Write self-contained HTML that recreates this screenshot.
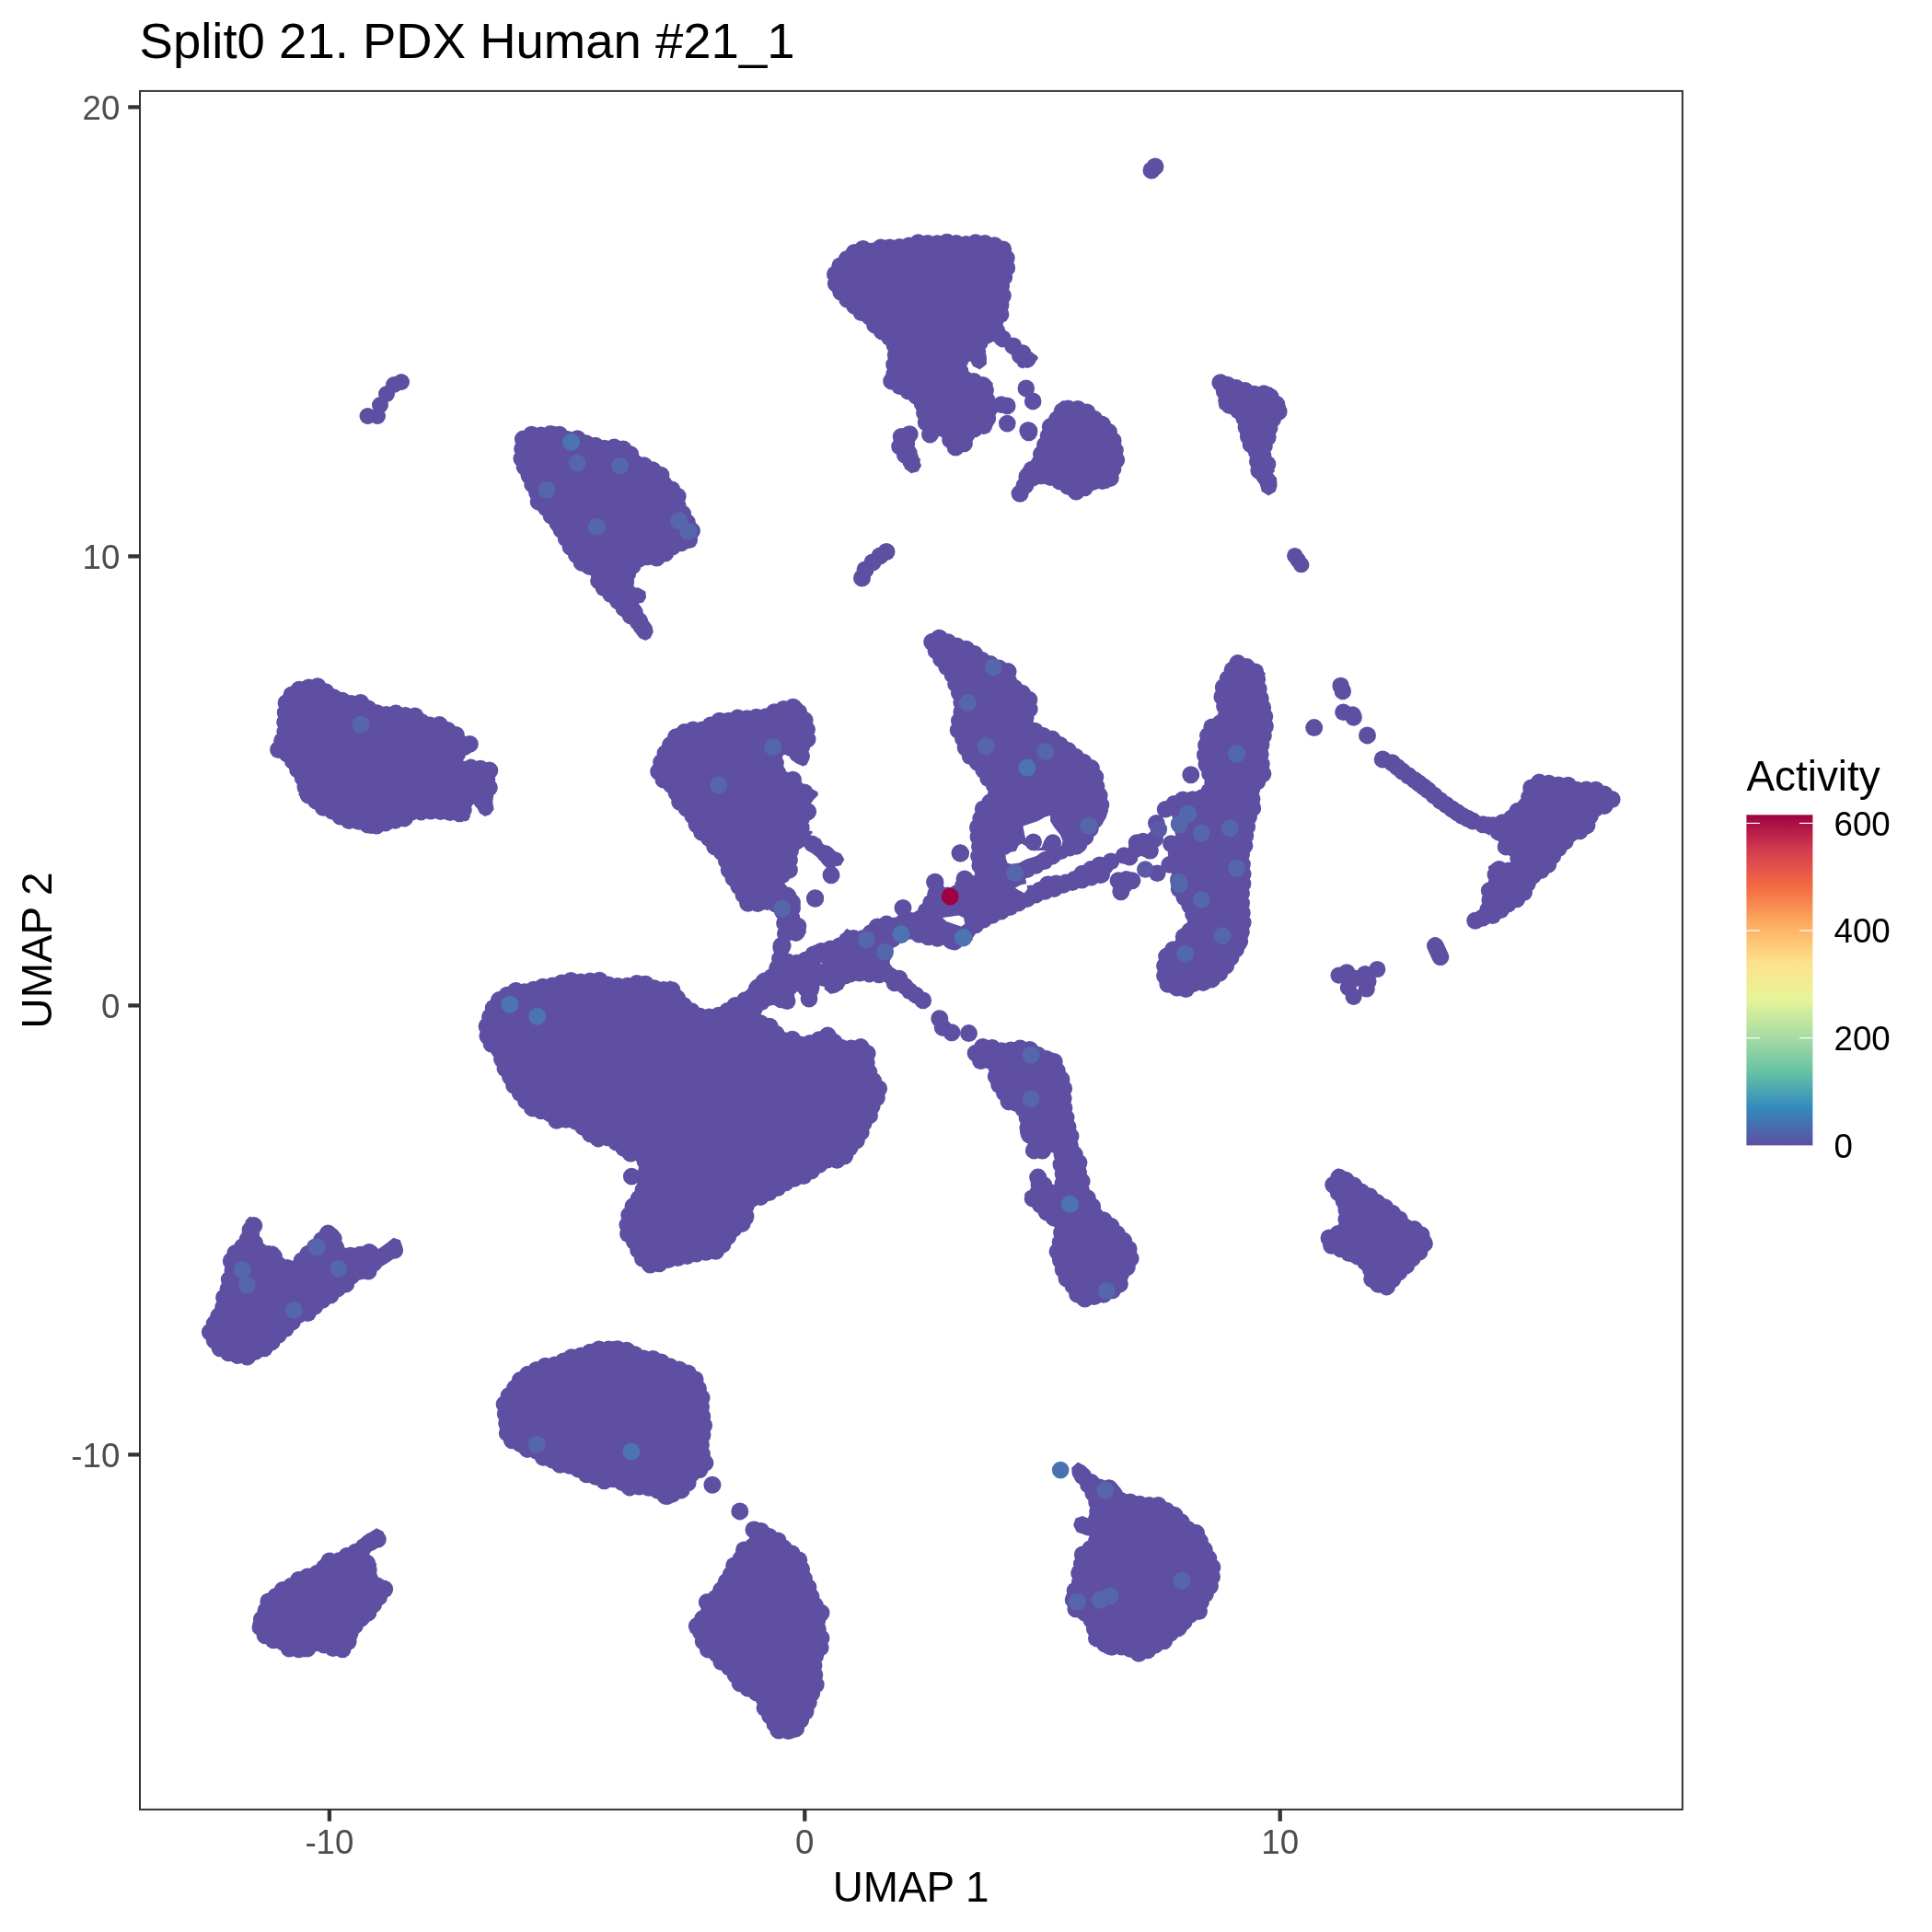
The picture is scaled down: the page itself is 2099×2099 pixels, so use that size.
<!DOCTYPE html><html><head><meta charset="utf-8"><style>html,body{margin:0;padding:0;background:#fff;}svg{display:block;will-change:transform}</style></head><body><svg width="2099" height="2099" viewBox="0 0 2099 2099"><defs><linearGradient id="sp" x1="0" y1="1" x2="0" y2="0"><stop offset="0.0000" stop-color="#5E4FA2"/><stop offset="0.1111" stop-color="#3288BD"/><stop offset="0.2222" stop-color="#66C2A5"/><stop offset="0.3333" stop-color="#ABDDA4"/><stop offset="0.4444" stop-color="#E6F598"/><stop offset="0.5556" stop-color="#FEE08B"/><stop offset="0.6667" stop-color="#FDAE61"/><stop offset="0.7778" stop-color="#F46D43"/><stop offset="0.8889" stop-color="#D53E4F"/><stop offset="1.0000" stop-color="#9E0142"/></linearGradient><clipPath id="pc"><rect x="152" y="99" width="1676" height="1867"/></clipPath></defs><rect width="2099" height="2099" fill="#fff"/><g clip-path="url(#pc)"><g fill="#5E4FA2"><path d="M910.4,323.0 L915.8,329.3 L923.1,335.7 L923.3,335.8 L927.0,339.5 L933.7,346.3 L938.3,347.0 L938.6,347.1 L938.9,347.2 L939.2,347.3 L939.5,347.5 L939.7,347.7 L940.0,347.9 L940.2,348.1 L940.4,348.3 L940.5,348.6 L944.2,354.9 L949.3,361.8 L956.2,366.1 L956.6,366.4 L962.2,371.0 L962.4,371.3 L962.7,371.6 L965.5,375.3 L965.6,375.5 L965.8,375.8 L965.9,376.0 L966.0,376.3 L966.1,376.6 L966.1,376.9 L967.0,386.2 L967.1,386.5 L967.0,386.8 L967.0,387.0 L967.0,387.3 L965.2,394.2 L966.1,403.0 L966.1,403.3 L966.1,403.6 L966.1,404.0 L966.0,404.3 L965.8,404.6 L965.7,404.9 L965.5,405.1 L965.3,405.4 L965.1,405.6 L964.8,405.9 L961.8,408.1 L959.9,412.5 L962.6,417.8 L971.1,422.9 L980.3,428.5 L990.5,434.0 L990.8,434.2 L991.1,434.4 L991.3,434.6 L991.6,434.9 L997.2,442.4 L997.3,442.6 L997.5,442.9 L997.6,443.1 L997.7,443.4 L997.7,443.7 L997.8,444.0 L998.7,453.1 L1000.5,462.1 L1001.6,465.3 L1002.0,465.3 L1002.4,465.3 L1002.7,465.4 L1003.0,465.4 L1003.3,465.5 L1003.5,465.7 L1003.8,465.8 L1004.0,466.0 L1004.3,466.2 L1004.5,466.4 L1004.7,466.7 L1004.8,466.9 L1005.0,467.2 L1005.1,467.5 L1005.2,467.8 L1005.2,468.1 L1006.0,474.0 L1011.3,476.9 L1017.1,473.3 L1019.8,471.4 L1020.1,471.3 L1020.4,471.1 L1020.7,471.0 L1021.0,471.0 L1021.3,470.9 L1021.6,470.9 L1021.9,470.9 L1022.2,471.0 L1022.5,471.0 L1022.8,471.1 L1023.1,471.3 L1023.4,471.4 L1023.7,471.6 L1023.9,471.8 L1024.1,472.1 L1024.3,472.3 L1024.4,472.6 L1024.6,472.9 L1024.7,473.2 L1027.4,482.2 L1031.4,490.2 L1038.4,493.0 L1047.1,489.9 L1053.3,485.3 L1055.8,475.2 L1055.9,474.9 L1056.0,474.6 L1056.1,474.3 L1056.3,474.1 L1056.5,473.9 L1056.7,473.6 L1056.9,473.4 L1057.2,473.3 L1057.4,473.1 L1057.7,473.0 L1067.0,469.3 L1067.3,469.2 L1067.6,469.1 L1075.5,467.5 L1079.0,462.0 L1079.0,453.6 L1079.0,453.3 L1079.0,453.0 L1079.1,452.6 L1079.2,452.3 L1081.6,446.8 L1079.1,435.9 L1076.4,428.6 L1076.3,428.3 L1076.2,428.0 L1076.2,427.7 L1076.2,427.3 L1076.2,427.0 L1076.3,426.7 L1076.4,426.4 L1076.5,426.1 L1078.1,422.9 L1078.8,416.6 L1074.3,412.1 L1068.2,412.1 L1067.9,412.1 L1067.6,412.0 L1067.3,412.0 L1067.0,411.9 L1066.8,411.7 L1057.9,407.3 L1051.9,406.5 L1051.6,406.4 L1051.3,406.3 L1051.0,406.2 L1050.8,406.1 L1050.5,405.9 L1050.3,405.7 L1050.1,405.5 L1049.9,405.3 L1049.7,405.0 L1049.5,404.8 L1049.4,404.5 L1049.3,404.2 L1049.2,403.9 L1049.2,403.6 L1048.2,394.3 L1048.2,394.0 L1048.2,393.7 L1048.3,393.4 L1048.4,393.0 L1048.5,392.8 L1048.6,392.5 L1048.8,392.2 L1049.0,391.9 L1049.2,391.7 L1049.4,391.5 L1049.7,391.3 L1052.4,389.4 L1052.7,389.3 L1053.0,389.2 L1053.3,389.0 L1053.6,389.0 L1053.9,388.9 L1054.3,388.9 L1054.6,388.9 L1054.9,389.0 L1055.2,389.1 L1055.5,389.2 L1055.8,389.3 L1056.0,389.4 L1055.7,389.4 L1055.2,389.4 L1054.8,389.4 L1054.3,389.4 L1053.9,389.5 L1053.5,389.6 L1053.1,389.8 L1052.7,390.0 L1052.3,390.3 L1052.0,390.6 L1051.7,390.9 L1051.4,391.3 L1051.2,391.6 L1051.0,392.0 L1050.8,392.4 L1050.7,392.9 L1050.6,393.3 L1050.6,393.7 L1050.6,394.2 L1050.7,394.6 L1050.8,395.0 L1050.9,395.5 L1051.1,395.9 L1051.8,397.2 L1051.4,394.0 L1054.2,392.1 L1057.0,397.7 L1064.5,401.4 L1071.9,395.8 L1071.9,388.4 L1071.5,384.6 L1071.2,384.6 L1070.7,384.7 L1070.3,384.8 L1069.9,385.0 L1069.5,385.2 L1069.2,385.5 L1068.9,385.8 L1068.6,386.1 L1068.5,386.2 L1067.8,379.4 L1067.8,379.1 L1067.8,378.8 L1067.9,378.4 L1067.9,378.1 L1068.0,377.8 L1068.2,377.6 L1068.3,377.3 L1072.1,371.7 L1072.2,371.4 L1072.5,371.2 L1072.7,371.0 L1073.0,370.8 L1073.2,370.6 L1073.5,370.5 L1078.2,368.6 L1078.5,368.5 L1078.8,368.5 L1079.1,368.4 L1079.4,368.4 L1079.7,368.4 L1080.0,368.5 L1080.3,368.6 L1080.6,368.7 L1080.9,368.8 L1081.2,369.0 L1081.4,369.1 L1081.6,369.4 L1086.7,374.4 L1091.6,376.0 L1091.8,376.1 L1092.1,376.3 L1092.4,376.4 L1092.6,376.6 L1092.8,376.8 L1098.4,382.4 L1098.6,382.6 L1098.8,382.9 L1102.5,388.5 L1102.7,388.8 L1102.9,389.2 L1106.2,398.2 L1110.9,400.6 L1116.8,396.9 L1117.1,396.7 L1117.4,396.6 L1124.1,394.1 L1127.9,389.5 L1127.0,386.8 L1118.7,381.8 L1118.4,381.6 L1110.0,375.1 L1102.5,369.2 L1098.9,369.2 L1098.6,369.2 L1098.3,369.2 L1098.0,369.1 L1097.7,369.0 L1097.4,368.8 L1097.1,368.7 L1096.9,368.5 L1096.6,368.2 L1096.4,368.0 L1096.2,367.7 L1096.1,367.5 L1093.5,362.2 L1087.2,355.1 L1087.0,354.8 L1086.8,354.6 L1086.7,354.3 L1086.6,354.0 L1086.5,353.7 L1086.4,353.4 L1086.4,353.0 L1086.4,352.7 L1086.5,352.4 L1086.6,352.1 L1086.7,351.8 L1086.8,351.5 L1087.0,351.2 L1087.1,351.0 L1087.4,350.7 L1090.8,347.2 L1094.6,341.3 L1093.0,335.1 L1093.0,334.8 L1093.0,334.5 L1093.0,334.3 L1093.0,334.0 L1093.0,333.7 L1095.7,321.2 L1093.9,310.7 L1093.9,310.3 L1093.9,310.0 L1093.9,309.7 L1094.0,309.4 L1094.0,309.1 L1094.1,308.9 L1099.5,296.3 L1100.4,286.0 L1098.6,273.7 L1096.3,268.3 L1089.1,261.9 L1075.1,259.2 L1075.0,259.2 L1062.7,256.6 L1052.2,259.2 L1051.9,259.3 L1051.5,259.3 L1051.2,259.3 L1040.0,258.3 L1039.7,258.3 L1029.2,256.6 L1022.4,258.3 L1022.0,258.3 L1021.6,258.4 L1010.4,258.4 L1010.2,258.3 L1009.9,258.3 L999.5,256.6 L985.3,261.0 L985.0,261.1 L984.7,261.1 L969.8,263.0 L969.5,263.0 L969.2,263.0 L969.0,263.0 L968.7,262.9 L961.6,261.2 L955.9,261.2 L951.2,265.8 L951.0,266.0 L950.7,266.2 L950.5,266.4 L950.2,266.5 L949.9,266.6 L949.6,266.7 L949.3,266.7 L949.0,266.7 L948.6,266.7 L948.3,266.7 L948.0,266.6 L939.3,264.0 L931.4,264.8 L923.9,269.8 L914.8,278.0 L906.8,286.0 L901.0,296.7 L901.8,302.2 L901.8,302.7 L901.8,309.4 L906.0,317.7ZM980.4,500.1 L985.3,506.7 L984.9,506.8 L984.5,506.9 L984.1,507.0 L983.7,507.2 L983.3,507.4 L983.0,507.7 L982.6,508.0 L982.4,508.2 L983.4,509.5 L989.9,514.2 L997.4,512.3 L1001.1,505.8 L999.3,502.0 L1000.2,498.3 L999.8,498.3 L999.3,498.3 L998.9,498.4 L998.5,498.5 L998.1,498.6 L997.7,498.8 L997.3,499.0 L996.9,499.2 L996.6,499.5 L997.7,495.0 L996.6,492.8 L991.4,487.5 L991.2,487.3 L991.0,487.0 L990.8,486.8 L990.7,486.5 L990.6,486.2 L990.5,485.9 L990.5,485.5 L990.5,485.2 L990.5,484.9 L990.5,484.6 L990.6,484.3 L992.5,478.7 L992.6,478.5 L995.6,470.9 L990.3,464.3 L982.6,464.3 L974.0,470.5 L971.7,476.7 L970.8,484.8 L974.1,492.9 L980.2,499.9ZM566.2,512.1 L566.4,512.3 L566.6,512.6 L566.8,512.8 L567.0,513.1 L567.2,513.4 L567.3,513.7 L568.5,517.4 L572.4,526.4 L572.5,526.7 L572.5,527.0 L573.7,532.5 L576.8,535.7 L577.1,536.0 L577.2,536.2 L577.4,536.5 L577.5,536.8 L577.6,537.1 L577.7,537.4 L577.8,537.7 L577.8,538.0 L577.8,538.3 L577.2,544.1 L578.5,548.7 L582.5,550.7 L582.8,550.9 L586.7,553.4 L587.0,553.6 L587.2,553.9 L587.4,554.1 L587.6,554.4 L587.8,554.7 L590.3,559.6 L593.7,564.2 L598.5,567.8 L598.7,568.0 L599.0,568.2 L599.1,568.4 L599.3,568.7 L599.5,569.0 L599.6,569.2 L599.7,569.5 L599.7,569.8 L599.8,570.1 L599.8,570.4 L599.8,570.7 L599.3,574.8 L601.4,578.2 L605.8,580.4 L606.1,580.6 L606.3,580.8 L606.6,581.0 L606.8,581.2 L607.0,581.5 L607.2,581.8 L607.3,582.1 L609.9,588.6 L612.3,594.6 L615.8,599.3 L619.6,603.0 L619.8,603.2 L619.9,603.5 L620.1,603.7 L620.2,604.0 L620.3,604.3 L621.4,607.4 L624.7,610.8 L625.0,611.0 L625.2,611.3 L625.3,611.6 L626.6,614.2 L628.8,618.5 L633.7,621.5 L638.0,621.5 L638.3,621.5 L638.7,621.6 L639.0,621.7 L642.9,622.9 L643.2,623.1 L643.4,623.2 L643.7,623.4 L644.0,623.6 L644.2,623.8 L644.4,624.0 L644.6,624.2 L644.7,624.5 L644.8,624.8 L644.9,625.1 L645.0,625.4 L645.1,625.7 L645.1,626.0 L645.1,626.3 L645.0,626.6 L643.8,632.5 L644.8,638.3 L651.4,642.7 L651.7,642.9 L652.0,643.2 L652.2,643.5 L655.7,648.1 L661.6,651.7 L662.0,651.9 L662.3,652.2 L664.8,654.8 L665.0,655.0 L671.5,662.8 L671.5,662.8 L676.6,669.1 L681.5,674.1 L687.9,679.1 L688.1,679.4 L688.4,679.6 L691.2,683.1 L690.9,683.1 L690.4,683.1 L690.0,683.2 L689.5,683.2 L689.1,683.4 L688.7,683.6 L688.3,683.8 L687.9,684.0 L687.8,684.1 L691.0,688.1 L694.9,693.3 L701.4,695.9 L706.6,693.3 L709.8,686.8 L708.5,680.3 L704.0,673.9 L703.7,672.3 L703.4,672.5 L703.0,672.7 L702.7,673.0 L702.4,673.3 L702.1,673.7 L701.8,674.0 L701.6,674.4 L701.5,674.8 L701.3,675.3 L701.3,675.6 L701.2,675.4 L701.0,675.1 L700.9,674.8 L700.8,674.5 L699.7,668.7 L696.3,664.2 L691.1,657.7 L690.9,657.5 L690.8,657.2 L690.7,656.9 L690.6,656.6 L690.5,656.3 L690.4,656.0 L690.4,655.7 L690.5,655.3 L690.5,655.0 L690.6,654.7 L690.7,654.4 L690.8,654.2 L690.8,654.3 L690.7,654.7 L690.7,655.1 L690.7,655.6 L690.7,656.0 L690.8,656.5 L690.9,656.9 L691.1,657.3 L691.3,657.7 L691.6,658.0 L691.8,658.4 L692.2,658.7 L692.5,659.0 L692.9,659.2 L693.3,659.4 L693.7,659.6 L694.1,659.7 L694.5,659.8 L695.0,659.9 L695.4,659.9 L695.8,659.8 L696.3,659.7 L696.7,659.6 L693.6,655.7 L698.8,654.5 L702.0,649.3 L701.4,642.8 L694.9,638.9 L692.5,637.9 L692.5,638.0 L692.3,638.4 L692.2,638.8 L692.1,639.3 L692.0,639.7 L692.1,640.1 L692.1,640.6 L692.2,641.0 L692.3,641.3 L687.3,639.3 L687.0,639.2 L686.7,639.0 L686.5,638.8 L686.2,638.6 L686.0,638.4 L685.8,638.1 L685.6,637.9 L685.5,637.6 L685.4,637.3 L685.3,637.0 L685.3,636.7 L685.3,636.4 L685.3,636.0 L685.3,635.7 L685.4,635.4 L685.5,635.1 L685.6,634.8 L685.8,634.6 L686.0,634.3 L686.2,634.1 L688.2,632.1 L689.0,628.6 L687.9,624.2 L687.9,623.9 L687.8,623.5 L687.9,623.2 L687.9,622.9 L687.9,622.6 L688.0,622.3 L688.2,622.0 L688.3,621.7 L688.5,621.5 L688.7,621.2 L688.9,621.0 L689.2,620.8 L689.5,620.6 L689.7,620.5 L690.0,620.4 L693.2,619.3 L696.0,616.5 L697.1,613.3 L697.2,613.0 L697.3,612.8 L697.5,612.5 L697.7,612.3 L697.9,612.0 L698.1,611.8 L698.4,611.7 L698.6,611.5 L698.9,611.4 L699.2,611.3 L699.5,611.2 L699.8,611.2 L700.1,611.1 L705.3,611.1 L705.6,611.2 L705.9,611.2 L706.2,611.3 L706.4,611.4 L706.7,611.5 L710.8,613.5 L714.5,612.6 L719.4,610.2 L724.3,607.7 L728.6,604.5 L729.6,602.6 L729.7,602.3 L729.9,602.1 L730.1,601.8 L730.3,601.6 L730.5,601.4 L730.8,601.3 L735.9,598.0 L736.2,597.9 L736.5,597.8 L741.7,595.8 L742.0,595.7 L742.2,595.7 L742.5,595.6 L742.8,595.6 L748.5,595.6 L752.2,593.8 L754.6,590.0 L755.1,584.3 L755.2,583.9 L755.3,583.6 L755.4,583.3 L755.5,583.0 L758.6,577.3 L756.8,573.1 L751.7,564.2 L748.5,559.1 L748.4,558.8 L748.2,558.6 L748.2,558.3 L746.4,552.4 L741.6,546.5 L741.4,546.2 L741.3,546.0 L741.1,545.7 L741.0,545.4 L741.0,545.1 L740.9,544.8 L740.9,544.5 L740.9,544.2 L741.0,543.9 L741.0,543.6 L741.1,543.3 L741.2,543.0 L743.3,538.8 L742.5,534.6 L736.9,530.1 L736.7,529.9 L731.9,525.1 L727.1,522.7 L726.9,522.6 L726.6,522.4 L726.4,522.2 L726.1,521.9 L725.9,521.7 L725.8,521.4 L725.6,521.1 L725.5,520.8 L725.4,520.5 L725.4,520.2 L725.4,519.9 L725.4,515.8 L722.4,511.8 L716.6,507.1 L707.9,503.4 L707.5,503.2 L701.7,499.7 L695.9,499.1 L695.6,499.1 L695.3,499.0 L695.0,498.9 L694.7,498.8 L694.5,498.6 L694.2,498.4 L694.0,498.2 L693.8,498.0 L693.6,497.8 L693.4,497.5 L693.3,497.2 L690.7,491.5 L688.4,486.8 L684.3,482.7 L677.6,481.6 L677.3,481.6 L677.0,481.5 L676.7,481.4 L676.5,481.2 L671.3,478.1 L664.9,480.2 L664.5,480.3 L664.1,480.4 L656.4,481.0 L656.1,481.0 L655.8,481.0 L655.5,481.0 L655.2,480.9 L654.9,480.8 L647.4,477.7 L638.6,475.8 L638.3,475.7 L638.0,475.6 L637.7,475.4 L628.3,470.1 L619.0,471.3 L618.7,471.3 L618.3,471.3 L618.0,471.3 L617.7,471.2 L617.4,471.1 L617.1,470.9 L616.8,470.8 L609.3,465.8 L603.0,463.1 L595.1,466.0 L594.7,466.1 L594.3,466.1 L587.8,466.8 L587.5,466.8 L587.2,466.8 L586.8,466.7 L586.5,466.6 L579.9,464.4 L573.2,467.2 L566.1,470.1 L562.2,474.6 L561.6,485.1 L561.6,485.2 L560.3,502.8 L561.9,508.9ZM303.6,797.6 L303.6,797.9 L303.5,798.2 L303.4,798.5 L303.3,798.7 L303.2,799.0 L303.1,799.3 L302.9,799.5 L298.4,805.3 L296.5,811.5 L296.0,816.8 L299.3,820.5 L305.2,821.7 L305.5,821.8 L305.8,821.9 L306.1,822.0 L306.3,822.2 L306.6,822.3 L306.8,822.6 L311.0,826.7 L311.3,827.0 L311.5,827.4 L315.7,834.3 L315.8,834.6 L319.9,842.7 L324.7,849.5 L324.8,849.8 L325.0,850.1 L325.1,850.4 L325.2,850.7 L325.2,851.0 L325.9,858.0 L325.9,858.3 L325.9,858.6 L325.9,858.9 L325.8,859.2 L325.7,859.5 L324.3,863.3 L326.2,865.7 L332.8,869.6 L333.1,869.8 L340.1,875.4 L340.4,875.7 L346.9,882.2 L353.3,884.7 L360.3,887.5 L360.5,887.7 L360.8,887.8 L361.1,888.0 L367.8,893.4 L375.5,897.2 L381.7,898.5 L388.4,898.5 L388.7,898.5 L389.0,898.5 L389.3,898.6 L389.6,898.7 L396.6,901.5 L396.9,901.6 L397.1,901.8 L397.4,902.0 L402.8,906.3 L407.9,903.7 L408.2,903.6 L408.5,903.5 L408.8,903.4 L409.1,903.4 L415.5,902.7 L423.3,898.8 L423.6,898.7 L423.9,898.6 L424.2,898.5 L432.6,897.1 L439.2,895.8 L445.1,893.4 L448.7,888.6 L448.9,888.3 L449.2,888.1 L449.4,887.9 L449.7,887.7 L450.0,887.6 L450.3,887.5 L450.6,887.4 L450.9,887.3 L451.2,887.3 L451.5,887.3 L451.8,887.3 L459.6,888.6 L466.0,887.4 L466.4,887.3 L466.7,887.3 L475.1,887.3 L475.5,887.3 L475.8,887.4 L483.7,889.4 L490.1,888.7 L490.4,888.7 L490.7,888.7 L491.0,888.7 L499.3,890.1 L499.7,890.2 L500.0,890.3 L505.7,892.6 L509.0,890.9 L510.9,887.2 L509.6,879.8 L509.6,879.5 L509.6,879.2 L509.6,878.9 L509.7,878.5 L511.1,873.0 L511.2,872.7 L511.3,872.4 L511.4,872.1 L511.6,871.8 L511.8,871.6 L512.0,871.4 L512.2,871.2 L512.5,871.0 L512.8,870.9 L513.0,870.7 L513.3,870.6 L513.6,870.6 L513.9,870.5 L514.2,870.5 L514.6,870.5 L514.9,870.6 L515.2,870.7 L515.4,870.8 L515.7,870.9 L516.0,871.1 L516.2,871.3 L516.5,871.5 L519.7,874.7 L519.5,874.7 L519.1,874.7 L518.6,874.7 L518.2,874.7 L517.8,874.8 L517.3,875.0 L516.9,875.2 L516.6,875.4 L516.2,875.6 L516.2,875.7 L518.4,877.9 L521.2,883.5 L526.8,887.0 L532.4,884.9 L536.6,879.3 L535.2,870.9 L535.6,868.6 L535.2,868.6 L534.8,868.7 L534.3,868.8 L533.9,868.9 L533.5,869.1 L533.1,869.3 L532.8,869.6 L532.4,869.9 L532.1,870.2 L532.0,870.3 L532.0,870.3 L533.4,863.3 L533.5,863.0 L533.6,862.7 L533.7,862.4 L533.9,862.2 L534.1,861.9 L534.3,861.7 L538.9,857.0 L538.9,852.3 L535.2,846.0 L535.1,845.8 L534.9,845.5 L534.9,845.2 L534.8,844.9 L534.8,844.6 L534.8,844.3 L534.8,844.0 L534.8,843.7 L534.9,843.4 L535.0,843.1 L535.1,842.8 L535.3,842.6 L535.5,842.3 L535.7,842.1 L540.1,837.7 L539.3,833.8 L532.8,830.0 L525.1,829.4 L524.9,829.4 L524.6,829.3 L516.7,827.3 L509.1,828.0 L503.8,829.3 L503.5,829.4 L503.2,829.4 L502.9,829.4 L502.5,829.4 L502.2,829.3 L501.9,829.2 L501.6,829.1 L501.4,829.0 L501.1,828.8 L500.9,828.6 L500.6,828.4 L500.4,828.1 L500.3,827.8 L500.1,827.6 L500.0,827.3 L499.9,827.0 L499.8,826.7 L499.8,826.4 L499.8,826.0 L499.8,825.7 L499.9,825.4 L500.0,825.1 L500.1,824.8 L500.3,824.6 L500.5,824.3 L504.6,818.7 L504.9,818.4 L505.1,818.2 L505.4,818.0 L505.6,817.8 L505.9,817.7 L506.2,817.6 L506.6,817.5 L506.9,817.4 L513.1,816.8 L517.2,814.3 L519.0,809.7 L516.0,804.7 L510.9,801.2 L506.9,802.7 L506.6,802.8 L506.3,802.8 L506.0,802.9 L505.7,802.9 L505.4,802.8 L505.1,802.8 L504.8,802.7 L504.5,802.6 L504.2,802.4 L503.9,802.2 L503.7,802.0 L503.4,801.8 L503.2,801.6 L503.1,801.3 L502.9,801.0 L502.8,800.7 L502.7,800.4 L501.5,795.7 L495.7,789.9 L488.0,787.3 L487.8,787.2 L487.5,787.1 L487.3,787.0 L487.0,786.8 L480.7,781.7 L472.4,780.5 L465.9,781.8 L465.6,781.9 L465.3,781.9 L464.9,781.9 L464.6,781.8 L464.3,781.7 L464.0,781.6 L463.7,781.5 L463.5,781.3 L463.2,781.1 L463.0,780.9 L462.8,780.7 L462.6,780.4 L462.4,780.1 L459.9,775.2 L454.6,770.9 L447.6,772.1 L447.3,772.1 L446.9,772.1 L446.6,772.1 L438.2,770.7 L438.0,770.6 L430.1,768.7 L423.8,769.3 L417.0,770.7 L416.7,770.7 L416.4,770.7 L416.1,770.7 L415.8,770.7 L415.5,770.6 L415.2,770.5 L414.9,770.4 L406.6,766.2 L401.0,763.4 L400.7,763.2 L400.4,763.0 L400.1,762.8 L396.2,758.9 L390.8,755.6 L383.8,758.0 L383.5,758.1 L383.2,758.1 L382.9,758.1 L382.6,758.1 L382.3,758.1 L382.0,758.0 L376.5,756.6 L376.1,756.5 L375.8,756.4 L375.5,756.2 L375.2,756.0 L369.3,751.3 L365.1,751.8 L364.8,751.8 L364.5,751.8 L364.2,751.8 L363.9,751.7 L363.6,751.7 L363.3,751.5 L363.0,751.4 L362.8,751.2 L362.6,751.1 L357.1,746.3 L348.9,740.8 L348.8,740.8 L343.4,737.0 L338.1,739.6 L337.9,739.8 L337.6,739.8 L327.8,742.6 L327.5,742.7 L327.2,742.8 L318.6,743.4 L312.7,749.9 L304.9,761.6 L304.3,771.9 L304.2,772.3 L302.9,778.9 L303.6,786.8 L303.6,787.1ZM717.7,854.6 L722.6,855.6 L722.9,855.6 L723.3,855.8 L723.6,855.9 L723.8,856.1 L724.1,856.3 L724.3,856.5 L724.6,856.8 L728.4,862.0 L728.6,862.2 L728.8,862.5 L728.9,862.9 L731.5,870.5 L733.6,875.8 L737.7,877.8 L738.0,878.0 L738.2,878.2 L738.5,878.4 L738.7,878.7 L738.9,878.9 L741.3,882.5 L746.3,887.5 L746.5,887.7 L746.7,888.0 L746.8,888.2 L747.0,888.5 L747.1,888.8 L747.1,889.1 L747.2,889.4 L747.2,889.8 L747.2,892.7 L750.4,898.1 L754.0,901.7 L754.2,902.0 L754.4,902.2 L754.6,902.5 L754.7,902.8 L756.9,908.3 L762.5,911.6 L762.8,911.8 L763.1,912.1 L767.0,916.0 L767.2,916.3 L767.4,916.6 L771.3,923.0 L774.7,928.6 L780.1,930.8 L780.4,930.9 L780.7,931.1 L780.9,931.2 L781.2,931.4 L781.4,931.7 L781.6,931.9 L781.7,932.2 L781.9,932.4 L782.0,932.7 L784.6,940.5 L784.6,940.7 L786.6,948.5 L788.2,955.2 L793.9,959.7 L794.1,959.9 L794.4,960.2 L794.6,960.5 L794.7,960.8 L797.3,965.9 L801.1,972.2 L801.2,972.4 L803.8,977.6 L804.0,978.0 L806.2,984.7 L811.0,987.5 L819.0,988.1 L826.3,987.5 L835.2,985.6 L835.5,985.6 L835.8,985.5 L836.1,985.6 L836.4,985.6 L836.7,985.7 L837.0,985.8 L837.3,985.9 L837.6,986.0 L842.7,989.3 L843.0,989.4 L843.2,989.6 L843.4,989.8 L843.6,990.1 L843.8,990.3 L843.9,990.6 L844.1,990.9 L844.1,991.2 L844.2,991.5 L845.1,996.8 L845.4,996.8 L846.2,1002.8 L846.3,1003.0 L847.6,1017.8 L847.6,1018.1 L847.6,1018.4 L847.5,1018.7 L847.5,1019.0 L847.4,1019.3 L847.2,1019.6 L847.1,1019.9 L846.9,1020.1 L841.3,1026.8 L843.4,1033.2 L843.5,1033.5 L843.6,1033.8 L843.6,1034.2 L843.6,1034.5 L843.5,1034.8 L843.4,1035.2 L843.3,1035.5 L839.4,1044.5 L838.2,1053.5 L838.1,1053.8 L838.0,1054.1 L837.9,1054.4 L837.8,1054.7 L837.7,1054.7 L832.3,1057.9 L828.6,1059.8 L820.0,1066.0 L818.1,1069.8 L817.3,1070.6 L813.0,1077.7 L803.2,1082.0 L803.2,1084.6 L797.1,1085.9 L788.1,1092.6 L787.9,1092.7 L787.6,1092.9 L778.1,1097.6 L777.8,1097.7 L777.6,1097.8 L777.3,1097.9 L777.0,1097.9 L765.1,1099.1 L764.8,1099.2 L764.5,1099.1 L764.2,1099.1 L763.9,1099.0 L763.6,1098.9 L763.3,1098.8 L763.1,1098.7 L753.5,1092.7 L753.3,1092.6 L743.8,1085.4 L743.6,1085.2 L743.3,1085.0 L743.1,1084.8 L743.0,1084.5 L736.0,1072.9 L728.4,1065.3 L721.0,1069.1 L720.7,1069.2 L720.4,1069.3 L720.0,1069.3 L719.7,1069.4 L719.4,1069.4 L719.1,1069.4 L718.7,1069.3 L709.2,1066.9 L708.9,1066.8 L708.6,1066.7 L708.3,1066.5 L708.1,1066.4 L699.8,1060.1 L691.7,1062.2 L677.4,1065.7 L677.2,1065.8 L676.9,1065.8 L676.6,1065.8 L676.3,1065.8 L664.4,1064.6 L664.2,1064.6 L663.9,1064.5 L663.6,1064.4 L663.3,1064.3 L650.0,1057.6 L634.5,1061.0 L634.2,1061.0 L633.9,1061.1 L633.6,1061.1 L633.4,1061.0 L617.5,1058.8 L601.6,1064.4 L601.2,1064.5 L600.9,1064.6 L582.4,1066.9 L573.3,1071.4 L573.0,1071.6 L572.7,1071.7 L572.4,1071.7 L572.1,1071.8 L571.7,1071.8 L571.4,1071.7 L571.1,1071.7 L570.8,1071.6 L570.5,1071.4 L562.6,1067.5 L553.4,1073.6 L553.1,1073.8 L552.8,1074.0 L540.6,1078.4 L529.6,1093.8 L522.8,1114.2 L523.9,1129.8 L526.8,1137.7 L535.2,1141.9 L535.5,1142.1 L535.8,1142.2 L536.0,1142.5 L536.3,1142.7 L536.5,1143.0 L536.6,1143.2 L536.8,1143.5 L536.9,1143.8 L540.4,1155.6 L543.8,1164.7 L548.4,1171.6 L548.6,1171.9 L548.7,1172.2 L552.1,1181.2 L557.7,1188.0 L557.8,1188.1 L564.9,1197.6 L571.8,1206.8 L580.1,1213.0 L591.0,1213.0 L591.3,1213.0 L591.6,1213.1 L591.9,1213.1 L592.2,1213.2 L592.5,1213.4 L592.7,1213.5 L593.0,1213.7 L593.2,1213.9 L593.4,1214.2 L593.6,1214.4 L597.9,1220.9 L605.5,1224.6 L611.4,1222.7 L611.7,1222.6 L612.0,1222.5 L612.4,1222.5 L619.5,1222.5 L619.8,1222.5 L620.1,1222.6 L620.4,1222.6 L620.7,1222.7 L620.9,1222.8 L621.2,1223.0 L621.4,1223.2 L631.0,1230.3 L631.3,1230.6 L640.5,1239.8 L648.5,1243.8 L656.8,1241.7 L657.2,1241.6 L657.5,1241.6 L657.8,1241.6 L658.1,1241.6 L658.4,1241.7 L658.7,1241.7 L659.0,1241.9 L659.3,1242.0 L671.2,1249.2 L671.4,1249.3 L671.6,1249.5 L671.8,1249.7 L672.0,1249.9 L672.2,1250.1 L676.6,1256.7 L682.0,1260.4 L690.2,1258.3 L690.5,1258.3 L690.8,1258.2 L691.1,1258.2 L691.4,1258.3 L691.8,1258.3 L692.1,1258.4 L692.4,1258.6 L692.6,1258.7 L692.9,1258.9 L693.1,1259.1 L693.4,1259.3 L693.6,1259.6 L693.7,1259.8 L693.9,1260.1 L694.0,1260.4 L696.4,1267.6 L696.4,1267.8 L696.5,1268.1 L696.5,1268.4 L696.5,1268.7 L696.5,1269.0 L694.1,1288.0 L694.1,1288.4 L694.0,1288.7 L693.8,1289.1 L689.1,1298.6 L688.9,1298.8 L688.8,1299.1 L681.9,1308.2 L677.4,1319.4 L675.1,1333.1 L675.1,1343.0 L680.8,1346.9 L681.1,1347.1 L681.3,1347.3 L681.6,1347.5 L681.7,1347.8 L681.9,1348.1 L686.7,1357.6 L686.8,1357.9 L691.3,1369.2 L700.0,1377.8 L708.0,1381.8 L716.0,1379.8 L725.2,1375.2 L725.5,1375.1 L725.8,1375.0 L726.0,1375.0 L737.9,1372.6 L749.8,1370.2 L764.0,1366.7 L764.4,1366.6 L764.8,1366.6 L776.1,1366.6 L784.2,1363.5 L790.7,1354.8 L795.4,1347.7 L800.2,1340.6 L800.4,1340.4 L800.5,1340.2 L800.8,1340.0 L801.0,1339.8 L801.2,1339.6 L812.8,1332.7 L818.2,1327.2 L816.5,1322.0 L816.4,1321.6 L816.3,1321.3 L816.3,1321.0 L816.3,1311.4 L816.3,1311.1 L816.4,1310.8 L816.5,1310.5 L816.6,1310.2 L816.7,1309.9 L816.9,1309.7 L817.0,1309.4 L817.3,1309.2 L817.5,1309.0 L817.7,1308.8 L818.0,1308.6 L818.3,1308.5 L818.6,1308.4 L818.9,1308.3 L830.3,1306.0 L841.7,1299.2 L841.9,1299.0 L851.2,1294.4 L860.5,1287.4 L860.7,1287.3 L860.9,1287.1 L861.2,1287.0 L861.5,1286.9 L861.8,1286.9 L873.2,1284.6 L881.9,1280.2 L888.7,1273.5 L889.0,1273.2 L889.3,1273.0 L901.2,1265.8 L901.5,1265.7 L901.7,1265.6 L902.0,1265.5 L902.3,1265.4 L902.6,1265.4 L902.9,1265.4 L903.2,1265.4 L903.5,1265.4 L914.0,1267.5 L921.8,1261.7 L926.2,1252.9 L926.4,1252.6 L926.6,1252.3 L926.8,1252.0 L933.8,1245.0 L940.3,1236.3 L942.6,1225.1 L942.7,1224.8 L942.8,1224.5 L942.9,1224.2 L943.1,1223.9 L943.2,1223.7 L943.5,1223.5 L949.9,1217.0 L952.1,1206.0 L952.2,1205.7 L952.3,1205.4 L952.5,1205.1 L960.5,1191.4 L961.5,1181.4 L955.1,1172.9 L954.9,1172.6 L954.8,1172.4 L947.6,1158.1 L947.5,1157.8 L947.4,1157.5 L947.3,1157.2 L947.3,1156.9 L947.3,1156.6 L947.3,1156.3 L947.3,1156.0 L949.5,1145.2 L945.5,1137.1 L939.6,1131.3 L929.4,1131.3 L920.3,1133.6 L920.0,1133.6 L919.7,1133.7 L919.4,1133.7 L919.0,1133.6 L918.7,1133.6 L918.4,1133.5 L918.1,1133.4 L917.9,1133.2 L917.6,1133.0 L908.1,1125.9 L907.9,1125.7 L907.6,1125.5 L907.5,1125.3 L907.3,1125.0 L907.1,1124.8 L903.5,1117.5 L896.8,1119.2 L882.9,1126.2 L882.5,1126.3 L882.2,1126.4 L872.7,1128.8 L872.4,1128.9 L872.1,1128.9 L871.7,1128.9 L871.4,1128.9 L871.1,1128.8 L870.8,1128.7 L870.5,1128.6 L870.2,1128.5 L870.0,1128.3 L861.7,1122.0 L853.6,1124.1 L853.3,1124.1 L853.0,1124.1 L852.7,1124.2 L852.4,1124.1 L852.1,1124.1 L851.8,1124.0 L851.6,1123.9 L851.3,1123.7 L851.0,1123.6 L850.8,1123.4 L850.6,1123.2 L850.4,1123.0 L850.2,1122.7 L845.6,1115.8 L839.2,1109.5 L825.7,1104.9 L825.4,1104.8 L825.1,1104.7 L824.8,1104.5 L824.6,1104.3 L824.4,1104.1 L824.2,1103.9 L824.0,1103.6 L823.8,1103.4 L823.7,1103.1 L823.6,1102.8 L823.5,1102.5 L823.5,1102.2 L823.5,1101.9 L823.5,1101.6 L823.5,1101.3 L823.6,1101.0 L823.7,1100.7 L823.9,1100.4 L824.0,1100.1 L824.2,1099.9 L824.4,1099.6 L829.2,1094.9 L829.4,1094.7 L829.7,1094.5 L836.8,1089.7 L837.1,1089.6 L837.3,1089.4 L837.6,1089.3 L838.0,1089.2 L838.3,1089.2 L838.6,1089.2 L838.9,1089.2 L839.2,1089.2 L839.5,1089.3 L846.8,1091.7 L853.4,1094.0 L858.2,1091.1 L861.2,1086.2 L860.1,1082.1 L860.1,1081.8 L860.1,1081.4 L860.1,1081.1 L860.1,1080.8 L860.2,1080.4 L860.3,1080.1 L860.4,1079.8 L860.6,1079.5 L863.3,1075.5 L863.5,1075.2 L863.7,1075.0 L863.9,1074.8 L864.2,1074.6 L864.4,1074.4 L864.7,1074.3 L865.0,1074.2 L865.3,1074.1 L865.6,1074.1 L865.7,1074.1 L870.4,1077.2 L870.9,1077.7 L871.1,1077.9 L871.3,1078.2 L876.2,1085.6 L880.2,1087.6 L884.5,1083.7 L885.7,1083.1 L887.8,1070.4 L887.9,1070.1 L888.0,1069.8 L888.1,1069.5 L888.2,1069.3 L888.4,1069.0 L888.6,1068.8 L888.8,1068.6 L889.1,1068.4 L889.3,1068.2 L889.6,1068.0 L889.9,1067.9 L890.2,1067.8 L890.5,1067.8 L890.8,1067.8 L891.1,1067.8 L891.4,1067.8 L891.7,1067.9 L892.0,1067.9 L892.3,1068.1 L892.6,1068.2 L896.2,1070.4 L895.5,1074.6 L902.3,1080.0 L909.0,1078.6 L915.7,1074.6 L918.4,1069.2 L922.5,1068.5 L922.4,1068.2 L922.3,1067.8 L922.0,1067.4 L921.8,1067.1 L921.5,1066.7 L921.2,1066.4 L920.9,1066.1 L920.5,1065.9 L920.3,1065.7 L920.9,1065.5 L925.5,1064.8 L929.1,1063.0 L929.3,1063.0 L957.9,1065.4 L958.2,1065.4 L959.9,1065.7 L964.2,1069.2 L968.2,1069.2 L972.3,1054.4 L966.8,1047.8 L966.8,1043.2 L963.7,1043.2 L966.5,1038.5 L967.7,1029.1 L967.8,1028.8 L967.9,1028.5 L968.0,1028.2 L968.2,1027.9 L968.3,1027.6 L968.5,1027.4 L968.8,1027.1 L969.0,1026.9 L969.3,1026.8 L969.5,1026.6 L969.8,1026.5 L978.9,1023.2 L986.6,1018.1 L986.9,1017.9 L987.2,1017.8 L987.5,1017.7 L987.8,1017.6 L988.1,1017.6 L988.4,1017.5 L988.7,1017.6 L989.0,1017.6 L989.3,1017.7 L989.6,1017.8 L989.8,1017.9 L995.1,1020.5 L1002.6,1023.7 L1010.2,1024.3 L1010.6,1024.3 L1010.9,1024.4 L1017.8,1026.7 L1023.2,1024.0 L1023.2,1025.8 L1033.2,1029.3 L1034.2,1028.7 L1035.3,1029.7 L1038.8,1029.7 L1048.9,1024.6 L1049.1,1024.5 L1056.8,1021.3 L1056.8,1014.5 L1058.5,1013.3 L1058.6,1013.3 L1074.7,1002.5 L1075.0,1002.3 L1075.3,1002.2 L1094.0,994.2 L1112.8,984.8 L1112.8,984.8 L1133.0,975.3 L1133.3,975.2 L1133.5,975.2 L1148.1,971.2 L1160.0,965.9 L1160.3,965.8 L1160.7,965.7 L1174.0,963.0 L1187.3,959.0 L1187.5,959.0 L1198.6,956.5 L1204.2,949.8 L1207.7,937.9 L1205.0,930.2 L1196.0,932.2 L1172.4,944.0 L1161.9,951.9 L1161.6,952.1 L1161.3,952.2 L1161.0,952.3 L1160.7,952.4 L1160.4,952.5 L1149.6,953.8 L1149.3,953.9 L1149.0,953.8 L1148.7,953.8 L1148.4,953.8 L1139.3,951.5 L1132.5,957.7 L1132.3,957.9 L1132.1,958.0 L1124.1,963.4 L1123.7,963.6 L1123.4,963.7 L1123.1,963.8 L1117.7,965.2 L1117.4,965.3 L1117.1,965.3 L1116.8,965.3 L1116.5,965.3 L1116.2,965.2 L1115.9,965.1 L1115.6,965.0 L1115.3,964.9 L1115.0,964.7 L1114.8,964.5 L1114.6,964.3 L1114.4,964.1 L1114.2,963.8 L1114.1,963.6 L1113.9,963.3 L1111.2,956.6 L1111.1,956.2 L1111.1,955.9 L1111.0,955.6 L1111.0,955.3 L1111.0,955.0 L1111.1,954.7 L1111.2,954.4 L1111.3,954.1 L1111.4,953.8 L1111.6,953.5 L1111.8,953.3 L1112.0,953.0 L1112.2,952.8 L1112.5,952.6 L1112.8,952.5 L1113.1,952.4 L1123.6,948.4 L1132.8,943.2 L1133.1,943.0 L1142.1,939.1 L1149.8,932.7 L1150.1,932.5 L1150.3,932.4 L1150.6,932.2 L1160.0,928.2 L1160.4,928.1 L1162.7,927.4 L1165.3,928.2 L1173.4,924.2 L1173.6,923.9 L1179.2,919.5 L1186.8,909.3 L1192.1,898.8 L1192.2,898.6 L1195.3,892.9 L1195.4,893.2 L1195.6,893.6 L1195.8,894.0 L1196.1,894.4 L1196.3,894.7 L1196.7,895.0 L1197.0,895.3 L1197.4,895.6 L1197.5,895.6 L1201.7,888.1 L1204.4,880.0 L1201.1,880.0 L1202.1,876.6 L1202.1,866.2 L1197.5,856.9 L1197.4,856.7 L1197.3,856.4 L1197.2,856.1 L1197.2,855.8 L1197.2,855.5 L1197.2,846.1 L1194.1,836.9 L1191.2,831.1 L1183.6,825.0 L1173.7,818.4 L1173.5,818.2 L1163.7,810.0 L1153.9,803.5 L1153.6,803.3 L1145.8,797.1 L1136.4,793.9 L1136.1,793.8 L1135.8,793.7 L1135.5,793.5 L1129.4,788.9 L1121.9,787.4 L1121.6,787.3 L1121.3,787.2 L1121.0,787.1 L1120.7,787.0 L1120.5,786.8 L1120.3,786.6 L1120.1,786.3 L1119.9,786.1 L1119.7,785.8 L1119.6,785.6 L1119.5,785.3 L1119.4,785.0 L1119.3,784.7 L1119.3,784.3 L1119.3,784.0 L1119.4,783.7 L1119.4,783.4 L1119.5,783.1 L1119.6,782.9 L1122.9,776.4 L1125.8,767.5 L1124.4,759.0 L1118.7,750.3 L1109.5,745.7 L1109.2,745.6 L1108.9,745.4 L1108.6,745.1 L1102.0,738.5 L1101.8,738.3 L1101.6,738.0 L1101.4,737.7 L1101.3,737.4 L1101.2,737.1 L1101.1,736.8 L1101.1,736.5 L1101.1,736.1 L1101.1,735.8 L1101.2,735.5 L1102.7,729.5 L1101.6,724.2 L1092.2,722.9 L1091.9,722.8 L1091.7,722.7 L1091.4,722.6 L1091.1,722.5 L1090.9,722.3 L1083.1,716.9 L1073.7,714.5 L1073.4,714.4 L1073.1,714.3 L1072.8,714.1 L1072.5,713.9 L1064.2,707.3 L1063.9,707.0 L1057.9,701.0 L1047.1,697.9 L1047.0,697.9 L1037.0,694.6 L1036.7,694.4 L1036.4,694.3 L1028.4,689.5 L1018.1,685.8 L1010.4,688.4 L1005.9,696.9 L1007.9,703.5 L1014.3,714.7 L1020.8,724.5 L1025.7,731.0 L1030.7,737.6 L1030.8,737.9 L1031.0,738.2 L1031.1,738.5 L1031.2,738.8 L1032.8,745.2 L1037.7,758.3 L1037.8,758.6 L1037.9,758.9 L1039.5,768.9 L1039.6,769.2 L1039.6,769.5 L1039.5,769.9 L1039.5,770.2 L1039.4,770.5 L1039.2,770.8 L1035.5,778.2 L1036.2,783.9 L1036.3,784.2 L1036.3,784.6 L1036.2,784.9 L1036.1,785.2 L1034.0,792.4 L1037.5,800.9 L1042.2,807.2 L1042.4,807.5 L1042.6,807.7 L1042.7,808.0 L1042.8,808.3 L1042.8,808.5 L1042.9,808.8 L1042.9,809.1 L1042.9,814.9 L1048.8,825.2 L1056.6,831.5 L1056.9,831.7 L1057.1,832.0 L1063.7,840.3 L1063.9,840.5 L1064.1,840.8 L1064.2,841.1 L1067.2,848.5 L1073.1,852.9 L1073.3,853.1 L1073.5,853.4 L1073.7,853.6 L1073.9,853.9 L1074.1,854.1 L1074.2,854.4 L1074.3,854.7 L1075.9,861.4 L1076.0,861.7 L1076.0,862.0 L1076.0,862.3 L1076.0,862.6 L1075.9,862.9 L1075.8,863.2 L1075.7,863.5 L1075.6,863.8 L1075.4,864.0 L1075.2,864.3 L1075.0,864.5 L1074.7,864.7 L1068.3,869.5 L1062.6,875.3 L1061.2,883.2 L1060.1,883.2 L1055.6,900.4 L1058.2,919.9 L1058.2,920.3 L1058.2,920.6 L1056.9,936.1 L1062.1,951.7 L1062.1,952.0 L1062.2,952.3 L1062.2,952.6 L1062.2,952.9 L1062.2,953.2 L1062.1,953.5 L1062.0,953.9 L1061.9,954.1 L1061.7,954.4 L1061.5,954.7 L1061.3,954.9 L1061.1,955.1 L1060.8,955.3 L1060.5,955.5 L1060.3,955.6 L1060.0,955.7 L1060.0,952.1 L1049.0,948.1 L1042.2,952.1 L1041.0,959.3 L1035.9,965.5 L1035.7,965.7 L1035.5,965.9 L1035.2,966.1 L1035.0,966.3 L1034.7,966.4 L1034.4,966.5 L1034.1,966.6 L1033.8,966.6 L1033.5,966.6 L1027.4,966.6 L1027.5,966.6 L1027.9,966.4 L1028.2,966.1 L1028.6,965.8 L1028.9,965.5 L1029.1,965.1 L1029.2,965.0 L1026.1,964.2 L1023.4,957.5 L1016.0,952.1 L1011.3,960.2 L1008.5,966.8 L1008.8,966.9 L1009.2,967.0 L1009.6,967.1 L1010.1,967.2 L1010.5,967.2 L1010.9,967.1 L1011.3,967.0 L1011.8,966.9 L1011.9,966.8 L1010.2,970.9 L1010.0,971.2 L1004.6,980.6 L1004.6,980.7 L997.8,991.5 L997.7,991.8 L997.4,992.0 L997.2,992.2 L997.0,992.4 L996.7,992.6 L996.4,992.7 L996.1,992.9 L995.8,992.9 L989.0,994.3 L988.7,994.3 L988.4,994.3 L988.1,994.3 L987.8,994.3 L987.5,994.2 L987.2,994.1 L986.9,994.0 L986.6,993.8 L986.4,993.6 L980.8,989.0 L977.9,992.6 L976.7,997.3 L976.6,997.6 L976.5,997.9 L976.3,998.2 L976.2,998.5 L975.9,998.7 L975.7,998.9 L975.5,999.1 L975.2,999.3 L974.9,999.4 L974.6,999.6 L974.3,999.6 L974.0,999.7 L973.7,999.7 L973.3,999.7 L973.0,999.7 L972.7,999.6 L972.4,999.5 L972.1,999.3 L971.8,999.2 L965.5,995.0 L959.2,999.2 L958.9,999.4 L958.6,999.5 L958.3,999.6 L958.0,999.7 L950.2,1001.0 L944.9,1003.1 L940.0,1011.6 L939.9,1011.8 L939.7,1012.1 L939.5,1012.3 L939.3,1012.5 L939.0,1012.7 L938.7,1012.8 L938.5,1012.9 L938.2,1013.0 L937.9,1013.1 L937.6,1013.2 L937.3,1013.2 L927.8,1013.2 L927.5,1013.2 L927.2,1013.1 L926.9,1013.0 L926.6,1012.9 L926.3,1012.8 L926.1,1012.6 L920.2,1008.7 L917.2,1011.7 L914.7,1019.1 L914.6,1019.4 L914.5,1019.6 L914.3,1019.9 L914.1,1020.1 L913.9,1020.4 L913.7,1020.6 L913.4,1020.7 L913.2,1020.9 L912.9,1021.0 L912.6,1021.1 L903.3,1023.8 L895.4,1027.1 L895.2,1027.2 L894.9,1027.2 L894.6,1027.3 L894.3,1027.3 L894.0,1027.3 L884.4,1026.7 L880.6,1029.6 L878.2,1034.3 L878.1,1034.5 L877.9,1034.8 L877.7,1035.0 L877.5,1035.2 L877.3,1035.4 L877.0,1035.6 L876.8,1035.7 L876.5,1035.9 L865.7,1039.9 L865.4,1040.0 L865.1,1040.1 L864.7,1040.1 L864.4,1040.1 L864.1,1040.1 L856.0,1038.7 L855.7,1038.6 L855.4,1038.5 L855.1,1038.4 L854.8,1038.3 L854.5,1038.1 L854.3,1037.9 L854.1,1037.6 L853.9,1037.4 L853.7,1037.1 L853.6,1036.8 L853.5,1036.5 L853.4,1036.2 L853.3,1035.9 L853.3,1035.6 L853.3,1035.2 L853.4,1034.9 L853.5,1034.6 L853.6,1034.3 L853.7,1034.0 L853.9,1033.8 L854.1,1033.5 L856.6,1030.5 L856.0,1022.3 L856.0,1022.0 L856.0,1021.7 L856.1,1021.4 L856.2,1021.1 L856.3,1020.8 L856.5,1020.5 L856.6,1020.2 L856.8,1020.0 L857.1,1019.7 L857.3,1019.5 L857.6,1019.3 L857.9,1019.2 L858.2,1019.1 L858.5,1019.0 L858.8,1018.9 L859.1,1018.9 L859.4,1018.9 L859.7,1018.9 L867.0,1020.1 L873.1,1018.1 L876.0,1012.4 L873.8,1004.8 L866.2,995.9 L866.0,995.7 L865.8,995.4 L865.7,995.1 L865.6,994.8 L865.5,994.5 L865.4,994.1 L865.4,993.8 L865.5,993.5 L865.5,993.2 L865.6,992.9 L865.7,992.5 L867.7,988.0 L868.1,987.6 L869.8,983.4 L867.0,979.7 L866.8,979.4 L866.6,979.1 L866.5,978.9 L866.4,978.6 L866.4,978.3 L865.2,971.3 L862.6,967.8 L854.8,966.7 L854.5,966.6 L854.2,966.5 L854.0,966.4 L853.7,966.3 L853.4,966.1 L853.2,966.0 L853.0,965.7 L852.8,965.5 L852.6,965.3 L850.0,961.4 L849.9,961.1 L849.7,960.9 L849.6,960.6 L849.6,960.3 L849.5,960.0 L849.5,959.7 L849.5,959.3 L849.5,959.0 L849.6,958.7 L849.7,958.4 L849.8,958.2 L850.0,957.9 L850.2,957.6 L850.4,957.4 L850.6,957.2 L850.9,957.0 L851.1,956.8 L851.4,956.7 L851.7,956.6 L855.5,955.3 L860.9,953.2 L863.7,948.4 L863.7,931.2 L863.7,930.9 L863.8,930.6 L865.1,922.9 L865.1,922.6 L865.2,922.3 L865.3,922.0 L865.5,921.7 L865.7,921.5 L865.8,921.2 L866.1,921.0 L866.3,920.8 L869.3,918.6 L869.3,918.6 L869.2,919.0 L869.2,919.4 L869.1,919.9 L869.2,920.3 L869.2,920.8 L869.3,921.2 L869.5,921.6 L869.7,922.0 L869.8,922.2 L873.4,919.5 L876.0,923.4 L882.5,927.3 L887.6,931.2 L890.9,935.3 L891.2,935.1 L891.5,934.8 L891.8,934.5 L892.0,934.1 L892.2,933.7 L892.4,933.3 L892.5,932.9 L892.6,932.5 L892.6,932.3 L895.2,935.5 L897.3,937.6 L897.0,937.6 L896.5,937.7 L896.1,937.8 L895.7,937.9 L895.3,938.1 L894.9,938.3 L894.5,938.6 L894.2,938.9 L894.1,938.9 L898.0,942.8 L894.1,950.6 L896.7,957.0 L901.9,959.6 L908.3,957.0 L912.2,951.9 L910.9,946.7 L907.0,941.5 L913.5,940.2 L917.4,933.7 L913.5,927.3 L907.0,924.7 L905.4,922.5 L905.3,922.6 L905.1,923.0 L904.9,923.4 L904.7,923.8 L904.5,924.2 L904.4,924.6 L904.4,925.1 L904.4,925.5 L904.4,925.9 L904.5,926.4 L904.5,926.7 L904.5,926.6 L901.3,922.4 L899.0,921.9 L899.2,921.8 L899.6,921.5 L899.9,921.2 L900.2,920.9 L900.4,920.5 L900.6,920.1 L900.8,919.7 L900.9,919.3 L901.0,919.1 L896.7,918.2 L894.1,916.9 L891.5,911.7 L885.0,907.9 L879.9,907.2 L882.5,905.3 L882.5,903.0 L880.9,902.8 L880.4,902.8 L880.0,902.8 L879.5,902.8 L879.3,902.9 L879.3,901.2 L876.0,896.8 L875.8,896.6 L875.7,896.3 L875.6,896.0 L875.5,895.7 L875.4,895.4 L875.4,895.1 L875.4,894.8 L875.4,894.5 L875.5,894.2 L875.5,893.9 L876.8,890.0 L876.9,889.7 L877.1,889.4 L877.3,889.2 L877.5,888.9 L877.7,888.7 L878.0,888.5 L878.3,888.3 L878.5,888.1 L878.9,888.0 L885.2,885.9 L886.7,882.1 L885.1,879.0 L879.3,874.9 L879.1,874.7 L878.8,874.5 L878.6,874.2 L878.5,874.0 L878.3,873.7 L878.2,873.4 L878.1,873.1 L878.0,872.8 L878.0,872.5 L878.0,872.2 L878.0,871.9 L878.0,871.5 L878.1,871.2 L878.3,870.9 L878.4,870.7 L878.6,870.4 L878.8,870.1 L879.0,869.9 L879.2,869.7 L879.5,869.5 L879.8,869.4 L880.1,869.3 L880.4,869.2 L884.7,868.1 L888.8,864.0 L888.5,860.6 L883.6,857.7 L877.7,855.3 L871.5,854.1 L871.2,854.0 L870.9,853.9 L870.6,853.8 L870.3,853.6 L870.1,853.4 L869.8,853.2 L869.6,853.0 L869.4,852.7 L869.3,852.4 L869.1,852.2 L869.0,851.9 L869.0,851.6 L868.9,851.2 L868.9,850.9 L868.9,846.6 L866.1,842.0 L859.1,840.0 L854.8,841.1 L854.5,841.2 L854.1,841.2 L853.8,841.2 L853.5,841.2 L853.2,841.1 L852.9,841.0 L852.6,840.9 L852.3,840.7 L852.1,840.6 L851.8,840.4 L851.6,840.1 L851.4,839.9 L851.2,839.6 L851.1,839.4 L851.0,839.1 L850.9,838.8 L849.6,833.6 L849.5,833.3 L847.6,821.7 L847.6,821.4 L847.6,821.1 L847.6,820.8 L847.6,820.5 L847.7,820.2 L847.8,819.9 L847.9,819.6 L848.1,819.4 L848.3,819.1 L848.5,818.9 L848.7,818.7 L849.0,818.5 L850.9,817.2 L851.2,817.1 L851.5,816.9 L851.7,816.8 L852.0,816.7 L852.3,816.7 L852.6,816.7 L853.0,816.7 L853.3,816.7 L853.6,816.8 L853.8,816.9 L854.1,817.0 L856.7,818.3 L857.0,818.5 L857.3,818.7 L857.5,818.9 L862.7,824.1 L863.0,824.3 L867.7,830.3 L872.2,832.5 L876.3,830.9 L878.4,826.7 L876.8,820.7 L876.7,820.4 L876.7,820.2 L876.7,819.9 L876.7,813.4 L876.7,813.1 L876.7,812.8 L876.8,812.5 L876.9,812.2 L877.0,811.9 L877.2,811.6 L877.4,811.4 L877.6,811.1 L877.8,810.9 L878.1,810.7 L881.3,808.6 L883.7,803.7 L883.2,794.4 L881.9,786.9 L879.6,778.8 L874.3,772.8 L874.0,772.6 L873.9,772.3 L873.7,772.0 L873.6,771.7 L871.3,764.8 L867.1,761.1 L862.2,761.6 L853.4,763.5 L843.4,766.0 L834.7,769.7 L828.5,773.4 L828.2,773.6 L827.9,773.7 L827.6,773.8 L827.3,773.9 L827.0,773.9 L826.7,773.9 L826.3,773.9 L826.0,773.8 L819.1,772.1 L810.9,774.4 L810.6,774.5 L810.3,774.5 L809.9,774.6 L809.6,774.5 L809.3,774.5 L801.5,772.8 L794.8,776.7 L794.5,776.8 L794.2,777.0 L793.9,777.0 L793.6,777.1 L793.3,777.1 L793.0,777.1 L792.7,777.1 L792.4,777.1 L792.2,777.0 L785.5,774.8 L777.7,778.1 L767.5,783.2 L759.8,787.7 L759.6,787.9 L759.2,788.0 L758.9,788.1 L758.6,788.1 L758.3,788.1 L758.0,788.1 L757.6,788.1 L757.3,788.0 L757.0,787.9 L750.5,785.2 L744.2,787.8 L739.2,790.9 L739.0,791.0 L738.8,791.1 L731.8,794.0 L724.7,803.5 L717.1,816.2 L712.7,826.2 L709.1,838.1 L710.7,844.2 L714.7,848.8 L714.9,849.0 L715.0,849.3 L715.2,849.5ZM891.7,1043.3 L892.0,1043.2 L892.3,1043.2 L892.6,1043.1 L892.9,1043.1 L893.3,1043.1 L893.6,1043.2 L893.9,1043.3 L894.2,1043.4 L894.5,1043.5 L894.7,1043.7 L895.0,1043.9 L895.2,1044.1 L895.4,1044.4 L895.6,1044.7 L895.7,1044.9 L895.9,1045.2 L896.0,1045.5 L896.9,1049.2 L891.6,1050.3 L891.3,1050.3 L891.0,1050.3 L890.7,1050.3 L890.4,1050.3 L890.1,1050.2 L889.8,1050.1 L889.5,1050.0 L889.3,1049.9 L889.0,1049.7 L886.2,1047.6 L890.9,1043.8 L891.1,1043.6 L891.4,1043.5ZM1130.3,883.0 L1130.5,882.8 L1130.8,882.6 L1131.0,882.5 L1134.3,880.8 L1134.6,880.7 L1134.9,880.6 L1135.2,880.5 L1135.5,880.5 L1135.9,880.5 L1136.2,880.5 L1136.5,880.6 L1136.8,880.6 L1137.1,880.8 L1137.4,880.9 L1137.6,881.1 L1137.9,881.3 L1138.1,881.5 L1138.3,881.7 L1139.4,883.2 L1130.0,883.2 L1130.1,883.2ZM414.6,1374.1 L414.7,1374.6 L414.8,1375.0 L415.0,1375.4 L415.2,1375.7 L421.2,1372.0 L428.6,1367.1 L434.8,1362.1 L437.3,1354.7 L434.8,1347.2 L427.4,1344.7 L421.2,1349.7 L411.2,1357.1 L408.2,1354.1 L408.2,1354.1 L407.9,1354.5 L407.7,1354.8 L407.5,1355.3 L407.4,1355.7 L407.3,1356.1 L407.3,1356.6 L407.3,1357.0 L407.3,1357.5 L407.4,1357.9 L404.5,1355.0 L399.4,1353.3 L395.8,1356.0 L395.5,1356.2 L395.2,1356.3 L394.9,1356.4 L394.6,1356.5 L394.2,1356.6 L384.3,1357.8 L383.9,1357.9 L374.0,1357.9 L373.7,1357.8 L373.4,1357.8 L373.0,1357.7 L372.7,1357.6 L372.5,1357.5 L372.2,1357.3 L371.9,1357.1 L371.7,1356.9 L371.5,1356.7 L371.3,1356.4 L371.2,1356.2 L371.0,1355.9 L370.9,1355.6 L370.8,1355.3 L370.8,1355.0 L370.8,1354.7 L370.8,1354.3 L370.8,1354.0 L371.8,1349.2 L368.9,1345.4 L368.8,1345.1 L368.6,1344.8 L368.5,1344.6 L368.4,1344.2 L368.3,1343.9 L367.3,1336.7 L362.0,1333.1 L352.9,1334.1 L345.6,1340.4 L343.4,1345.9 L343.3,1346.2 L343.1,1346.4 L343.0,1346.7 L342.8,1346.9 L342.5,1347.1 L342.3,1347.3 L334.0,1353.2 L330.6,1357.8 L330.3,1358.1 L330.1,1358.4 L323.3,1364.0 L321.1,1370.6 L321.0,1370.9 L320.9,1371.1 L320.7,1371.4 L320.5,1371.7 L320.3,1371.9 L320.0,1372.1 L319.8,1372.3 L319.5,1372.4 L319.2,1372.6 L318.9,1372.7 L318.6,1372.7 L318.3,1372.8 L318.0,1372.8 L317.7,1372.7 L317.4,1372.7 L317.1,1372.6 L305.9,1368.9 L305.6,1368.8 L305.3,1368.6 L305.1,1368.5 L304.8,1368.3 L304.6,1368.1 L304.4,1367.8 L304.2,1367.6 L304.1,1367.3 L303.9,1367.0 L303.8,1366.7 L303.8,1366.4 L303.7,1366.1 L303.7,1365.8 L303.7,1360.2 L301.9,1355.7 L297.0,1353.3 L290.9,1356.3 L290.6,1356.4 L290.3,1356.5 L290.0,1356.6 L289.7,1356.6 L289.4,1356.6 L289.1,1356.6 L288.8,1356.5 L288.5,1356.5 L288.2,1356.3 L287.9,1356.2 L287.7,1356.0 L287.4,1355.8 L287.2,1355.6 L287.0,1355.4 L286.8,1355.1 L286.6,1354.8 L284.3,1350.2 L279.6,1344.2 L279.4,1344.0 L279.2,1343.7 L279.1,1343.5 L279.0,1343.2 L278.9,1342.9 L278.9,1342.6 L278.8,1342.3 L278.9,1342.0 L278.9,1341.7 L279.0,1341.4 L279.1,1341.1 L279.2,1340.8 L281.5,1336.1 L283.4,1329.7 L277.7,1325.0 L271.4,1321.4 L266.6,1326.2 L266.6,1332.3 L266.6,1332.6 L266.5,1333.0 L266.5,1333.3 L264.0,1340.6 L262.8,1346.6 L262.7,1346.9 L262.6,1347.2 L262.5,1347.5 L262.3,1347.8 L262.1,1348.0 L261.9,1348.3 L261.6,1348.5 L261.4,1348.7 L261.1,1348.8 L260.8,1349.0 L260.5,1349.1 L256.6,1350.0 L253.6,1354.1 L249.8,1359.1 L249.5,1359.4 L246.2,1362.8 L244.4,1366.4 L245.5,1374.0 L246.7,1380.1 L246.7,1380.4 L246.7,1380.7 L246.7,1381.0 L246.7,1381.3 L246.6,1381.6 L246.5,1381.9 L246.4,1382.1 L246.3,1382.4 L243.0,1387.8 L243.0,1394.4 L243.0,1394.8 L242.9,1395.2 L241.7,1400.2 L241.6,1400.5 L241.5,1400.8 L241.3,1401.0 L241.1,1401.3 L237.9,1405.6 L236.8,1412.1 L236.8,1418.0 L236.8,1418.3 L236.7,1418.6 L236.7,1418.9 L236.6,1419.2 L236.5,1419.4 L234.0,1424.4 L233.8,1424.7 L233.7,1424.9 L233.5,1425.1 L233.3,1425.4 L233.0,1425.5 L228.8,1428.7 L226.9,1433.5 L226.9,1437.9 L226.8,1438.2 L226.8,1438.5 L226.7,1438.8 L226.6,1439.1 L226.5,1439.4 L226.3,1439.6 L226.2,1439.9 L221.9,1445.2 L221.9,1449.2 L226.2,1454.5 L226.3,1454.8 L226.5,1455.0 L226.6,1455.3 L226.7,1455.6 L226.8,1455.9 L227.9,1461.4 L231.1,1465.6 L236.7,1471.3 L243.6,1474.7 L249.4,1477.0 L255.3,1478.2 L255.7,1478.3 L262.7,1480.7 L270.0,1480.7 L275.3,1477.5 L280.1,1473.8 L280.4,1473.7 L280.6,1473.5 L280.9,1473.4 L281.1,1473.3 L281.4,1473.3 L287.1,1472.1 L292.7,1468.8 L297.2,1465.4 L301.9,1459.5 L302.1,1459.2 L307.1,1454.3 L307.4,1454.0 L307.7,1453.8 L313.3,1450.5 L316.6,1444.9 L316.7,1444.7 L316.9,1444.5 L317.1,1444.3 L317.3,1444.1 L323.2,1439.4 L326.7,1434.7 L326.9,1434.5 L327.1,1434.2 L327.4,1434.0 L327.7,1433.9 L328.0,1433.7 L328.3,1433.6 L328.6,1433.5 L328.9,1433.5 L329.2,1433.4 L329.6,1433.5 L329.9,1433.5 L334.7,1434.5 L338.1,1431.9 L341.6,1427.3 L341.8,1427.0 L342.0,1426.8 L342.3,1426.6 L350.8,1420.5 L355.6,1415.7 L355.8,1415.5 L356.1,1415.3 L356.3,1415.2 L356.6,1415.0 L362.2,1412.8 L369.2,1405.8 L369.5,1405.6 L369.7,1405.4 L373.4,1402.9 L373.7,1402.8 L374.0,1402.6 L379.5,1400.4 L383.8,1395.1 L387.4,1389.0 L387.6,1388.8 L387.8,1388.5 L388.0,1388.3 L388.2,1388.1 L388.5,1387.9 L388.8,1387.8 L389.1,1387.7 L389.4,1387.6 L389.7,1387.5 L390.1,1387.5 L390.4,1387.5 L390.7,1387.5 L391.0,1387.6 L391.3,1387.7 L396.3,1389.7 L403.2,1386.7 L408.6,1381.3 L412.1,1374.3 L412.3,1374.1 L412.4,1373.8 L412.6,1373.6 L412.8,1373.4 L413.1,1373.2 L413.3,1373.0 L414.7,1372.2 L414.6,1372.4 L414.6,1372.8 L414.5,1373.3 L414.5,1373.7ZM547.0,1564.6 L550.1,1571.0 L558.0,1571.0 L558.3,1571.0 L558.6,1571.0 L558.9,1571.1 L559.2,1571.2 L559.5,1571.4 L559.8,1571.5 L560.0,1571.7 L560.3,1571.9 L560.5,1572.2 L560.7,1572.5 L560.8,1572.7 L563.2,1577.5 L568.6,1580.7 L577.5,1580.7 L577.8,1580.8 L578.1,1580.8 L578.4,1580.9 L578.7,1581.0 L579.0,1581.1 L579.3,1581.3 L579.5,1581.5 L579.8,1581.7 L580.0,1581.9 L580.2,1582.2 L582.7,1585.9 L588.1,1590.2 L592.1,1589.2 L592.4,1589.2 L592.8,1589.1 L593.1,1589.1 L593.4,1589.2 L593.7,1589.2 L594.1,1589.3 L594.4,1589.5 L594.6,1589.7 L594.9,1589.8 L595.2,1590.1 L597.8,1592.7 L603.8,1597.5 L612.5,1597.5 L612.7,1597.5 L613.0,1597.6 L621.4,1599.0 L621.7,1599.0 L622.0,1599.1 L622.3,1599.3 L622.6,1599.4 L622.8,1599.6 L629.6,1605.0 L637.2,1608.8 L645.1,1610.1 L645.4,1610.2 L645.7,1610.3 L646.0,1610.4 L646.3,1610.6 L646.5,1610.7 L651.5,1614.4 L659.7,1615.6 L667.3,1613.1 L667.7,1613.0 L668.0,1612.9 L668.3,1612.9 L668.6,1612.9 L668.9,1612.9 L669.2,1613.0 L669.5,1613.1 L669.8,1613.3 L670.1,1613.4 L670.4,1613.6 L670.6,1613.8 L670.8,1614.1 L671.0,1614.3 L673.5,1618.0 L678.0,1621.4 L686.5,1622.6 L694.4,1621.3 L694.7,1621.3 L695.0,1621.3 L695.4,1621.3 L705.1,1622.7 L705.4,1622.8 L705.7,1622.8 L714.1,1625.6 L714.4,1625.7 L714.6,1625.9 L714.9,1626.0 L715.1,1626.2 L715.3,1626.4 L720.6,1631.7 L725.9,1634.9 L730.6,1633.0 L734.3,1628.1 L734.5,1627.9 L734.7,1627.7 L735.0,1627.5 L735.2,1627.3 L735.5,1627.1 L735.8,1627.0 L743.5,1624.5 L748.4,1619.5 L753.5,1613.1 L756.2,1605.3 L756.3,1605.0 L756.4,1604.7 L756.6,1604.5 L756.8,1604.2 L757.0,1604.0 L757.2,1603.8 L757.5,1603.6 L757.8,1603.4 L758.1,1603.3 L758.4,1603.2 L758.7,1603.1 L765.9,1601.9 L771.5,1595.2 L772.7,1585.9 L767.5,1575.6 L767.4,1575.3 L767.3,1575.0 L767.2,1574.7 L767.2,1574.4 L767.2,1574.1 L767.2,1573.8 L768.6,1562.6 L768.6,1562.3 L770.7,1552.8 L771.3,1542.6 L767.4,1533.5 L767.3,1533.2 L767.2,1532.9 L767.2,1532.5 L767.2,1532.2 L767.2,1531.9 L767.2,1531.5 L767.3,1531.2 L769.8,1523.7 L767.3,1513.7 L763.2,1504.1 L763.1,1503.8 L760.5,1494.8 L754.4,1488.7 L745.4,1483.5 L736.0,1480.8 L735.8,1480.8 L727.4,1478.0 L727.1,1477.8 L726.8,1477.7 L719.8,1473.5 L719.7,1473.4 L712.6,1468.7 L705.7,1471.0 L705.4,1471.1 L705.1,1471.1 L704.7,1471.2 L704.4,1471.1 L704.1,1471.1 L703.7,1471.0 L703.4,1470.9 L693.6,1466.7 L693.4,1466.6 L693.1,1466.4 L692.9,1466.2 L685.6,1460.1 L677.2,1461.3 L676.9,1461.4 L676.5,1461.4 L676.2,1461.3 L675.9,1461.3 L675.6,1461.2 L675.3,1461.0 L666.8,1456.8 L659.8,1459.7 L659.5,1459.8 L659.3,1459.9 L659.0,1459.9 L658.7,1460.0 L658.4,1460.0 L646.7,1459.3 L637.6,1463.8 L637.3,1464.0 L626.2,1468.2 L625.9,1468.2 L625.6,1468.3 L625.3,1468.3 L625.0,1468.4 L615.0,1468.4 L606.2,1476.0 L605.9,1476.2 L605.6,1476.3 L605.3,1476.5 L605.0,1476.6 L604.7,1476.7 L604.4,1476.7 L604.1,1476.7 L594.9,1476.7 L584.4,1480.7 L573.4,1486.2 L563.0,1491.4 L556.5,1501.8 L556.3,1502.1 L546.7,1514.4 L541.7,1524.4 L543.0,1536.0 L544.3,1545.8 L544.4,1546.2 L544.4,1555.5ZM410.2,1680.2 L410.5,1680.5 L410.8,1680.8 L411.1,1681.0 L413.7,1677.0 L418.4,1671.4 L416.5,1664.0 L409.1,1660.2 L401.6,1664.9 L398.1,1666.6 L398.3,1666.9 L398.5,1667.2 L398.8,1667.6 L399.1,1667.9 L399.4,1668.2 L399.8,1668.4 L400.2,1668.6 L400.6,1668.8 L400.8,1668.9 L397.8,1670.4 L392.5,1674.8 L392.3,1675.0 L385.8,1679.6 L385.5,1679.8 L385.2,1679.9 L384.9,1680.1 L379.5,1681.9 L373.8,1684.3 L370.6,1688.3 L370.4,1688.6 L370.1,1688.8 L369.9,1689.0 L369.6,1689.1 L369.3,1689.3 L369.0,1689.4 L368.7,1689.5 L368.4,1689.5 L368.1,1689.5 L367.8,1689.5 L367.4,1689.5 L363.4,1688.7 L358.4,1689.5 L358.3,1689.5 L352.7,1690.3 L348.7,1693.6 L347.9,1698.0 L347.9,1698.4 L347.8,1698.7 L347.6,1699.0 L347.5,1699.3 L347.3,1699.5 L347.0,1699.8 L344.3,1702.6 L344.0,1702.8 L343.7,1703.0 L343.5,1703.1 L343.2,1703.3 L338.5,1705.1 L338.2,1705.3 L331.7,1707.1 L331.6,1707.1 L324.7,1708.9 L319.7,1712.2 L312.4,1718.6 L312.2,1718.7 L311.9,1718.9 L311.7,1719.0 L311.4,1719.2 L311.1,1719.2 L310.8,1719.3 L306.1,1720.1 L302.6,1722.9 L301.1,1726.0 L300.9,1726.2 L300.8,1726.5 L300.6,1726.7 L300.4,1726.9 L300.1,1727.1 L299.9,1727.3 L299.6,1727.4 L294.0,1730.2 L293.8,1730.3 L289.4,1732.1 L286.2,1733.9 L285.5,1739.0 L285.5,1739.0 L284.6,1744.6 L284.5,1744.9 L284.4,1745.3 L284.3,1745.6 L284.1,1745.8 L283.9,1746.1 L280.9,1749.9 L280.9,1752.5 L280.9,1752.8 L280.8,1753.1 L280.8,1753.4 L280.7,1753.7 L280.5,1754.0 L280.4,1754.3 L280.2,1754.5 L280.0,1754.7 L275.9,1758.8 L274.5,1763.6 L276.0,1768.0 L277.8,1771.6 L277.9,1772.0 L279.6,1776.8 L282.8,1780.0 L283.0,1780.3 L286.3,1784.4 L290.9,1786.7 L297.7,1788.4 L301.9,1788.4 L302.2,1788.4 L302.6,1788.5 L302.9,1788.6 L303.2,1788.7 L303.5,1788.8 L303.7,1789.0 L304.0,1789.2 L304.2,1789.4 L304.4,1789.6 L304.6,1789.9 L304.8,1790.2 L306.3,1793.3 L310.0,1796.2 L314.3,1797.6 L319.1,1796.8 L319.4,1796.8 L319.8,1796.8 L320.1,1796.8 L320.4,1796.9 L320.8,1797.0 L321.1,1797.1 L324.5,1798.8 L330.5,1800.4 L335.5,1798.2 L338.6,1795.2 L340.3,1792.6 L340.4,1792.4 L340.7,1792.1 L340.9,1791.9 L341.1,1791.7 L341.4,1791.6 L341.7,1791.5 L342.0,1791.3 L342.3,1791.3 L342.6,1791.2 L342.9,1791.2 L343.2,1791.2 L343.5,1791.3 L348.2,1792.2 L348.5,1792.3 L348.7,1792.4 L349.0,1792.5 L354.3,1795.1 L361.0,1796.8 L364.3,1796.8 L364.7,1796.8 L365.0,1796.9 L365.4,1797.0 L370.2,1798.6 L374.3,1797.9 L378.4,1795.2 L379.9,1790.6 L380.1,1790.3 L380.2,1790.0 L380.4,1789.7 L380.6,1789.5 L380.9,1789.2 L381.1,1789.0 L381.4,1788.8 L386.5,1785.9 L387.2,1780.5 L386.3,1775.4 L386.3,1775.1 L386.3,1774.8 L386.3,1774.4 L386.4,1774.1 L386.5,1773.8 L386.6,1773.6 L386.7,1773.3 L386.9,1773.0 L387.1,1772.8 L387.3,1772.6 L387.5,1772.3 L391.7,1769.0 L394.2,1764.8 L394.4,1764.6 L394.6,1764.3 L394.8,1764.1 L395.0,1763.9 L395.3,1763.7 L395.5,1763.6 L395.8,1763.5 L396.1,1763.4 L401.4,1761.9 L406.3,1753.6 L406.5,1753.3 L406.8,1753.0 L410.8,1749.0 L411.5,1745.3 L411.6,1745.0 L411.7,1744.7 L411.9,1744.4 L412.0,1744.1 L412.2,1743.9 L417.8,1737.4 L422.1,1732.2 L424.4,1727.0 L422.9,1720.5 L419.1,1716.7 L414.2,1717.5 L413.9,1717.5 L413.5,1717.5 L413.2,1717.4 L412.9,1717.4 L412.6,1717.3 L412.3,1717.1 L412.0,1717.0 L411.7,1716.8 L411.5,1716.5 L406.8,1711.9 L406.6,1711.7 L406.4,1711.4 L406.3,1711.2 L406.1,1710.9 L406.0,1710.6 L405.9,1710.3 L405.9,1710.0 L405.9,1709.7 L405.9,1709.4 L405.9,1709.1 L406.0,1708.8 L406.1,1708.5 L406.2,1708.2 L407.9,1704.8 L409.3,1699.3 L405.2,1694.5 L400.2,1692.0 L399.9,1691.8 L399.7,1691.7 L399.4,1691.5 L399.2,1691.2 L399.0,1691.0 L398.8,1690.7 L398.7,1690.4 L398.6,1690.1 L398.5,1689.8 L398.4,1689.5 L398.4,1689.2 L398.4,1688.9 L398.5,1688.6 L398.5,1688.3 L398.6,1688.0 L398.8,1687.7 L400.6,1684.0 L400.8,1683.7 L401.0,1683.4 L401.2,1683.2 L401.4,1683.0 L401.7,1682.8 L401.9,1682.6 L402.2,1682.5 L407.9,1680.0 L409.2,1678.1 L409.2,1678.3 L409.3,1678.7 L409.5,1679.1 L409.7,1679.5 L409.9,1679.8ZM816.9,1670.5 L817.0,1670.8 L817.0,1671.1 L817.1,1671.4 L817.0,1671.7 L817.0,1672.0 L816.9,1672.3 L816.8,1672.6 L816.7,1672.9 L816.5,1673.2 L816.4,1673.4 L816.2,1673.6 L815.9,1673.9 L815.7,1674.0 L815.4,1674.2 L815.2,1674.4 L814.9,1674.5 L806.3,1677.3 L801.5,1682.1 L801.5,1687.0 L801.5,1687.3 L801.5,1687.6 L801.4,1687.9 L801.3,1688.2 L801.1,1688.5 L801.0,1688.7 L800.8,1689.0 L800.6,1689.2 L795.9,1693.9 L792.0,1697.9 L790.6,1704.7 L790.5,1705.0 L790.4,1705.3 L790.3,1705.6 L790.1,1705.8 L789.9,1706.1 L789.7,1706.3 L789.5,1706.5 L782.9,1711.8 L782.9,1718.0 L782.9,1718.3 L782.8,1718.6 L782.8,1718.9 L782.6,1719.2 L782.5,1719.5 L782.4,1719.8 L782.2,1720.0 L782.0,1720.3 L777.7,1724.6 L774.8,1730.3 L774.6,1730.6 L774.4,1730.9 L774.2,1731.1 L774.0,1731.3 L773.7,1731.5 L773.5,1731.7 L773.2,1731.8 L763.4,1736.0 L761.4,1740.0 L764.1,1748.1 L764.2,1748.4 L764.2,1748.7 L764.3,1749.0 L764.2,1749.3 L764.2,1749.6 L764.2,1749.9 L764.1,1750.2 L763.9,1750.5 L763.8,1750.7 L763.6,1751.0 L763.4,1751.2 L763.2,1751.4 L763.0,1751.6 L762.7,1751.8 L755.7,1756.0 L753.0,1761.4 L752.9,1761.6 L748.9,1768.3 L749.9,1773.5 L756.5,1777.4 L756.8,1777.6 L757.0,1777.8 L757.2,1778.0 L757.5,1778.3 L757.6,1778.5 L757.8,1778.8 L757.9,1779.2 L758.0,1779.5 L758.0,1779.8 L758.0,1780.1 L758.0,1785.7 L760.7,1792.3 L766.0,1797.6 L773.1,1800.4 L773.4,1800.6 L773.7,1800.7 L773.9,1800.9 L774.1,1801.1 L774.3,1801.3 L774.5,1801.5 L774.7,1801.8 L774.8,1802.1 L774.9,1802.4 L775.0,1802.6 L776.3,1807.7 L781.5,1811.7 L790.8,1817.8 L791.0,1818.0 L791.3,1818.3 L791.5,1818.5 L791.7,1818.8 L791.9,1819.1 L799.1,1833.5 L805.7,1836.2 L806.0,1836.3 L806.2,1836.4 L806.5,1836.6 L806.7,1836.8 L806.9,1837.0 L807.1,1837.2 L811.0,1842.4 L817.6,1843.8 L817.9,1843.8 L818.2,1843.9 L818.5,1844.1 L818.7,1844.2 L823.4,1847.3 L823.6,1847.5 L823.9,1847.7 L824.1,1848.0 L824.3,1848.2 L824.4,1848.5 L824.6,1848.8 L824.7,1849.1 L824.8,1849.4 L824.8,1849.7 L824.8,1850.0 L824.8,1857.4 L826.1,1862.3 L831.6,1867.9 L834.7,1871.0 L835.0,1871.3 L835.1,1871.5 L835.3,1871.8 L835.4,1872.0 L835.5,1872.3 L835.6,1872.6 L835.7,1872.9 L837.0,1883.8 L842.4,1887.0 L850.6,1885.7 L850.9,1885.6 L851.2,1885.6 L851.4,1885.6 L851.7,1885.7 L852.0,1885.7 L861.8,1888.5 L867.4,1886.3 L871.5,1878.1 L871.6,1877.9 L877.8,1867.0 L877.9,1867.0 L882.3,1859.6 L885.3,1847.7 L885.4,1847.3 L888.5,1839.5 L888.6,1839.3 L888.7,1839.0 L892.8,1832.2 L891.4,1821.0 L889.9,1813.4 L889.9,1813.0 L889.8,1812.6 L889.9,1812.3 L891.4,1801.4 L891.5,1801.1 L891.6,1800.8 L891.7,1800.5 L891.9,1800.2 L892.0,1799.9 L896.4,1794.1 L899.1,1786.0 L897.7,1774.9 L893.3,1766.0 L893.2,1765.7 L893.1,1765.5 L893.0,1765.2 L893.0,1764.8 L892.9,1764.5 L893.0,1764.2 L893.0,1763.9 L893.1,1763.6 L893.2,1763.3 L893.3,1763.1 L893.5,1762.8 L893.7,1762.6 L893.9,1762.3 L894.1,1762.1 L894.4,1761.9 L898.2,1759.4 L900.4,1754.0 L896.6,1747.8 L889.0,1738.7 L888.8,1738.4 L888.7,1738.1 L888.5,1737.8 L888.4,1737.5 L885.3,1726.7 L882.4,1717.8 L877.9,1710.3 L877.7,1710.0 L877.6,1709.7 L877.5,1709.4 L877.4,1709.1 L876.0,1697.2 L871.9,1689.0 L864.8,1683.4 L857.2,1678.8 L857.0,1678.7 L856.8,1678.5 L856.6,1678.3 L856.4,1678.1 L856.2,1677.9 L850.5,1669.3 L840.5,1665.1 L840.3,1664.9 L840.0,1664.8 L822.4,1653.1 L815.9,1654.1 L811.4,1662.0 L816.5,1669.7 L816.7,1669.9 L816.8,1670.2ZM1123.8,474.4 L1124.5,464.3 L1119.0,459.4 L1111.8,463.3 L1109.9,468.3 L1113.6,475.7 L1118.3,479.3ZM1326.6,431.0 L1326.7,431.3 L1326.7,431.6 L1326.8,431.9 L1326.8,432.2 L1326.8,432.6 L1326.7,432.9 L1326.7,433.2 L1326.6,433.5 L1323.9,439.9 L1325.1,443.8 L1329.5,446.4 L1333.5,446.4 L1333.8,446.4 L1334.1,446.5 L1334.4,446.5 L1334.7,446.6 L1334.9,446.7 L1335.2,446.9 L1341.4,450.6 L1341.7,450.8 L1341.9,451.0 L1342.2,451.3 L1342.4,451.5 L1346.7,457.7 L1346.9,458.0 L1347.0,458.3 L1347.2,458.6 L1347.2,458.9 L1347.3,459.2 L1347.9,465.5 L1347.9,465.8 L1347.9,466.1 L1347.4,471.3 L1350.6,476.6 L1350.7,476.8 L1350.8,477.1 L1350.9,477.4 L1351.0,477.7 L1351.0,478.0 L1351.0,478.4 L1351.0,478.7 L1350.9,479.0 L1350.0,482.8 L1352.0,486.9 L1357.1,488.9 L1357.4,489.0 L1357.7,489.2 L1357.9,489.4 L1358.2,489.6 L1358.4,489.9 L1358.6,490.1 L1358.7,490.4 L1358.9,490.7 L1359.0,491.0 L1359.1,491.3 L1360.3,498.8 L1360.3,499.2 L1360.3,499.5 L1359.7,509.0 L1361.2,514.6 L1366.2,517.7 L1366.5,517.9 L1366.8,518.1 L1367.0,518.3 L1367.2,518.6 L1368.0,519.7 L1367.8,519.7 L1367.4,519.6 L1366.9,519.6 L1366.5,519.7 L1366.1,519.8 L1365.7,519.9 L1365.3,520.1 L1364.9,520.3 L1364.6,520.4 L1368.9,526.6 L1370.8,534.1 L1378.3,538.4 L1385.7,534.1 L1387.6,527.9 L1387.0,519.2 L1382.6,514.2 L1384.5,512.4 L1385.2,510.8 L1385.1,510.8 L1384.7,510.6 L1384.3,510.5 L1383.9,510.4 L1383.4,510.3 L1383.0,510.3 L1382.6,510.4 L1382.1,510.4 L1381.8,510.5 L1381.8,510.5 L1384.2,505.3 L1382.9,501.1 L1379.3,498.0 L1379.1,497.8 L1378.9,497.6 L1378.7,497.3 L1378.5,497.1 L1378.4,496.8 L1378.3,496.5 L1378.2,496.2 L1378.2,495.9 L1378.2,495.6 L1378.2,495.3 L1378.8,489.1 L1378.9,488.6 L1380.1,483.6 L1380.2,483.3 L1380.3,483.0 L1380.5,482.8 L1380.7,482.5 L1383.7,478.5 L1383.1,472.3 L1383.1,472.0 L1383.1,471.7 L1383.2,471.4 L1383.3,471.1 L1383.3,470.9 L1385.2,465.9 L1385.3,465.6 L1385.5,465.3 L1385.6,465.1 L1388.7,461.0 L1388.7,457.1 L1388.7,456.8 L1388.8,456.4 L1388.9,456.1 L1389.0,455.8 L1389.1,455.5 L1389.3,455.2 L1389.5,455.0 L1389.8,454.7 L1390.0,454.5 L1394.5,451.2 L1397.3,446.4 L1396.9,440.8 L1393.4,435.9 L1387.8,432.5 L1387.5,432.3 L1387.3,432.1 L1387.1,431.9 L1386.9,431.7 L1386.7,431.4 L1386.6,431.2 L1386.4,430.9 L1386.3,430.6 L1386.3,430.3 L1385.2,424.0 L1380.9,420.5 L1375.1,420.5 L1368.1,422.8 L1367.8,422.9 L1367.5,423.0 L1367.1,423.0 L1366.8,423.0 L1366.5,423.0 L1366.2,422.9 L1365.8,422.8 L1358.5,419.7 L1352.5,417.9 L1352.2,417.8 L1352.0,417.7 L1351.8,417.6 L1346.6,414.5 L1341.6,415.5 L1341.3,415.5 L1341.0,415.6 L1340.7,415.5 L1340.4,415.5 L1340.1,415.4 L1339.8,415.3 L1339.5,415.2 L1339.2,415.0 L1339.0,414.8 L1338.7,414.6 L1334.1,409.9 L1328.2,406.5 L1323.2,408.2 L1319.9,413.5 L1319.4,417.0 L1321.5,423.4 L1326.3,430.5 L1326.4,430.7ZM1147.6,447.4 L1147.4,447.7 L1147.3,447.9 L1147.1,448.2 L1146.9,448.4 L1139.5,455.7 L1132.9,464.0 L1132.9,474.1 L1132.9,474.4 L1132.8,474.7 L1132.8,475.0 L1132.7,475.3 L1132.6,475.5 L1128.9,482.9 L1125.3,491.8 L1123.5,500.8 L1123.4,501.1 L1123.3,501.4 L1123.2,501.7 L1123.0,502.0 L1122.8,502.2 L1122.6,502.5 L1122.4,502.7 L1122.1,502.9 L1121.8,503.0 L1121.6,503.2 L1113.0,506.6 L1109.6,510.7 L1109.6,520.7 L1109.6,521.0 L1109.5,521.3 L1109.4,521.7 L1109.3,522.0 L1109.2,522.3 L1109.0,522.5 L1108.8,522.8 L1102.7,529.7 L1100.6,536.8 L1104.5,542.0 L1110.0,543.3 L1115.9,537.4 L1119.4,530.4 L1119.5,530.1 L1119.7,529.9 L1120.0,529.6 L1125.6,524.0 L1125.8,523.8 L1126.0,523.6 L1126.3,523.5 L1126.6,523.3 L1126.9,523.2 L1127.2,523.1 L1127.5,523.1 L1127.8,523.1 L1135.3,523.1 L1135.6,523.1 L1135.9,523.1 L1136.2,523.2 L1136.5,523.3 L1145.8,527.0 L1146.0,527.1 L1153.5,530.9 L1153.8,531.0 L1154.0,531.2 L1163.0,538.4 L1170.5,541.4 L1180.1,536.6 L1187.2,530.4 L1187.5,530.2 L1187.7,530.0 L1188.0,529.9 L1188.3,529.8 L1188.6,529.7 L1188.9,529.6 L1196.4,528.7 L1196.7,528.7 L1197.0,528.7 L1197.3,528.7 L1197.6,528.8 L1197.9,528.9 L1203.6,531.0 L1209.3,525.9 L1214.2,519.5 L1215.0,511.0 L1215.1,510.8 L1215.1,510.5 L1215.2,510.2 L1215.3,509.9 L1215.5,509.7 L1219.5,503.2 L1217.8,491.3 L1217.8,491.2 L1216.9,482.2 L1213.4,471.7 L1209.0,464.7 L1203.9,457.9 L1195.1,452.6 L1194.8,452.4 L1194.5,452.1 L1185.6,443.2 L1175.5,438.2 L1163.2,438.2 L1162.9,438.2 L1162.6,438.1 L1162.3,438.0 L1162.0,437.9 L1154.5,434.9 L1147.8,440.2 L1147.8,446.1 L1147.8,446.5 L1147.7,446.8 L1147.7,447.1ZM1329.7,732.7 L1323.8,742.6 L1320.9,755.8 L1323.8,765.3 L1323.9,765.6 L1326.0,776.0 L1326.0,776.3 L1326.0,776.6 L1326.0,776.9 L1326.0,777.2 L1325.9,777.5 L1325.8,777.8 L1325.7,778.1 L1325.5,778.3 L1325.3,778.6 L1325.1,778.8 L1324.9,779.0 L1324.7,779.2 L1324.4,779.4 L1324.2,779.5 L1323.9,779.6 L1323.6,779.7 L1316.2,781.6 L1309.1,788.6 L1305.2,802.1 L1303.2,816.2 L1303.2,827.8 L1309.2,843.8 L1309.3,843.9 L1311.4,850.1 L1311.4,850.4 L1311.5,850.8 L1311.5,851.1 L1311.5,851.4 L1311.5,851.7 L1311.4,852.0 L1311.3,852.3 L1311.2,852.6 L1311.0,852.9 L1306.8,859.1 L1306.7,859.4 L1306.4,859.6 L1306.2,859.8 L1306.0,860.0 L1305.7,860.2 L1305.4,860.3 L1305.1,860.4 L1304.8,860.5 L1294.5,862.6 L1294.1,862.6 L1293.8,862.6 L1282.2,862.6 L1274.8,866.3 L1268.0,871.4 L1268.0,874.7 L1273.3,879.9 L1273.5,880.2 L1273.7,880.4 L1273.9,880.7 L1274.0,881.0 L1278.2,891.4 L1278.3,891.7 L1278.3,892.0 L1278.4,892.3 L1279.4,904.7 L1279.4,905.0 L1279.4,905.2 L1279.4,905.5 L1277.3,917.8 L1276.3,932.1 L1276.3,932.3 L1274.3,948.6 L1274.3,966.2 L1280.0,975.7 L1288.2,988.1 L1288.4,988.3 L1288.5,988.6 L1288.6,988.8 L1292.7,1001.3 L1292.8,1001.6 L1292.9,1001.9 L1292.9,1002.2 L1292.9,1002.5 L1292.9,1002.8 L1292.8,1003.1 L1292.7,1003.4 L1292.6,1003.6 L1292.4,1003.9 L1292.3,1004.2 L1292.1,1004.4 L1291.9,1004.6 L1291.6,1004.8 L1291.4,1005.0 L1291.1,1005.1 L1283.3,1009.0 L1278.7,1013.6 L1280.4,1020.1 L1280.4,1020.4 L1280.5,1020.8 L1280.5,1021.1 L1280.4,1021.4 L1280.4,1021.7 L1280.3,1022.0 L1280.1,1022.3 L1280.0,1022.6 L1279.8,1022.9 L1279.6,1023.1 L1279.4,1023.3 L1279.1,1023.5 L1278.9,1023.7 L1278.6,1023.8 L1278.3,1023.9 L1267.0,1027.7 L1261.7,1036.6 L1259.3,1047.5 L1259.3,1066.9 L1262.8,1073.3 L1271.0,1077.1 L1278.3,1079.6 L1278.6,1079.7 L1285.4,1082.8 L1291.2,1080.4 L1300.2,1073.8 L1300.5,1073.6 L1300.8,1073.5 L1301.1,1073.4 L1301.4,1073.3 L1301.8,1073.2 L1302.1,1073.2 L1302.4,1073.2 L1313.6,1074.3 L1321.9,1067.7 L1328.0,1062.8 L1334.4,1057.0 L1339.7,1048.1 L1345.9,1037.0 L1346.1,1036.7 L1346.3,1036.4 L1346.5,1036.2 L1353.5,1029.7 L1352.7,1019.1 L1352.7,1018.8 L1352.8,1018.5 L1352.8,1018.2 L1352.9,1017.9 L1353.0,1017.7 L1356.8,1008.0 L1355.9,994.2 L1354.8,981.8 L1354.8,981.6 L1354.8,969.2 L1354.8,968.9 L1354.9,968.6 L1356.9,956.6 L1355.9,940.4 L1354.8,928.0 L1354.8,927.7 L1354.8,927.4 L1354.9,927.1 L1354.9,926.9 L1355.0,926.6 L1355.2,926.3 L1359.0,918.7 L1359.0,909.1 L1359.0,908.8 L1359.0,908.5 L1361.1,898.2 L1363.1,885.8 L1363.2,885.5 L1363.3,885.2 L1363.4,884.9 L1363.6,884.7 L1363.7,884.4 L1368.9,877.5 L1367.4,872.9 L1367.3,872.5 L1365.2,862.1 L1365.2,861.8 L1365.2,861.5 L1365.2,861.2 L1365.2,860.9 L1365.3,860.6 L1365.4,860.4 L1365.5,860.1 L1365.6,859.8 L1365.8,859.6 L1372.0,851.3 L1372.2,851.1 L1378.5,843.9 L1377.6,835.0 L1375.6,824.9 L1375.5,824.5 L1375.5,824.2 L1375.5,813.9 L1375.5,813.6 L1375.6,813.2 L1377.6,802.9 L1377.7,802.6 L1377.8,802.3 L1381.6,792.9 L1379.7,783.4 L1379.7,783.1 L1379.7,782.8 L1379.7,782.5 L1380.6,771.2 L1376.0,763.8 L1375.9,763.5 L1375.7,763.3 L1375.6,763.0 L1375.6,762.7 L1375.5,762.4 L1375.5,762.1 L1375.5,752.4 L1371.6,742.6 L1371.5,742.3 L1371.4,742.0 L1371.4,741.7 L1371.4,741.4 L1371.4,741.1 L1371.4,740.8 L1371.5,740.5 L1371.6,740.2 L1375.0,731.8 L1368.5,725.3 L1354.6,717.4 L1342.1,713.0 L1335.9,718.4 L1334.1,723.8 L1334.0,724.2 L1329.8,732.5ZM1618.7,905.5 L1618.7,905.0 L1618.7,904.6 L1618.7,904.4 L1622.5,908.1 L1629.4,911.6 L1629.7,911.8 L1630.0,911.9 L1630.2,912.1 L1630.4,912.4 L1630.6,912.6 L1630.8,912.9 L1630.9,913.2 L1631.0,913.5 L1631.1,913.8 L1631.2,914.1 L1631.2,914.4 L1631.2,914.7 L1631.2,915.0 L1631.1,915.3 L1631.0,915.6 L1630.9,915.9 L1628.0,921.6 L1631.5,926.2 L1639.2,926.2 L1639.5,926.2 L1639.8,926.2 L1640.1,926.3 L1640.4,926.4 L1640.7,926.5 L1640.9,926.7 L1641.2,926.9 L1641.4,927.1 L1641.6,927.3 L1641.8,927.5 L1642.0,927.8 L1642.1,928.0 L1642.2,928.3 L1642.3,928.6 L1644.2,936.1 L1644.2,936.4 L1644.3,936.7 L1644.3,937.0 L1644.2,937.3 L1644.2,937.6 L1644.1,937.9 L1643.9,938.2 L1643.8,938.5 L1643.6,938.7 L1643.4,939.0 L1643.2,939.2 L1643.0,939.4 L1642.7,939.6 L1642.4,939.7 L1642.1,939.8 L1641.8,939.9 L1641.5,940.0 L1641.2,940.0 L1640.9,940.0 L1640.6,940.0 L1640.3,939.9 L1633.2,938.2 L1621.6,938.2 L1616.7,941.8 L1618.1,947.2 L1618.1,947.4 L1620.0,956.7 L1620.0,957.0 L1620.0,957.3 L1620.0,957.6 L1620.0,958.0 L1619.9,958.3 L1619.8,958.6 L1619.7,958.8 L1619.5,959.1 L1619.3,959.4 L1619.1,959.6 L1618.9,959.8 L1618.6,960.0 L1613.6,963.3 L1610.1,969.0 L1612.4,976.9 L1612.5,977.2 L1612.6,977.5 L1612.6,977.8 L1612.6,978.1 L1612.5,978.5 L1610.7,987.8 L1610.6,988.1 L1610.5,988.4 L1610.3,988.7 L1610.2,988.9 L1610.0,989.2 L1609.8,989.4 L1607.1,992.1 L1607.1,991.8 L1607.0,991.4 L1606.9,990.9 L1606.8,990.5 L1606.6,990.1 L1606.4,989.7 L1606.1,989.3 L1605.9,989.0 L1605.8,988.9 L1601.9,992.7 L1594.5,996.5 L1596.3,1003.9 L1605.7,1007.6 L1614.8,1005.8 L1614.8,1005.7 L1614.7,1005.3 L1614.5,1004.8 L1614.3,1004.4 L1614.1,1004.1 L1613.8,1003.7 L1613.5,1003.4 L1613.1,1003.1 L1612.9,1002.9 L1614.3,1002.6 L1623.1,1000.9 L1631.7,995.7 L1642.7,986.5 L1643.0,986.3 L1643.4,986.1 L1650.5,982.5 L1657.4,977.4 L1662.4,970.7 L1666.0,960.0 L1666.1,959.8 L1666.2,959.5 L1666.4,959.2 L1666.5,959.0 L1666.7,958.8 L1672.3,953.2 L1672.6,953.0 L1672.8,952.8 L1673.0,952.7 L1673.3,952.5 L1673.6,952.4 L1679.0,950.6 L1685.1,947.6 L1688.4,939.4 L1688.5,939.1 L1688.6,938.9 L1694.2,929.6 L1694.4,929.3 L1694.7,929.0 L1700.3,923.4 L1700.5,923.2 L1700.8,923.0 L1705.3,919.9 L1706.9,913.7 L1707.0,913.4 L1707.1,913.1 L1707.3,912.8 L1707.4,912.6 L1707.6,912.3 L1707.9,912.1 L1708.1,911.9 L1708.4,911.7 L1708.6,911.6 L1708.9,911.5 L1709.2,911.4 L1716.5,909.6 L1725.0,906.2 L1729.4,901.7 L1731.1,893.3 L1731.2,893.1 L1731.2,892.8 L1731.4,892.5 L1735.1,885.1 L1735.2,884.8 L1735.4,884.5 L1735.6,884.3 L1735.9,884.1 L1736.1,883.9 L1736.4,883.7 L1736.7,883.6 L1737.0,883.5 L1737.3,883.4 L1737.6,883.3 L1738.0,883.3 L1744.1,883.3 L1750.6,876.8 L1750.9,876.5 L1757.2,871.8 L1757.9,863.9 L1751.4,859.6 L1742.4,856.0 L1742.1,855.8 L1741.9,855.7 L1733.5,850.7 L1727.2,851.5 L1727.0,851.5 L1715.9,852.4 L1715.5,852.5 L1715.2,852.4 L1714.9,852.4 L1714.6,852.3 L1714.3,852.2 L1714.0,852.0 L1703.7,846.0 L1695.4,846.8 L1695.1,846.9 L1694.8,846.9 L1694.6,846.8 L1683.4,845.0 L1671.5,843.3 L1660.1,849.8 L1655.4,857.6 L1655.4,867.9 L1655.4,868.2 L1655.4,868.5 L1655.3,868.9 L1655.2,869.2 L1655.0,869.5 L1654.8,869.7 L1654.6,870.0 L1654.4,870.2 L1654.2,870.4 L1653.9,870.6 L1645.1,875.9 L1639.9,882.9 L1639.7,883.1 L1639.5,883.3 L1639.3,883.5 L1639.0,883.6 L1638.8,883.8 L1631.3,887.5 L1631.0,887.6 L1630.8,887.7 L1618.7,891.2 L1616.6,894.1 L1616.5,893.8 L1616.4,893.3 L1616.3,892.9 L1616.1,892.5 L1615.8,892.1 L1615.6,891.8 L1615.2,891.4 L1614.9,891.1 L1614.8,891.1 L1605.7,903.3 L1615.0,905.2 L1617.7,907.9 L1617.7,907.9 L1618.0,907.5 L1618.2,907.1 L1618.4,906.7 L1618.6,906.3 L1618.7,905.9ZM1058.0,1152.0 L1058.1,1152.3 L1058.2,1152.6 L1059.6,1158.2 L1063.9,1160.3 L1069.5,1157.5 L1069.8,1157.4 L1070.1,1157.3 L1070.4,1157.2 L1070.7,1157.2 L1071.0,1157.2 L1071.3,1157.2 L1071.6,1157.3 L1071.9,1157.3 L1072.2,1157.4 L1072.5,1157.6 L1072.7,1157.7 L1073.0,1157.9 L1073.2,1158.1 L1076.7,1161.7 L1076.9,1161.9 L1077.1,1162.1 L1077.3,1162.4 L1077.4,1162.7 L1077.5,1163.0 L1077.6,1163.2 L1077.7,1163.6 L1077.7,1163.9 L1077.7,1164.2 L1077.6,1164.5 L1077.6,1164.8 L1077.5,1165.1 L1077.3,1165.3 L1074.5,1171.1 L1077.3,1178.1 L1084.0,1186.6 L1084.2,1186.8 L1084.4,1187.1 L1089.7,1197.7 L1089.8,1198.0 L1089.9,1198.3 L1091.3,1203.9 L1096.0,1206.3 L1101.9,1204.8 L1102.1,1204.7 L1102.5,1204.7 L1102.8,1204.7 L1103.1,1204.7 L1103.4,1204.8 L1103.6,1204.9 L1103.9,1205.0 L1104.2,1205.1 L1104.4,1205.3 L1104.7,1205.5 L1104.9,1205.7 L1105.1,1205.9 L1105.3,1206.1 L1108.8,1211.4 L1109.0,1211.7 L1109.1,1212.0 L1109.2,1212.3 L1109.3,1212.6 L1111.0,1221.4 L1111.1,1221.7 L1111.1,1222.0 L1111.1,1222.3 L1111.1,1222.6 L1111.0,1222.9 L1110.9,1223.1 L1110.8,1223.4 L1107.8,1229.4 L1109.0,1234.1 L1118.5,1240.4 L1118.7,1240.6 L1119.0,1240.8 L1119.2,1241.1 L1119.4,1241.3 L1119.5,1241.6 L1119.7,1241.9 L1119.8,1242.2 L1119.8,1242.5 L1119.9,1242.8 L1119.9,1243.1 L1119.9,1243.4 L1119.8,1243.7 L1119.8,1244.0 L1119.7,1244.3 L1119.5,1244.6 L1119.4,1244.9 L1119.2,1245.1 L1119.0,1245.4 L1114.6,1249.7 L1114.6,1252.1 L1119.8,1255.9 L1127.6,1257.5 L1134.5,1257.5 L1140.6,1249.9 L1140.8,1249.7 L1141.0,1249.5 L1141.3,1249.3 L1141.6,1249.1 L1141.8,1249.0 L1142.1,1248.9 L1142.4,1248.8 L1142.7,1248.7 L1143.0,1248.7 L1143.4,1248.7 L1143.7,1248.8 L1144.0,1248.8 L1144.3,1248.9 L1144.6,1249.1 L1144.8,1249.2 L1145.1,1249.4 L1145.3,1249.6 L1145.5,1249.8 L1145.7,1250.1 L1145.9,1250.3 L1146.0,1250.6 L1146.1,1250.9 L1147.9,1256.2 L1148.0,1256.5 L1148.0,1256.8 L1148.1,1257.1 L1148.1,1257.4 L1148.0,1257.7 L1148.0,1258.0 L1146.4,1264.3 L1148.0,1272.3 L1149.7,1279.3 L1149.8,1279.6 L1149.8,1279.9 L1149.8,1280.2 L1149.8,1280.5 L1149.7,1280.8 L1148.0,1287.9 L1147.9,1288.2 L1147.8,1288.5 L1147.6,1288.7 L1147.4,1289.0 L1147.2,1289.2 L1147.0,1289.5 L1146.8,1289.7 L1146.5,1289.8 L1146.3,1290.0 L1146.0,1290.1 L1145.7,1290.2 L1145.4,1290.3 L1145.1,1290.3 L1144.7,1290.3 L1144.4,1290.3 L1144.1,1290.2 L1143.8,1290.1 L1143.5,1290.0 L1143.3,1289.9 L1143.0,1289.7 L1142.8,1289.5 L1142.5,1289.3 L1142.3,1289.1 L1142.2,1288.8 L1133.8,1275.4 L1127.1,1271.4 L1122.5,1273.7 L1118.6,1280.2 L1123.1,1289.2 L1123.2,1289.5 L1123.3,1289.8 L1123.4,1290.1 L1123.4,1290.4 L1123.4,1290.7 L1123.4,1291.0 L1123.4,1291.3 L1123.3,1291.6 L1123.2,1291.9 L1123.0,1292.2 L1122.9,1292.4 L1122.7,1292.7 L1122.5,1292.9 L1122.2,1293.1 L1122.0,1293.3 L1121.7,1293.5 L1121.4,1293.6 L1121.1,1293.7 L1120.8,1293.8 L1120.5,1293.8 L1120.2,1293.8 L1116.3,1293.8 L1113.1,1297.0 L1114.4,1303.1 L1120.6,1309.3 L1127.4,1314.5 L1127.7,1314.7 L1127.9,1314.9 L1128.1,1315.1 L1133.2,1322.0 L1139.5,1328.2 L1145.6,1329.8 L1145.9,1329.8 L1146.2,1330.0 L1146.5,1330.1 L1146.8,1330.3 L1147.0,1330.5 L1147.2,1330.7 L1147.4,1330.9 L1147.6,1331.2 L1147.7,1331.4 L1147.9,1331.7 L1148.0,1332.0 L1148.0,1332.3 L1148.1,1332.6 L1148.1,1332.9 L1148.0,1333.3 L1146.3,1347.3 L1146.2,1347.6 L1146.1,1347.9 L1142.8,1358.0 L1142.8,1365.4 L1147.6,1373.4 L1147.8,1373.7 L1147.9,1374.0 L1148.0,1374.3 L1148.0,1374.6 L1149.7,1384.7 L1154.5,1394.3 L1163.0,1402.7 L1163.2,1403.0 L1163.4,1403.2 L1163.5,1403.5 L1163.7,1403.8 L1163.8,1404.1 L1163.8,1404.4 L1165.4,1412.0 L1170.8,1416.1 L1179.9,1417.6 L1191.5,1414.3 L1191.8,1414.2 L1200.3,1412.5 L1208.6,1409.2 L1216.8,1404.2 L1222.6,1398.4 L1222.6,1389.2 L1222.6,1388.9 L1222.7,1388.5 L1222.8,1388.2 L1222.9,1387.9 L1223.0,1387.7 L1223.2,1387.4 L1223.3,1387.1 L1223.6,1386.9 L1228.6,1381.9 L1233.3,1374.0 L1234.9,1364.7 L1231.7,1353.5 L1226.8,1345.4 L1220.0,1338.6 L1219.8,1338.4 L1212.8,1329.6 L1206.3,1321.5 L1196.6,1318.3 L1196.3,1318.2 L1196.1,1318.0 L1195.8,1317.9 L1195.5,1317.7 L1195.3,1317.4 L1195.1,1317.2 L1194.9,1316.9 L1194.8,1316.6 L1194.6,1316.3 L1194.6,1316.0 L1192.9,1309.3 L1188.0,1299.6 L1181.3,1292.9 L1181.1,1292.7 L1180.9,1292.4 L1180.8,1292.1 L1180.6,1291.8 L1180.5,1291.5 L1180.4,1291.2 L1180.4,1290.9 L1180.4,1290.6 L1180.4,1290.3 L1180.4,1290.0 L1182.0,1282.4 L1178.2,1276.5 L1178.1,1276.2 L1178.0,1276.0 L1177.9,1275.7 L1177.8,1275.4 L1177.8,1275.1 L1177.7,1274.8 L1177.8,1274.5 L1178.6,1264.4 L1177.1,1256.8 L1172.2,1250.3 L1172.1,1250.1 L1171.9,1249.8 L1168.4,1242.8 L1168.3,1242.5 L1168.2,1242.2 L1168.1,1241.9 L1168.1,1241.6 L1168.1,1241.3 L1168.1,1241.0 L1168.1,1240.7 L1169.7,1232.8 L1165.6,1221.3 L1165.5,1221.0 L1165.5,1220.8 L1163.7,1210.3 L1161.1,1198.0 L1161.0,1197.7 L1161.0,1197.4 L1161.0,1197.0 L1161.9,1188.4 L1161.9,1178.6 L1156.9,1165.3 L1152.7,1158.6 L1152.6,1158.3 L1152.4,1158.0 L1152.3,1157.7 L1152.3,1157.4 L1150.7,1148.2 L1144.0,1143.5 L1136.4,1144.2 L1136.1,1144.2 L1135.8,1144.2 L1135.4,1144.2 L1135.1,1144.1 L1134.8,1144.0 L1134.5,1143.8 L1134.3,1143.7 L1134.0,1143.5 L1124.1,1135.2 L1112.8,1132.8 L1101.5,1132.8 L1093.3,1136.1 L1093.0,1136.2 L1092.6,1136.3 L1092.3,1136.3 L1092.0,1136.3 L1091.7,1136.3 L1091.4,1136.2 L1091.1,1136.2 L1080.7,1132.7 L1067.9,1130.3 L1059.1,1134.7 L1053.0,1143.8 L1053.0,1145.2 L1057.7,1151.4 L1057.9,1151.7ZM1448.4,1279.4 L1448.3,1279.7 L1448.1,1280.0 L1447.9,1280.3 L1447.7,1280.5 L1447.4,1280.7 L1447.2,1280.9 L1443.7,1283.0 L1441.9,1287.0 L1443.8,1292.0 L1446.6,1294.1 L1446.8,1294.3 L1447.0,1294.5 L1447.2,1294.8 L1447.4,1295.0 L1447.6,1295.3 L1447.7,1295.6 L1449.3,1300.5 L1452.5,1305.3 L1455.9,1309.6 L1456.1,1309.8 L1456.3,1310.1 L1456.4,1310.4 L1456.5,1310.7 L1456.6,1311.0 L1456.6,1311.3 L1456.6,1311.6 L1456.6,1314.2 L1456.6,1314.6 L1456.6,1314.9 L1456.5,1315.2 L1455.0,1319.6 L1456.5,1324.8 L1456.6,1325.1 L1456.6,1325.4 L1456.6,1325.7 L1456.6,1331.0 L1456.6,1331.3 L1456.6,1331.6 L1456.5,1331.9 L1456.4,1332.2 L1456.3,1332.5 L1456.1,1332.7 L1455.9,1333.0 L1455.7,1333.2 L1455.5,1333.4 L1455.2,1333.6 L1454.9,1333.8 L1454.7,1333.9 L1454.4,1334.0 L1454.1,1334.1 L1450.2,1334.9 L1444.5,1338.1 L1444.2,1338.3 L1443.9,1338.4 L1439.5,1339.8 L1437.2,1342.8 L1436.4,1349.2 L1437.8,1353.9 L1442.1,1358.2 L1447.5,1360.5 L1452.6,1362.2 L1458.7,1364.0 L1459.0,1364.1 L1459.3,1364.2 L1459.6,1364.4 L1459.9,1364.5 L1460.1,1364.8 L1464.2,1368.9 L1468.9,1371.6 L1472.2,1370.9 L1472.5,1370.9 L1472.8,1370.9 L1473.1,1370.9 L1473.4,1370.9 L1473.7,1371.0 L1474.0,1371.1 L1474.3,1371.2 L1474.6,1371.4 L1474.8,1371.6 L1475.1,1371.8 L1477.6,1374.3 L1481.8,1377.7 L1482.1,1377.9 L1482.3,1378.2 L1482.5,1378.5 L1482.7,1378.7 L1482.8,1379.0 L1482.9,1379.3 L1484.7,1385.5 L1484.7,1385.8 L1484.8,1386.1 L1484.8,1386.3 L1484.8,1386.6 L1484.8,1386.9 L1484.0,1391.7 L1484.6,1395.4 L1487.7,1398.5 L1493.0,1400.0 L1493.3,1400.1 L1493.6,1400.3 L1493.9,1400.4 L1499.0,1403.8 L1503.9,1405.9 L1506.7,1405.4 L1511.2,1402.4 L1515.9,1397.7 L1518.3,1392.9 L1518.5,1392.6 L1518.7,1392.3 L1518.9,1392.0 L1523.2,1387.7 L1527.5,1382.6 L1527.8,1382.3 L1528.0,1382.1 L1528.3,1381.9 L1532.6,1379.4 L1536.2,1376.4 L1538.6,1371.8 L1538.7,1371.5 L1538.9,1371.2 L1539.1,1370.9 L1539.4,1370.7 L1539.7,1370.5 L1544.4,1367.3 L1548.5,1361.7 L1551.8,1356.7 L1554.0,1351.5 L1553.7,1344.1 L1552.0,1340.8 L1546.2,1335.0 L1546.0,1334.7 L1542.8,1330.8 L1538.4,1328.3 L1534.5,1329.6 L1534.2,1329.7 L1533.9,1329.7 L1533.6,1329.8 L1533.3,1329.7 L1532.9,1329.7 L1532.6,1329.6 L1532.3,1329.5 L1532.0,1329.4 L1531.7,1329.2 L1531.5,1329.0 L1531.2,1328.8 L1527.7,1325.3 L1527.5,1325.0 L1527.3,1324.8 L1527.1,1324.5 L1524.7,1319.6 L1520.2,1315.1 L1515.4,1312.7 L1515.1,1312.5 L1514.8,1312.4 L1514.6,1312.1 L1514.4,1311.9 L1509.7,1306.5 L1503.7,1305.0 L1503.4,1304.9 L1503.1,1304.8 L1502.8,1304.7 L1502.6,1304.5 L1502.3,1304.3 L1502.1,1304.1 L1501.9,1303.8 L1499.6,1300.7 L1493.8,1296.6 L1493.6,1296.4 L1493.4,1296.3 L1488.9,1291.7 L1484.6,1291.0 L1484.3,1290.9 L1484.0,1290.8 L1483.7,1290.7 L1483.5,1290.6 L1483.2,1290.4 L1483.0,1290.2 L1475.3,1283.4 L1469.4,1280.1 L1469.2,1279.9 L1469.0,1279.7 L1463.9,1275.5 L1459.7,1273.0 L1459.5,1272.8 L1454.6,1269.3 L1451.2,1270.3 L1448.7,1274.6 L1448.7,1278.2 L1448.7,1278.5 L1448.6,1278.8 L1448.6,1279.1ZM1171.3,1608.3 L1171.5,1607.9 L1171.5,1607.6 L1172.5,1609.3 L1177.4,1616.7 L1177.5,1616.8 L1181.3,1623.0 L1181.4,1623.2 L1185.1,1630.7 L1185.2,1631.0 L1185.3,1631.2 L1185.4,1631.5 L1185.4,1631.8 L1185.4,1632.1 L1185.4,1639.2 L1186.6,1643.8 L1186.6,1644.1 L1186.7,1644.4 L1186.7,1644.7 L1186.6,1645.0 L1186.6,1645.3 L1185.8,1648.2 L1185.8,1648.2 L1185.7,1647.8 L1185.6,1647.4 L1185.4,1647.0 L1185.2,1646.6 L1184.9,1646.3 L1184.6,1646.0 L1184.3,1645.7 L1183.9,1645.4 L1183.5,1645.2 L1183.3,1645.1 L1182.2,1649.5 L1176.0,1647.0 L1168.6,1649.5 L1166.1,1657.0 L1169.8,1664.4 L1177.3,1666.9 L1181.2,1668.5 L1181.2,1668.3 L1181.4,1667.8 L1181.4,1667.4 L1181.5,1667.0 L1181.5,1666.5 L1181.4,1666.1 L1181.3,1665.7 L1181.2,1665.2 L1181.1,1665.0 L1184.7,1666.4 L1185.0,1666.5 L1185.2,1666.7 L1185.5,1666.9 L1185.7,1667.1 L1185.9,1667.3 L1186.1,1667.6 L1186.3,1667.8 L1186.4,1668.1 L1186.5,1668.4 L1186.6,1668.7 L1186.7,1669.0 L1186.7,1669.4 L1186.7,1669.7 L1186.6,1670.0 L1186.5,1670.3 L1186.4,1670.6 L1186.3,1670.9 L1186.1,1671.2 L1186.0,1671.4 L1185.7,1671.6 L1183.5,1673.9 L1181.2,1677.4 L1181.0,1677.6 L1180.8,1677.9 L1177.0,1681.6 L1176.8,1681.8 L1176.5,1682.0 L1176.3,1682.2 L1176.0,1682.3 L1171.1,1684.2 L1169.3,1689.8 L1169.3,1698.0 L1169.3,1698.3 L1169.2,1698.6 L1169.1,1698.9 L1169.0,1699.2 L1168.9,1699.5 L1168.7,1699.7 L1166.6,1702.9 L1165.7,1707.7 L1167.9,1714.3 L1168.0,1714.6 L1168.0,1714.9 L1168.0,1715.3 L1168.0,1715.6 L1168.0,1715.9 L1167.9,1716.2 L1167.8,1716.5 L1167.7,1716.8 L1165.2,1721.7 L1165.1,1722.0 L1164.9,1722.2 L1161.4,1727.0 L1158.8,1732.1 L1159.3,1737.0 L1161.7,1744.1 L1161.7,1744.4 L1161.8,1744.7 L1162.8,1751.8 L1169.8,1755.8 L1174.3,1757.0 L1174.6,1757.0 L1174.9,1757.1 L1175.1,1757.3 L1175.4,1757.4 L1175.6,1757.6 L1175.8,1757.8 L1179.5,1761.5 L1179.8,1761.8 L1180.0,1762.1 L1180.1,1762.4 L1182.6,1767.3 L1182.8,1767.7 L1182.9,1768.0 L1182.9,1768.4 L1184.1,1778.0 L1186.1,1784.0 L1191.3,1787.1 L1191.5,1787.2 L1195.2,1789.7 L1195.5,1789.9 L1195.7,1790.1 L1195.9,1790.4 L1196.1,1790.6 L1196.3,1790.9 L1198.3,1795.1 L1202.5,1797.6 L1208.6,1795.5 L1208.9,1795.4 L1209.2,1795.4 L1209.6,1795.4 L1222.0,1795.4 L1222.3,1795.4 L1222.6,1795.4 L1222.9,1795.5 L1223.2,1795.6 L1223.5,1795.7 L1223.8,1795.9 L1224.0,1796.1 L1224.3,1796.3 L1227.7,1799.8 L1232.8,1802.8 L1238.5,1802.8 L1243.9,1799.6 L1244.2,1799.4 L1244.5,1799.3 L1244.7,1799.2 L1245.0,1799.1 L1245.3,1799.1 L1245.6,1799.1 L1251.0,1799.1 L1254.7,1797.3 L1257.9,1792.9 L1258.1,1792.7 L1258.4,1792.5 L1258.6,1792.2 L1258.9,1792.1 L1259.2,1791.9 L1259.5,1791.8 L1263.0,1790.6 L1267.5,1788.4 L1271.7,1785.2 L1275.1,1779.5 L1275.3,1779.3 L1275.5,1779.0 L1275.7,1778.8 L1276.0,1778.6 L1276.2,1778.4 L1282.5,1774.7 L1282.7,1774.6 L1283.0,1774.4 L1283.3,1774.3 L1287.4,1773.3 L1291.0,1769.7 L1292.1,1763.3 L1292.2,1763.0 L1292.3,1762.7 L1292.4,1762.4 L1292.5,1762.1 L1292.7,1761.9 L1292.9,1761.7 L1293.1,1761.4 L1293.3,1761.2 L1293.6,1761.1 L1293.8,1760.9 L1298.8,1758.4 L1299.1,1758.3 L1299.3,1758.2 L1299.6,1758.2 L1304.9,1757.1 L1308.7,1753.3 L1310.7,1748.3 L1310.7,1740.2 L1310.7,1739.9 L1310.8,1739.5 L1310.9,1739.2 L1311.0,1738.9 L1311.1,1738.6 L1311.3,1738.3 L1311.5,1738.1 L1311.7,1737.8 L1312.0,1737.6 L1316.6,1734.1 L1320.7,1729.1 L1320.7,1724.0 L1320.7,1723.7 L1320.7,1723.4 L1322.0,1717.2 L1322.0,1717.0 L1323.8,1709.9 L1324.3,1702.5 L1319.9,1696.0 L1319.8,1695.7 L1319.6,1695.4 L1319.5,1695.1 L1319.5,1694.7 L1318.3,1688.1 L1315.1,1683.7 L1314.9,1683.4 L1314.7,1683.1 L1314.6,1682.8 L1312.3,1675.9 L1308.9,1671.3 L1308.7,1671.1 L1308.6,1670.8 L1308.4,1670.5 L1308.3,1670.3 L1308.3,1670.0 L1308.2,1669.7 L1308.2,1669.4 L1308.2,1664.5 L1303.7,1659.9 L1297.2,1658.9 L1296.9,1658.8 L1296.6,1658.7 L1296.4,1658.6 L1296.1,1658.4 L1295.8,1658.3 L1295.6,1658.1 L1295.4,1657.9 L1295.2,1657.6 L1295.0,1657.4 L1291.7,1651.8 L1284.8,1647.2 L1284.5,1647.0 L1284.3,1646.7 L1284.0,1646.5 L1280.4,1641.7 L1275.1,1636.3 L1268.7,1635.3 L1268.3,1635.2 L1268.0,1635.1 L1267.7,1635.0 L1267.5,1634.8 L1267.2,1634.6 L1261.2,1629.8 L1256.4,1626.9 L1250.3,1628.9 L1250.0,1629.0 L1249.7,1629.1 L1249.3,1629.1 L1243.1,1629.1 L1242.8,1629.1 L1242.4,1629.0 L1242.1,1628.9 L1234.9,1626.5 L1226.5,1625.3 L1226.4,1625.3 L1219.0,1624.1 L1218.7,1624.0 L1218.4,1623.9 L1218.1,1623.8 L1217.8,1623.6 L1217.5,1623.4 L1217.3,1623.2 L1217.1,1623.0 L1216.9,1622.7 L1216.7,1622.5 L1216.6,1622.2 L1216.4,1621.9 L1216.4,1621.6 L1216.3,1621.3 L1216.3,1620.9 L1216.3,1615.8 L1212.8,1611.5 L1206.8,1610.5 L1198.4,1610.5 L1198.1,1610.5 L1197.8,1610.4 L1197.5,1610.4 L1197.3,1610.3 L1197.0,1610.1 L1196.7,1610.0 L1190.5,1606.3 L1190.4,1606.2 L1182.9,1601.2 L1182.7,1601.0 L1182.5,1600.8 L1181.6,1599.9 L1181.9,1599.9 L1182.3,1599.9 L1182.7,1599.8 L1183.2,1599.6 L1183.6,1599.5 L1184.0,1599.2 L1184.3,1599.0 L1184.7,1598.7 L1184.8,1598.6 L1184.7,1598.6 L1178.5,1592.4 L1171.1,1588.6 L1164.2,1594.8 L1164.8,1602.3 L1169.4,1610.3 L1169.5,1610.3 L1169.9,1610.0 L1170.2,1609.7 L1170.6,1609.4 L1170.8,1609.1 L1171.1,1608.7Z" fill="#5E4FA2" fill-rule="evenodd"/><circle cx="907.5" cy="297.9" r="9.5"/><circle cx="908.4" cy="308.3" r="9.5"/><circle cx="913.8" cy="317.2" r="9.5"/><circle cx="920.7" cy="325.2" r="9.5"/><circle cx="928.6" cy="332.2" r="9.5"/><circle cx="936.0" cy="339.6" r="9.5"/><circle cx="945.1" cy="344.2" r="9.5"/><circle cx="950.7" cy="353.1" r="9.5"/><circle cx="958.4" cy="360.0" r="9.5"/><circle cx="966.6" cy="366.5" r="9.5"/><circle cx="972.2" cy="375.3" r="9.5"/><circle cx="973.3" cy="385.8" r="9.5"/><circle cx="971.7" cy="396.1" r="9.5"/><circle cx="971.8" cy="406.5" r="9.5"/><circle cx="968.7" cy="414.1" r="9.5"/><circle cx="977.7" cy="419.6" r="9.5"/><circle cx="986.8" cy="424.8" r="9.5"/><circle cx="995.8" cy="430.2" r="9.5"/><circle cx="1002.2" cy="438.6" r="9.5"/><circle cx="1004.6" cy="448.7" r="9.5"/><circle cx="1006.3" cy="459.1" r="9.5"/><circle cx="1011.5" cy="467.7" r="9.5"/><circle cx="1019.5" cy="464.8" r="9.5"/><circle cx="1029.0" cy="468.1" r="9.5"/><circle cx="1032.7" cy="477.9" r="9.5"/><circle cx="1038.2" cy="486.1" r="9.5"/><circle cx="1047.5" cy="481.7" r="9.5"/><circle cx="1050.4" cy="471.7" r="9.5"/><circle cx="1058.7" cy="465.8" r="9.5"/><circle cx="1068.7" cy="462.5" r="9.5"/><circle cx="1072.7" cy="454.6" r="9.5"/><circle cx="1074.6" cy="444.6" r="9.5"/><circle cx="1071.8" cy="434.5" r="9.5"/><circle cx="1070.4" cy="424.3" r="9.5"/><circle cx="1067.7" cy="418.4" r="9.5"/><circle cx="1058.0" cy="414.4" r="9.5"/><circle cx="1048.0" cy="411.7" r="9.5"/><circle cx="1042.8" cy="403.1" r="9.5"/><circle cx="1042.0" cy="392.7" r="9.5"/><circle cx="1048.2" cy="384.7" r="9.5"/><circle cx="1058.2" cy="383.5" r="9.5"/><circle cx="1061.7" cy="382.0" r="9.5"/><circle cx="1064.2" cy="372.1" r="9.5"/><circle cx="1071.3" cy="364.6" r="9.5"/><circle cx="1081.4" cy="362.3" r="9.5"/><circle cx="1089.3" cy="367.9" r="9.5"/><circle cx="1082.8" cy="359.6" r="9.5"/><circle cx="1080.7" cy="349.9" r="9.5"/><circle cx="1086.9" cy="341.6" r="9.5"/><circle cx="1087.0" cy="331.5" r="9.5"/><circle cx="1089.3" cy="321.2" r="9.5"/><circle cx="1087.6" cy="310.8" r="9.5"/><circle cx="1090.7" cy="300.9" r="9.5"/><circle cx="1093.7" cy="290.9" r="9.5"/><circle cx="1093.2" cy="280.4" r="9.5"/><circle cx="1089.7" cy="270.9" r="9.5"/><circle cx="1080.5" cy="266.7" r="9.5"/><circle cx="1070.2" cy="264.6" r="9.5"/><circle cx="1059.9" cy="263.8" r="9.5"/><circle cx="1049.6" cy="265.5" r="9.5"/><circle cx="1039.1" cy="264.6" r="9.5"/><circle cx="1028.8" cy="263.2" r="9.5"/><circle cx="1018.4" cy="264.7" r="9.5"/><circle cx="1007.9" cy="264.4" r="9.5"/><circle cx="997.6" cy="263.8" r="9.5"/><circle cx="987.6" cy="266.9" r="9.5"/><circle cx="977.2" cy="268.4" r="9.5"/><circle cx="966.7" cy="268.9" r="9.5"/><circle cx="957.0" cy="268.9" r="9.5"/><circle cx="947.8" cy="273.0" r="9.5"/><circle cx="937.6" cy="270.5" r="9.5"/><circle cx="928.2" cy="274.5" r="9.5"/><circle cx="920.3" cy="281.5" r="9.5"/><circle cx="912.8" cy="288.9" r="9.5"/><circle cx="1100.8" cy="375.9" r="9.5"/><circle cx="1108.5" cy="386.2" r="9.5"/><circle cx="1115.9" cy="390.4" r="9.5"/><circle cx="1111.0" cy="383.8" r="9.5"/><circle cx="979.2" cy="474.5" r="9.5"/><circle cx="977.7" cy="485.1" r="9.5"/><circle cx="983.5" cy="494.2" r="9.5"/><circle cx="989.8" cy="501.3" r="9.5"/><circle cx="987.1" cy="492.1" r="9.5"/><circle cx="984.7" cy="482.1" r="9.5"/><circle cx="988.2" cy="471.8" r="9.5"/><circle cx="1116.8" cy="467.7" r="9.5"/><circle cx="1117.7" cy="469.8" r="9.5"/><circle cx="1117.9" cy="468.1" r="9.5"/><circle cx="1108.1" cy="536.3" r="9.5"/><circle cx="1113.8" cy="527.4" r="9.5"/><circle cx="1121.1" cy="519.6" r="9.5"/><circle cx="1131.0" cy="516.8" r="9.5"/><circle cx="1141.4" cy="518.5" r="9.5"/><circle cx="1151.3" cy="522.7" r="9.5"/><circle cx="1160.4" cy="528.2" r="9.5"/><circle cx="1169.2" cy="534.1" r="9.5"/><circle cx="1178.5" cy="529.7" r="9.5"/><circle cx="1187.1" cy="523.6" r="9.5"/><circle cx="1197.7" cy="522.4" r="9.5"/><circle cx="1206.3" cy="519.4" r="9.5"/><circle cx="1208.9" cy="509.4" r="9.5"/><circle cx="1212.7" cy="499.8" r="9.5"/><circle cx="1211.3" cy="489.1" r="9.5"/><circle cx="1209.1" cy="478.7" r="9.5"/><circle cx="1204.4" cy="469.2" r="9.5"/><circle cx="1197.4" cy="461.3" r="9.5"/><circle cx="1188.7" cy="455.2" r="9.5"/><circle cx="1180.9" cy="447.9" r="9.5"/><circle cx="1171.0" cy="444.5" r="9.5"/><circle cx="1160.4" cy="444.0" r="9.5"/><circle cx="1154.1" cy="446.9" r="9.5"/><circle cx="1148.5" cy="455.7" r="9.5"/><circle cx="1141.3" cy="463.6" r="9.5"/><circle cx="1139.2" cy="473.6" r="9.5"/><circle cx="1135.6" cy="483.5" r="9.5"/><circle cx="1131.5" cy="493.4" r="9.5"/><circle cx="1129.1" cy="503.8" r="9.5"/><circle cx="1121.0" cy="510.2" r="9.5"/><circle cx="1115.9" cy="517.7" r="9.5"/><circle cx="1113.0" cy="527.6" r="9.5"/><circle cx="1325.9" cy="415.7" r="9.5"/><circle cx="1330.3" cy="425.1" r="9.5"/><circle cx="1332.7" cy="435.0" r="9.5"/><circle cx="1336.1" cy="440.5" r="9.5"/><circle cx="1345.3" cy="445.7" r="9.5"/><circle cx="1351.8" cy="454.0" r="9.5"/><circle cx="1354.1" cy="464.3" r="9.5"/><circle cx="1356.4" cy="474.2" r="9.5"/><circle cx="1359.2" cy="482.9" r="9.5"/><circle cx="1365.4" cy="490.9" r="9.5"/><circle cx="1366.5" cy="501.5" r="9.5"/><circle cx="1367.9" cy="511.3" r="9.5"/><circle cx="1373.1" cy="513.4" r="9.5"/><circle cx="1376.8" cy="504.2" r="9.5"/><circle cx="1371.9" cy="495.3" r="9.5"/><circle cx="1373.3" cy="484.8" r="9.5"/><circle cx="1377.1" cy="475.2" r="9.5"/><circle cx="1378.9" cy="464.9" r="9.5"/><circle cx="1382.6" cy="455.3" r="9.5"/><circle cx="1389.1" cy="447.3" r="9.5"/><circle cx="1386.7" cy="439.2" r="9.5"/><circle cx="1380.1" cy="431.3" r="9.5"/><circle cx="1373.1" cy="427.8" r="9.5"/><circle cx="1362.8" cy="428.3" r="9.5"/><circle cx="1352.9" cy="424.6" r="9.5"/><circle cx="1343.1" cy="421.6" r="9.5"/><circle cx="1333.5" cy="418.3" r="9.5"/><circle cx="568.4" cy="477.1" r="9.5"/><circle cx="567.7" cy="487.7" r="9.5"/><circle cx="567.0" cy="498.2" r="9.5"/><circle cx="570.2" cy="507.3" r="9.5"/><circle cx="575.0" cy="516.5" r="9.5"/><circle cx="578.8" cy="526.4" r="9.5"/><circle cx="583.7" cy="535.4" r="9.5"/><circle cx="585.2" cy="545.0" r="9.5"/><circle cx="593.3" cy="551.6" r="9.5"/><circle cx="599.1" cy="560.3" r="9.5"/><circle cx="605.8" cy="568.1" r="9.5"/><circle cx="610.3" cy="575.9" r="9.5"/><circle cx="615.3" cy="585.1" r="9.5"/><circle cx="620.1" cy="594.4" r="9.5"/><circle cx="626.4" cy="602.7" r="9.5"/><circle cx="632.2" cy="611.4" r="9.5"/><circle cx="640.8" cy="615.6" r="9.5"/><circle cx="649.8" cy="620.7" r="9.5"/><circle cx="650.6" cy="630.9" r="9.5"/><circle cx="656.1" cy="638.5" r="9.5"/><circle cx="663.7" cy="645.6" r="9.5"/><circle cx="671.4" cy="652.7" r="9.5"/><circle cx="678.1" cy="660.9" r="9.5"/><circle cx="685.1" cy="668.7" r="9.5"/><circle cx="693.2" cy="675.6" r="9.5"/><circle cx="694.4" cy="674.4" r="9.5"/><circle cx="689.3" cy="665.5" r="9.5"/><circle cx="684.2" cy="656.4" r="9.5"/><circle cx="688.8" cy="647.6" r="9.5"/><circle cx="681.4" cy="642.7" r="9.5"/><circle cx="679.6" cy="632.8" r="9.5"/><circle cx="681.6" cy="623.4" r="9.5"/><circle cx="686.9" cy="614.9" r="9.5"/><circle cx="693.5" cy="607.5" r="9.5"/><circle cx="703.4" cy="604.8" r="9.5"/><circle cx="713.4" cy="606.1" r="9.5"/><circle cx="722.7" cy="601.1" r="9.5"/><circle cx="730.4" cy="594.1" r="9.5"/><circle cx="740.0" cy="589.8" r="9.5"/><circle cx="748.6" cy="586.5" r="9.5"/><circle cx="751.5" cy="576.6" r="9.5"/><circle cx="746.3" cy="567.4" r="9.5"/><circle cx="741.5" cy="558.1" r="9.5"/><circle cx="735.9" cy="549.3" r="9.5"/><circle cx="736.1" cy="539.2" r="9.5"/><circle cx="729.8" cy="531.9" r="9.5"/><circle cx="721.2" cy="525.9" r="9.5"/><circle cx="717.9" cy="516.3" r="9.5"/><circle cx="709.0" cy="510.7" r="9.5"/><circle cx="699.6" cy="505.8" r="9.5"/><circle cx="689.8" cy="502.9" r="9.5"/><circle cx="684.8" cy="493.7" r="9.5"/><circle cx="677.0" cy="487.9" r="9.5"/><circle cx="667.3" cy="486.0" r="9.5"/><circle cx="656.8" cy="487.3" r="9.5"/><circle cx="646.8" cy="484.2" r="9.5"/><circle cx="636.6" cy="481.7" r="9.5"/><circle cx="627.3" cy="476.8" r="9.5"/><circle cx="616.8" cy="477.4" r="9.5"/><circle cx="607.7" cy="472.3" r="9.5"/><circle cx="598.0" cy="471.6" r="9.5"/><circle cx="587.6" cy="473.1" r="9.5"/><circle cx="577.5" cy="472.2" r="9.5"/><circle cx="311.1" cy="763.7" r="9.5"/><circle cx="310.3" cy="774.2" r="9.5"/><circle cx="309.7" cy="784.7" r="9.5"/><circle cx="309.9" cy="795.3" r="9.5"/><circle cx="306.6" cy="805.0" r="9.5"/><circle cx="302.6" cy="814.5" r="9.5"/><circle cx="311.9" cy="818.7" r="9.5"/><circle cx="318.5" cy="826.9" r="9.5"/><circle cx="323.6" cy="836.1" r="9.5"/><circle cx="329.2" cy="845.1" r="9.5"/><circle cx="332.0" cy="855.1" r="9.5"/><circle cx="335.1" cy="863.7" r="9.5"/><circle cx="343.5" cy="870.1" r="9.5"/><circle cx="351.3" cy="877.2" r="9.5"/><circle cx="361.2" cy="881.1" r="9.5"/><circle cx="369.9" cy="887.0" r="9.5"/><circle cx="379.3" cy="891.6" r="9.5"/><circle cx="389.8" cy="892.3" r="9.5"/><circle cx="399.7" cy="896.0" r="9.5"/><circle cx="409.0" cy="897.1" r="9.5"/><circle cx="419.0" cy="893.9" r="9.5"/><circle cx="429.2" cy="891.3" r="9.5"/><circle cx="439.4" cy="888.9" r="9.5"/><circle cx="447.1" cy="882.0" r="9.5"/><circle cx="457.5" cy="881.9" r="9.5"/><circle cx="467.9" cy="881.0" r="9.5"/><circle cx="478.5" cy="881.6" r="9.5"/><circle cx="488.9" cy="882.5" r="9.5"/><circle cx="499.3" cy="883.7" r="9.5"/><circle cx="503.3" cy="879.7" r="9.5"/><circle cx="505.7" cy="869.4" r="9.5"/><circle cx="514.3" cy="864.2" r="9.5"/><circle cx="523.2" cy="869.3" r="9.5"/><circle cx="526.7" cy="865.0" r="9.5"/><circle cx="531.3" cy="855.8" r="9.5"/><circle cx="528.8" cy="846.7" r="9.5"/><circle cx="531.8" cy="837.1" r="9.5"/><circle cx="522.0" cy="835.2" r="9.5"/><circle cx="511.6" cy="834.1" r="9.5"/><circle cx="501.2" cy="835.5" r="9.5"/><circle cx="493.9" cy="828.7" r="9.5"/><circle cx="496.6" cy="819.0" r="9.5"/><circle cx="504.0" cy="811.7" r="9.5"/><circle cx="510.3" cy="808.4" r="9.5"/><circle cx="500.3" cy="807.4" r="9.5"/><circle cx="495.3" cy="798.4" r="9.5"/><circle cx="486.3" cy="793.4" r="9.5"/><circle cx="477.5" cy="787.6" r="9.5"/><circle cx="467.1" cy="788.0" r="9.5"/><circle cx="457.7" cy="784.4" r="9.5"/><circle cx="450.8" cy="777.9" r="9.5"/><circle cx="440.4" cy="777.4" r="9.5"/><circle cx="430.0" cy="775.1" r="9.5"/><circle cx="419.6" cy="776.6" r="9.5"/><circle cx="409.5" cy="774.7" r="9.5"/><circle cx="400.0" cy="770.0" r="9.5"/><circle cx="391.7" cy="763.5" r="9.5"/><circle cx="381.7" cy="764.4" r="9.5"/><circle cx="371.7" cy="761.2" r="9.5"/><circle cx="362.3" cy="757.8" r="9.5"/><circle cx="353.8" cy="751.7" r="9.5"/><circle cx="345.0" cy="745.8" r="9.5"/><circle cx="335.4" cy="747.0" r="9.5"/><circle cx="325.1" cy="749.2" r="9.5"/><circle cx="317.0" cy="754.9" r="9.5"/><circle cx="715.7" cy="838.2" r="9.5"/><circle cx="721.0" cy="847.1" r="9.5"/><circle cx="729.3" cy="852.6" r="9.5"/><circle cx="735.1" cy="861.4" r="9.5"/><circle cx="738.7" cy="871.3" r="9.5"/><circle cx="746.1" cy="878.4" r="9.5"/><circle cx="752.9" cy="886.4" r="9.5"/><circle cx="757.0" cy="895.7" r="9.5"/><circle cx="762.7" cy="904.4" r="9.5"/><circle cx="770.8" cy="910.9" r="9.5"/><circle cx="776.7" cy="919.7" r="9.5"/><circle cx="784.5" cy="926.1" r="9.5"/><circle cx="789.4" cy="935.1" r="9.5"/><circle cx="792.3" cy="945.3" r="9.5"/><circle cx="797.0" cy="954.1" r="9.5"/><circle cx="802.8" cy="962.8" r="9.5"/><circle cx="808.0" cy="972.0" r="9.5"/><circle cx="812.6" cy="981.2" r="9.5"/><circle cx="823.1" cy="981.5" r="9.5"/><circle cx="833.5" cy="979.5" r="9.5"/><circle cx="843.3" cy="982.2" r="9.5"/><circle cx="850.3" cy="989.7" r="9.5"/><circle cx="859.1" cy="989.2" r="9.5"/><circle cx="860.4" cy="980.4" r="9.5"/><circle cx="855.5" cy="973.1" r="9.5"/><circle cx="846.8" cy="967.9" r="9.5"/><circle cx="843.3" cy="958.3" r="9.5"/><circle cx="849.7" cy="950.6" r="9.5"/><circle cx="857.4" cy="945.1" r="9.5"/><circle cx="857.4" cy="934.5" r="9.5"/><circle cx="858.5" cy="924.0" r="9.5"/><circle cx="863.4" cy="915.1" r="9.5"/><circle cx="870.5" cy="908.8" r="9.5"/><circle cx="870.1" cy="899.2" r="9.5"/><circle cx="870.5" cy="889.0" r="9.5"/><circle cx="877.6" cy="881.8" r="9.5"/><circle cx="871.8" cy="874.0" r="9.5"/><circle cx="875.5" cy="864.7" r="9.5"/><circle cx="874.0" cy="861.0" r="9.5"/><circle cx="864.6" cy="856.8" r="9.5"/><circle cx="861.4" cy="847.2" r="9.5"/><circle cx="851.1" cy="847.0" r="9.5"/><circle cx="844.6" cy="839.5" r="9.5"/><circle cx="842.4" cy="829.1" r="9.5"/><circle cx="841.6" cy="818.7" r="9.5"/><circle cx="848.7" cy="811.3" r="9.5"/><circle cx="858.7" cy="812.3" r="9.5"/><circle cx="866.7" cy="819.1" r="9.5"/><circle cx="870.5" cy="821.6" r="9.5"/><circle cx="870.7" cy="811.1" r="9.5"/><circle cx="877.0" cy="803.1" r="9.5"/><circle cx="876.5" cy="792.6" r="9.5"/><circle cx="874.1" cy="782.4" r="9.5"/><circle cx="867.7" cy="774.0" r="9.5"/><circle cx="861.6" cy="768.2" r="9.5"/><circle cx="851.3" cy="770.5" r="9.5"/><circle cx="841.3" cy="773.7" r="9.5"/><circle cx="832.0" cy="778.7" r="9.5"/><circle cx="821.8" cy="779.2" r="9.5"/><circle cx="811.6" cy="780.7" r="9.5"/><circle cx="801.4" cy="780.1" r="9.5"/><circle cx="791.6" cy="783.3" r="9.5"/><circle cx="781.7" cy="783.3" r="9.5"/><circle cx="772.2" cy="787.9" r="9.5"/><circle cx="763.0" cy="793.1" r="9.5"/><circle cx="752.9" cy="793.0" r="9.5"/><circle cx="743.5" cy="795.6" r="9.5"/><circle cx="734.6" cy="800.8" r="9.5"/><circle cx="728.5" cy="809.4" r="9.5"/><circle cx="723.0" cy="818.5" r="9.5"/><circle cx="718.7" cy="828.1" r="9.5"/><circle cx="897.3" cy="928.0" r="9.5"/><circle cx="900.6" cy="932.0" r="9.5"/><circle cx="900.7" cy="931.7" r="9.5"/><circle cx="1012.7" cy="697.5" r="9.5"/><circle cx="1017.1" cy="707.0" r="9.5"/><circle cx="1022.7" cy="716.0" r="9.5"/><circle cx="1028.8" cy="724.6" r="9.5"/><circle cx="1035.1" cy="733.1" r="9.5"/><circle cx="1038.7" cy="742.9" r="9.5"/><circle cx="1042.4" cy="752.8" r="9.5"/><circle cx="1044.9" cy="763.0" r="9.5"/><circle cx="1045.0" cy="773.4" r="9.5"/><circle cx="1042.5" cy="783.2" r="9.5"/><circle cx="1041.2" cy="793.4" r="9.5"/><circle cx="1046.5" cy="802.4" r="9.5"/><circle cx="1049.2" cy="812.3" r="9.5"/><circle cx="1054.2" cy="821.5" r="9.5"/><circle cx="1062.2" cy="828.3" r="9.5"/><circle cx="1068.8" cy="836.5" r="9.5"/><circle cx="1073.8" cy="845.6" r="9.5"/><circle cx="1080.4" cy="853.4" r="9.5"/><circle cx="1082.2" cy="863.8" r="9.5"/><circle cx="1075.8" cy="871.8" r="9.5"/><circle cx="1068.3" cy="879.0" r="9.5"/><circle cx="1068.2" cy="889.4" r="9.5"/><circle cx="1068.6" cy="899.9" r="9.5"/><circle cx="1063.6" cy="908.7" r="9.5"/><circle cx="1070.7" cy="914.7" r="9.5"/><circle cx="1081.0" cy="912.4" r="9.5"/><circle cx="1090.4" cy="916.0" r="9.5"/><circle cx="1096.7" cy="914.6" r="9.5"/><circle cx="1103.4" cy="906.8" r="9.5"/><circle cx="1099.9" cy="898.5" r="9.5"/><circle cx="1103.7" cy="889.2" r="9.5"/><circle cx="1113.1" cy="884.5" r="9.5"/><circle cx="1122.7" cy="883.6" r="9.5"/><circle cx="1129.6" cy="876.1" r="9.5"/><circle cx="1139.7" cy="875.0" r="9.5"/><circle cx="1146.8" cy="882.6" r="9.5"/><circle cx="1150.6" cy="892.2" r="9.5"/><circle cx="1156.9" cy="899.6" r="9.5"/><circle cx="1161.8" cy="908.6" r="9.5"/><circle cx="1160.5" cy="918.5" r="9.5"/><circle cx="1169.3" cy="919.2" r="9.5"/><circle cx="1175.7" cy="910.8" r="9.5"/><circle cx="1181.4" cy="902.0" r="9.5"/><circle cx="1186.1" cy="892.5" r="9.5"/><circle cx="1192.8" cy="884.4" r="9.5"/><circle cx="1195.8" cy="874.5" r="9.5"/><circle cx="1194.1" cy="864.3" r="9.5"/><circle cx="1190.9" cy="854.5" r="9.5"/><circle cx="1189.8" cy="844.1" r="9.5"/><circle cx="1185.5" cy="834.6" r="9.5"/><circle cx="1177.1" cy="828.2" r="9.5"/><circle cx="1168.4" cy="822.2" r="9.5"/><circle cx="1160.3" cy="815.4" r="9.5"/><circle cx="1151.5" cy="809.5" r="9.5"/><circle cx="1143.2" cy="803.1" r="9.5"/><circle cx="1133.3" cy="799.5" r="9.5"/><circle cx="1124.3" cy="794.3" r="9.5"/><circle cx="1115.0" cy="790.0" r="9.5"/><circle cx="1114.0" cy="780.1" r="9.5"/><circle cx="1118.2" cy="770.4" r="9.5"/><circle cx="1117.8" cy="760.3" r="9.5"/><circle cx="1110.4" cy="753.2" r="9.5"/><circle cx="1101.8" cy="747.2" r="9.5"/><circle cx="1095.2" cy="739.1" r="9.5"/><circle cx="1095.1" cy="729.6" r="9.5"/><circle cx="1085.4" cy="726.1" r="9.5"/><circle cx="1076.0" cy="721.6" r="9.5"/><circle cx="1066.6" cy="717.3" r="9.5"/><circle cx="1058.5" cy="710.5" r="9.5"/><circle cx="1049.7" cy="705.2" r="9.5"/><circle cx="1039.6" cy="702.1" r="9.5"/><circle cx="1030.0" cy="697.8" r="9.5"/><circle cx="1020.5" cy="693.3" r="9.5"/><circle cx="809.5" cy="1086.8" r="9.5"/><circle cx="819.5" cy="1089.3" r="9.5"/><circle cx="829.1" cy="1086.2" r="9.5"/><circle cx="838.8" cy="1082.6" r="9.5"/><circle cx="848.8" cy="1085.8" r="9.5"/><circle cx="853.8" cy="1081.5" r="9.5"/><circle cx="858.0" cy="1072.0" r="9.5"/><circle cx="867.1" cy="1067.8" r="9.5"/><circle cx="875.6" cy="1073.5" r="9.5"/><circle cx="880.3" cy="1075.3" r="9.5"/><circle cx="873.4" cy="1067.7" r="9.5"/><circle cx="871.3" cy="1057.4" r="9.5"/><circle cx="876.5" cy="1048.5" r="9.5"/><circle cx="884.0" cy="1041.2" r="9.5"/><circle cx="893.3" cy="1036.8" r="9.5"/><circle cx="901.5" cy="1042.5" r="9.5"/><circle cx="908.7" cy="1046.6" r="9.5"/><circle cx="915.6" cy="1053.8" r="9.5"/><circle cx="918.7" cy="1059.5" r="9.5"/><circle cx="928.6" cy="1056.2" r="9.5"/><circle cx="938.8" cy="1054.3" r="9.5"/><circle cx="949.2" cy="1053.1" r="9.5"/><circle cx="959.5" cy="1054.6" r="9.5"/><circle cx="956.0" cy="1046.0" r="9.5"/><circle cx="960.3" cy="1036.5" r="9.5"/><circle cx="962.0" cy="1026.2" r="9.5"/><circle cx="969.8" cy="1019.8" r="9.5"/><circle cx="979.3" cy="1015.4" r="9.5"/><circle cx="988.7" cy="1011.3" r="9.5"/><circle cx="998.5" cy="1015.1" r="9.5"/><circle cx="1008.5" cy="1017.8" r="9.5"/><circle cx="1018.6" cy="1019.3" r="9.5"/><circle cx="1028.5" cy="1017.0" r="9.5"/><circle cx="1037.1" cy="1022.9" r="9.5"/><circle cx="1046.4" cy="1018.8" r="9.5"/><circle cx="1050.5" cy="1011.0" r="9.5"/><circle cx="1050.5" cy="1000.5" r="9.5"/><circle cx="1050.5" cy="989.9" r="9.5"/><circle cx="1050.5" cy="979.4" r="9.5"/><circle cx="1050.5" cy="968.9" r="9.5"/><circle cx="1050.2" cy="962.2" r="9.5"/><circle cx="1043.3" cy="969.7" r="9.5"/><circle cx="1034.1" cy="974.7" r="9.5"/><circle cx="1023.8" cy="973.4" r="9.5"/><circle cx="1016.7" cy="971.6" r="9.5"/><circle cx="1011.7" cy="980.9" r="9.5"/><circle cx="1006.3" cy="989.9" r="9.5"/><circle cx="999.8" cy="998.0" r="9.5"/><circle cx="989.7" cy="1000.5" r="9.5"/><circle cx="981.5" cy="1001.8" r="9.5"/><circle cx="972.4" cy="1005.9" r="9.5"/><circle cx="963.2" cy="1004.1" r="9.5"/><circle cx="953.2" cy="1006.9" r="9.5"/><circle cx="946.1" cy="1013.7" r="9.5"/><circle cx="937.9" cy="1019.5" r="9.5"/><circle cx="927.3" cy="1019.5" r="9.5"/><circle cx="920.4" cy="1021.8" r="9.5"/><circle cx="912.3" cy="1027.8" r="9.5"/><circle cx="902.3" cy="1031.0" r="9.5"/><circle cx="892.2" cy="1033.5" r="9.5"/><circle cx="883.9" cy="1037.0" r="9.5"/><circle cx="875.6" cy="1042.9" r="9.5"/><circle cx="865.7" cy="1046.3" r="9.5"/><circle cx="855.3" cy="1045.0" r="9.5"/><circle cx="847.5" cy="1041.6" r="9.5"/><circle cx="844.8" cy="1051.6" r="9.5"/><circle cx="840.4" cy="1060.8" r="9.5"/><circle cx="831.2" cy="1065.7" r="9.5"/><circle cx="823.6" cy="1072.7" r="9.5"/><circle cx="818.3" cy="1081.8" r="9.5"/><circle cx="848.9" cy="1029.8" r="9.5"/><circle cx="850.1" cy="1027.5" r="9.5"/><circle cx="849.0" cy="1027.4" r="9.5"/><circle cx="853.6" cy="1014.4" r="9.5"/><circle cx="864.7" cy="1013.4" r="9.5"/><circle cx="866.8" cy="1006.2" r="9.5"/><circle cx="859.7" cy="997.1" r="9.5"/><circle cx="860.5" cy="986.7" r="9.5"/><circle cx="851.7" cy="991.4" r="9.5"/><circle cx="852.6" cy="1002.9" r="9.5"/><circle cx="1029.5" cy="972.9" r="9.5"/><circle cx="1029.5" cy="983.4" r="9.5"/><circle cx="1029.5" cy="994.0" r="9.5"/><circle cx="1029.5" cy="1004.5" r="9.5"/><circle cx="1029.5" cy="1015.0" r="9.5"/><circle cx="1033.4" cy="1021.9" r="9.5"/><circle cx="1042.6" cy="1016.8" r="9.5"/><circle cx="1051.2" cy="1010.8" r="9.5"/><circle cx="1059.9" cy="1004.8" r="9.5"/><circle cx="1068.6" cy="999.0" r="9.5"/><circle cx="1077.9" cy="994.2" r="9.5"/><circle cx="1087.6" cy="990.1" r="9.5"/><circle cx="1097.1" cy="985.6" r="9.5"/><circle cx="1106.5" cy="980.9" r="9.5"/><circle cx="1116.0" cy="976.4" r="9.5"/><circle cx="1125.5" cy="971.9" r="9.5"/><circle cx="1135.3" cy="968.2" r="9.5"/><circle cx="1145.4" cy="965.4" r="9.5"/><circle cx="1155.0" cy="961.2" r="9.5"/><circle cx="1165.1" cy="958.4" r="9.5"/><circle cx="1175.4" cy="956.0" r="9.5"/><circle cx="1185.4" cy="953.0" r="9.5"/><circle cx="1195.5" cy="950.4" r="9.5"/><circle cx="1200.2" cy="941.2" r="9.5"/><circle cx="1194.7" cy="939.9" r="9.5"/><circle cx="1185.3" cy="944.6" r="9.5"/><circle cx="1175.9" cy="949.3" r="9.5"/><circle cx="1167.5" cy="955.5" r="9.5"/><circle cx="1157.9" cy="959.1" r="9.5"/><circle cx="1147.4" cy="960.0" r="9.5"/><circle cx="1138.2" cy="961.1" r="9.5"/><circle cx="1129.7" cy="967.2" r="9.5"/><circle cx="1120.0" cy="971.1" r="9.5"/><circle cx="1110.3" cy="968.9" r="9.5"/><circle cx="1105.6" cy="959.5" r="9.5"/><circle cx="1106.7" cy="949.6" r="9.5"/><circle cx="1115.7" cy="944.6" r="9.5"/><circle cx="1125.3" cy="940.2" r="9.5"/><circle cx="1134.6" cy="935.5" r="9.5"/><circle cx="1143.4" cy="929.9" r="9.5"/><circle cx="1152.4" cy="924.6" r="9.5"/><circle cx="1162.2" cy="920.9" r="9.5"/><circle cx="1171.9" cy="917.2" r="9.5"/><circle cx="1178.8" cy="909.4" r="9.5"/><circle cx="1184.2" cy="900.4" r="9.5"/><circle cx="1189.1" cy="891.1" r="9.5"/><circle cx="1181.4" cy="889.5" r="9.5"/><circle cx="1170.9" cy="889.5" r="9.5"/><circle cx="1160.4" cy="889.5" r="9.5"/><circle cx="1149.8" cy="889.5" r="9.5"/><circle cx="1139.3" cy="889.5" r="9.5"/><circle cx="1128.8" cy="889.5" r="9.5"/><circle cx="1118.3" cy="889.5" r="9.5"/><circle cx="1107.8" cy="889.5" r="9.5"/><circle cx="1097.3" cy="889.5" r="9.5"/><circle cx="1086.8" cy="889.5" r="9.5"/><circle cx="1076.3" cy="889.5" r="9.5"/><circle cx="1065.8" cy="889.5" r="9.5"/><circle cx="1062.5" cy="898.9" r="9.5"/><circle cx="1063.1" cy="909.3" r="9.5"/><circle cx="1064.5" cy="919.7" r="9.5"/><circle cx="1063.7" cy="930.2" r="9.5"/><circle cx="1064.9" cy="940.4" r="9.5"/><circle cx="1068.2" cy="950.4" r="9.5"/><circle cx="1065.2" cy="959.9" r="9.5"/><circle cx="1055.3" cy="961.4" r="9.5"/><circle cx="1046.4" cy="962.8" r="9.5"/><circle cx="1039.5" cy="970.8" r="9.5"/><circle cx="1275.8" cy="873.5" r="9.5"/><circle cx="1281.3" cy="882.3" r="9.5"/><circle cx="1284.7" cy="892.3" r="9.5"/><circle cx="1285.6" cy="902.8" r="9.5"/><circle cx="1284.5" cy="913.3" r="9.5"/><circle cx="1283.2" cy="923.8" r="9.5"/><circle cx="1282.4" cy="934.3" r="9.5"/><circle cx="1281.1" cy="944.8" r="9.5"/><circle cx="1280.6" cy="955.4" r="9.5"/><circle cx="1281.3" cy="965.7" r="9.5"/><circle cx="1286.9" cy="974.7" r="9.5"/><circle cx="1292.8" cy="983.5" r="9.5"/><circle cx="1296.7" cy="993.3" r="9.5"/><circle cx="1299.1" cy="1003.5" r="9.5"/><circle cx="1292.8" cy="1011.4" r="9.5"/><circle cx="1286.3" cy="1017.8" r="9.5"/><circle cx="1284.0" cy="1027.6" r="9.5"/><circle cx="1274.5" cy="1031.9" r="9.5"/><circle cx="1267.6" cy="1039.1" r="9.5"/><circle cx="1265.6" cy="1049.5" r="9.5"/><circle cx="1265.6" cy="1060.0" r="9.5"/><circle cx="1268.9" cy="1069.2" r="9.5"/><circle cx="1278.7" cy="1073.1" r="9.5"/><circle cx="1288.4" cy="1074.6" r="9.5"/><circle cx="1297.0" cy="1068.4" r="9.5"/><circle cx="1307.2" cy="1067.4" r="9.5"/><circle cx="1316.5" cy="1063.9" r="9.5"/><circle cx="1324.7" cy="1057.3" r="9.5"/><circle cx="1331.6" cy="1049.4" r="9.5"/><circle cx="1336.9" cy="1040.2" r="9.5"/><circle cx="1342.5" cy="1031.3" r="9.5"/><circle cx="1346.7" cy="1022.7" r="9.5"/><circle cx="1348.3" cy="1012.5" r="9.5"/><circle cx="1350.1" cy="1002.3" r="9.5"/><circle cx="1349.3" cy="991.8" r="9.5"/><circle cx="1348.5" cy="981.2" r="9.5"/><circle cx="1348.5" cy="970.6" r="9.5"/><circle cx="1349.9" cy="960.1" r="9.5"/><circle cx="1350.1" cy="949.6" r="9.5"/><circle cx="1349.4" cy="939.1" r="9.5"/><circle cx="1348.5" cy="928.5" r="9.5"/><circle cx="1351.9" cy="918.7" r="9.5"/><circle cx="1352.7" cy="908.3" r="9.5"/><circle cx="1354.7" cy="897.9" r="9.5"/><circle cx="1356.5" cy="887.4" r="9.5"/><circle cx="1360.7" cy="878.0" r="9.5"/><circle cx="1360.0" cy="868.0" r="9.5"/><circle cx="1359.7" cy="857.7" r="9.5"/><circle cx="1365.8" cy="849.1" r="9.5"/><circle cx="1371.9" cy="840.7" r="9.5"/><circle cx="1370.2" cy="830.3" r="9.5"/><circle cx="1369.2" cy="819.8" r="9.5"/><circle cx="1369.9" cy="809.3" r="9.5"/><circle cx="1372.4" cy="799.0" r="9.5"/><circle cx="1374.4" cy="789.0" r="9.5"/><circle cx="1373.7" cy="778.5" r="9.5"/><circle cx="1371.6" cy="768.7" r="9.5"/><circle cx="1369.2" cy="758.7" r="9.5"/><circle cx="1367.2" cy="748.5" r="9.5"/><circle cx="1365.6" cy="738.3" r="9.5"/><circle cx="1363.7" cy="729.9" r="9.5"/><circle cx="1354.5" cy="724.6" r="9.5"/><circle cx="1344.8" cy="720.6" r="9.5"/><circle cx="1339.1" cy="728.0" r="9.5"/><circle cx="1334.2" cy="737.4" r="9.5"/><circle cx="1329.3" cy="746.7" r="9.5"/><circle cx="1327.9" cy="757.0" r="9.5"/><circle cx="1330.6" cy="767.2" r="9.5"/><circle cx="1332.3" cy="777.6" r="9.5"/><circle cx="1326.1" cy="785.5" r="9.5"/><circle cx="1316.8" cy="789.9" r="9.5"/><circle cx="1312.6" cy="799.3" r="9.5"/><circle cx="1310.5" cy="809.7" r="9.5"/><circle cx="1309.5" cy="820.2" r="9.5"/><circle cx="1311.0" cy="830.5" r="9.5"/><circle cx="1314.7" cy="840.4" r="9.5"/><circle cx="1317.8" cy="850.5" r="9.5"/><circle cx="1313.8" cy="860.0" r="9.5"/><circle cx="1306.0" cy="866.7" r="9.5"/><circle cx="1295.7" cy="868.7" r="9.5"/><circle cx="1285.1" cy="868.9" r="9.5"/><circle cx="1611.3" cy="996.8" r="9.5"/><circle cx="1621.6" cy="994.5" r="9.5"/><circle cx="1630.4" cy="988.6" r="9.5"/><circle cx="1638.6" cy="981.8" r="9.5"/><circle cx="1647.8" cy="976.7" r="9.5"/><circle cx="1655.5" cy="969.5" r="9.5"/><circle cx="1659.4" cy="959.7" r="9.5"/><circle cx="1665.4" cy="951.2" r="9.5"/><circle cx="1674.2" cy="945.6" r="9.5"/><circle cx="1681.7" cy="939.2" r="9.5"/><circle cx="1686.7" cy="929.9" r="9.5"/><circle cx="1693.2" cy="921.6" r="9.5"/><circle cx="1700.3" cy="914.1" r="9.5"/><circle cx="1706.1" cy="905.8" r="9.5"/><circle cx="1716.3" cy="902.8" r="9.5"/><circle cx="1724.0" cy="896.7" r="9.5"/><circle cx="1727.3" cy="886.6" r="9.5"/><circle cx="1733.4" cy="878.2" r="9.5"/><circle cx="1743.1" cy="875.4" r="9.5"/><circle cx="1751.1" cy="868.5" r="9.5"/><circle cx="1743.1" cy="863.0" r="9.5"/><circle cx="1733.7" cy="858.2" r="9.5"/><circle cx="1723.4" cy="858.1" r="9.5"/><circle cx="1712.9" cy="858.3" r="9.5"/><circle cx="1703.6" cy="853.2" r="9.5"/><circle cx="1693.2" cy="853.0" r="9.5"/><circle cx="1682.7" cy="851.2" r="9.5"/><circle cx="1672.3" cy="850.1" r="9.5"/><circle cx="1663.7" cy="856.0" r="9.5"/><circle cx="1661.7" cy="866.1" r="9.5"/><circle cx="1657.9" cy="875.5" r="9.5"/><circle cx="1649.0" cy="881.2" r="9.5"/><circle cx="1642.1" cy="889.1" r="9.5"/><circle cx="1632.6" cy="893.8" r="9.5"/><circle cx="1622.4" cy="896.8" r="9.5"/><circle cx="1628.1" cy="903.9" r="9.5"/><circle cx="1636.4" cy="910.1" r="9.5"/><circle cx="1636.2" cy="919.9" r="9.5"/><circle cx="1646.1" cy="922.8" r="9.5"/><circle cx="1649.8" cy="932.6" r="9.5"/><circle cx="1648.5" cy="942.7" r="9.5"/><circle cx="1639.1" cy="946.1" r="9.5"/><circle cx="1628.7" cy="944.5" r="9.5"/><circle cx="1625.1" cy="950.2" r="9.5"/><circle cx="1625.7" cy="960.6" r="9.5"/><circle cx="1618.3" cy="967.8" r="9.5"/><circle cx="1618.9" cy="977.8" r="9.5"/><circle cx="1617.0" cy="988.2" r="9.5"/><circle cx="529.1" cy="1115.0" r="9.5"/><circle cx="529.9" cy="1125.6" r="9.5"/><circle cx="534.2" cy="1134.3" r="9.5"/><circle cx="542.4" cy="1140.7" r="9.5"/><circle cx="545.5" cy="1150.7" r="9.5"/><circle cx="549.0" cy="1160.7" r="9.5"/><circle cx="554.5" cy="1169.7" r="9.5"/><circle cx="558.7" cy="1179.3" r="9.5"/><circle cx="565.3" cy="1187.5" r="9.5"/><circle cx="571.6" cy="1196.0" r="9.5"/><circle cx="578.5" cy="1203.9" r="9.5"/><circle cx="588.1" cy="1206.7" r="9.5"/><circle cx="597.9" cy="1209.7" r="9.5"/><circle cx="604.8" cy="1217.3" r="9.5"/><circle cx="615.0" cy="1216.2" r="9.5"/><circle cx="625.2" cy="1218.1" r="9.5"/><circle cx="633.6" cy="1224.4" r="9.5"/><circle cx="641.3" cy="1231.7" r="9.5"/><circle cx="650.0" cy="1236.9" r="9.5"/><circle cx="660.4" cy="1235.7" r="9.5"/><circle cx="669.5" cy="1240.8" r="9.5"/><circle cx="677.8" cy="1247.2" r="9.5"/><circle cx="685.2" cy="1253.1" r="9.5"/><circle cx="695.5" cy="1253.1" r="9.5"/><circle cx="701.0" cy="1261.6" r="9.5"/><circle cx="702.5" cy="1271.9" r="9.5"/><circle cx="701.2" cy="1282.4" r="9.5"/><circle cx="699.0" cy="1292.7" r="9.5"/><circle cx="694.3" cy="1302.1" r="9.5"/><circle cx="688.0" cy="1310.6" r="9.5"/><circle cx="683.8" cy="1320.3" r="9.5"/><circle cx="681.9" cy="1330.6" r="9.5"/><circle cx="682.6" cy="1340.5" r="9.5"/><circle cx="689.2" cy="1348.5" r="9.5"/><circle cx="693.6" cy="1358.0" r="9.5"/><circle cx="698.4" cy="1367.3" r="9.5"/><circle cx="706.4" cy="1374.0" r="9.5"/><circle cx="716.2" cy="1372.7" r="9.5"/><circle cx="725.9" cy="1368.6" r="9.5"/><circle cx="736.3" cy="1366.5" r="9.5"/><circle cx="746.6" cy="1364.4" r="9.5"/><circle cx="756.9" cy="1361.9" r="9.5"/><circle cx="767.3" cy="1360.3" r="9.5"/><circle cx="777.6" cy="1359.3" r="9.5"/><circle cx="784.9" cy="1352.1" r="9.5"/><circle cx="790.8" cy="1343.3" r="9.5"/><circle cx="797.1" cy="1334.8" r="9.5"/><circle cx="806.1" cy="1329.4" r="9.5"/><circle cx="810.0" cy="1321.4" r="9.5"/><circle cx="810.1" cy="1310.8" r="9.5"/><circle cx="815.9" cy="1302.7" r="9.5"/><circle cx="826.2" cy="1300.4" r="9.5"/><circle cx="835.4" cy="1295.6" r="9.5"/><circle cx="844.7" cy="1290.6" r="9.5"/><circle cx="853.5" cy="1284.8" r="9.5"/><circle cx="862.9" cy="1280.2" r="9.5"/><circle cx="873.0" cy="1277.6" r="9.5"/><circle cx="881.6" cy="1271.7" r="9.5"/><circle cx="889.9" cy="1265.3" r="9.5"/><circle cx="899.0" cy="1259.9" r="9.5"/><circle cx="909.3" cy="1260.2" r="9.5"/><circle cx="917.7" cy="1255.8" r="9.5"/><circle cx="923.1" cy="1246.8" r="9.5"/><circle cx="930.3" cy="1239.1" r="9.5"/><circle cx="935.2" cy="1230.0" r="9.5"/><circle cx="938.1" cy="1220.0" r="9.5"/><circle cx="944.5" cy="1211.9" r="9.5"/><circle cx="947.1" cy="1201.7" r="9.5"/><circle cx="952.4" cy="1192.6" r="9.5"/><circle cx="954.6" cy="1182.7" r="9.5"/><circle cx="948.5" cy="1174.1" r="9.5"/><circle cx="943.8" cy="1164.6" r="9.5"/><circle cx="941.2" cy="1154.6" r="9.5"/><circle cx="942.1" cy="1144.5" r="9.5"/><circle cx="935.1" cy="1137.6" r="9.5"/><circle cx="924.7" cy="1139.0" r="9.5"/><circle cx="914.5" cy="1138.5" r="9.5"/><circle cx="906.0" cy="1132.2" r="9.5"/><circle cx="899.2" cy="1125.1" r="9.5"/><circle cx="889.8" cy="1129.8" r="9.5"/><circle cx="879.9" cy="1133.5" r="9.5"/><circle cx="869.6" cy="1134.9" r="9.5"/><circle cx="860.8" cy="1129.2" r="9.5"/><circle cx="850.5" cy="1130.2" r="9.5"/><circle cx="843.0" cy="1123.2" r="9.5"/><circle cx="836.1" cy="1115.3" r="9.5"/><circle cx="826.2" cy="1111.8" r="9.5"/><circle cx="818.0" cy="1105.8" r="9.5"/><circle cx="819.4" cy="1095.8" r="9.5"/><circle cx="827.1" cy="1088.6" r="9.5"/><circle cx="836.1" cy="1083.2" r="9.5"/><circle cx="846.5" cy="1084.3" r="9.5"/><circle cx="852.0" cy="1076.2" r="9.5"/><circle cx="857.6" cy="1067.5" r="9.5"/><circle cx="867.6" cy="1067.8" r="9.5"/><circle cx="876.3" cy="1073.8" r="9.5"/><circle cx="881.0" cy="1072.7" r="9.5"/><circle cx="885.2" cy="1063.4" r="9.5"/><circle cx="895.2" cy="1062.4" r="9.5"/><circle cx="904.2" cy="1066.2" r="9.5"/><circle cx="913.6" cy="1061.3" r="9.5"/><circle cx="923.6" cy="1058.0" r="9.5"/><circle cx="934.0" cy="1057.1" r="9.5"/><circle cx="944.5" cy="1057.9" r="9.5"/><circle cx="955.0" cy="1058.8" r="9.5"/><circle cx="960.5" cy="1054.4" r="9.5"/><circle cx="954.9" cy="1049.5" r="9.5"/><circle cx="944.3" cy="1049.5" r="9.5"/><circle cx="933.7" cy="1049.5" r="9.5"/><circle cx="923.2" cy="1049.5" r="9.5"/><circle cx="912.9" cy="1051.0" r="9.5"/><circle cx="902.9" cy="1054.4" r="9.5"/><circle cx="892.6" cy="1056.5" r="9.5"/><circle cx="883.0" cy="1053.1" r="9.5"/><circle cx="873.6" cy="1049.5" r="9.5"/><circle cx="863.1" cy="1049.5" r="9.5"/><circle cx="852.5" cy="1049.5" r="9.5"/><circle cx="845.5" cy="1053.8" r="9.5"/><circle cx="838.7" cy="1061.4" r="9.5"/><circle cx="829.8" cy="1067.0" r="9.5"/><circle cx="822.3" cy="1074.5" r="9.5"/><circle cx="816.9" cy="1083.5" r="9.5"/><circle cx="809.0" cy="1089.9" r="9.5"/><circle cx="798.8" cy="1092.4" r="9.5"/><circle cx="790.3" cy="1098.6" r="9.5"/><circle cx="780.8" cy="1103.3" r="9.5"/><circle cx="770.5" cy="1104.9" r="9.5"/><circle cx="760.1" cy="1104.2" r="9.5"/><circle cx="751.2" cy="1098.7" r="9.5"/><circle cx="742.6" cy="1092.4" r="9.5"/><circle cx="735.7" cy="1084.6" r="9.5"/><circle cx="730.0" cy="1075.8" r="9.5"/><circle cx="721.1" cy="1075.5" r="9.5"/><circle cx="710.8" cy="1073.8" r="9.5"/><circle cx="701.4" cy="1069.3" r="9.5"/><circle cx="691.9" cy="1068.6" r="9.5"/><circle cx="681.6" cy="1071.2" r="9.5"/><circle cx="671.2" cy="1071.6" r="9.5"/><circle cx="660.8" cy="1070.0" r="9.5"/><circle cx="651.3" cy="1065.3" r="9.5"/><circle cx="641.2" cy="1066.0" r="9.5"/><circle cx="630.8" cy="1067.0" r="9.5"/><circle cx="620.3" cy="1065.5" r="9.5"/><circle cx="610.3" cy="1068.0" r="9.5"/><circle cx="600.2" cy="1071.0" r="9.5"/><circle cx="589.7" cy="1072.3" r="9.5"/><circle cx="579.7" cy="1075.3" r="9.5"/><circle cx="569.8" cy="1077.8" r="9.5"/><circle cx="560.4" cy="1076.5" r="9.5"/><circle cx="551.0" cy="1081.3" r="9.5"/><circle cx="542.4" cy="1086.6" r="9.5"/><circle cx="536.3" cy="1095.2" r="9.5"/><circle cx="532.5" cy="1105.0" r="9.5"/><circle cx="1060.2" cy="1144.3" r="9.5"/><circle cx="1065.5" cy="1152.5" r="9.5"/><circle cx="1075.5" cy="1152.1" r="9.5"/><circle cx="1082.9" cy="1159.5" r="9.5"/><circle cx="1082.3" cy="1169.5" r="9.5"/><circle cx="1085.7" cy="1178.6" r="9.5"/><circle cx="1091.5" cy="1187.3" r="9.5"/><circle cx="1096.0" cy="1196.8" r="9.5"/><circle cx="1104.3" cy="1198.6" r="9.5"/><circle cx="1112.1" cy="1205.0" r="9.5"/><circle cx="1116.1" cy="1214.6" r="9.5"/><circle cx="1116.9" cy="1225.0" r="9.5"/><circle cx="1118.4" cy="1232.8" r="9.5"/><circle cx="1125.7" cy="1240.1" r="9.5"/><circle cx="1123.4" cy="1249.9" r="9.5"/><circle cx="1132.5" cy="1250.0" r="9.5"/><circle cx="1140.1" cy="1242.9" r="9.5"/><circle cx="1149.8" cy="1245.2" r="9.5"/><circle cx="1154.0" cy="1254.7" r="9.5"/><circle cx="1153.0" cy="1265.1" r="9.5"/><circle cx="1155.2" cy="1275.3" r="9.5"/><circle cx="1155.0" cy="1285.7" r="9.5"/><circle cx="1150.4" cy="1294.8" r="9.5"/><circle cx="1140.4" cy="1295.5" r="9.5"/><circle cx="1133.8" cy="1287.4" r="9.5"/><circle cx="1127.7" cy="1279.1" r="9.5"/><circle cx="1129.1" cy="1287.2" r="9.5"/><circle cx="1127.2" cy="1297.0" r="9.5"/><circle cx="1122.2" cy="1302.0" r="9.5"/><circle cx="1130.3" cy="1308.7" r="9.5"/><circle cx="1137.1" cy="1316.7" r="9.5"/><circle cx="1145.1" cy="1323.1" r="9.5"/><circle cx="1153.5" cy="1328.8" r="9.5"/><circle cx="1153.6" cy="1339.2" r="9.5"/><circle cx="1152.2" cy="1349.6" r="9.5"/><circle cx="1149.1" cy="1359.7" r="9.5"/><circle cx="1152.5" cy="1369.3" r="9.5"/><circle cx="1155.2" cy="1379.4" r="9.5"/><circle cx="1159.0" cy="1389.1" r="9.5"/><circle cx="1166.0" cy="1396.9" r="9.5"/><circle cx="1170.6" cy="1406.0" r="9.5"/><circle cx="1178.6" cy="1411.0" r="9.5"/><circle cx="1188.7" cy="1408.5" r="9.5"/><circle cx="1199.0" cy="1406.2" r="9.5"/><circle cx="1208.6" cy="1401.8" r="9.5"/><circle cx="1216.3" cy="1395.1" r="9.5"/><circle cx="1217.4" cy="1384.7" r="9.5"/><circle cx="1224.3" cy="1376.8" r="9.5"/><circle cx="1228.1" cy="1367.2" r="9.5"/><circle cx="1226.1" cy="1357.0" r="9.5"/><circle cx="1220.6" cy="1348.1" r="9.5"/><circle cx="1213.4" cy="1340.4" r="9.5"/><circle cx="1206.8" cy="1332.2" r="9.5"/><circle cx="1198.9" cy="1325.7" r="9.5"/><circle cx="1189.9" cy="1320.7" r="9.5"/><circle cx="1186.6" cy="1310.8" r="9.5"/><circle cx="1181.3" cy="1301.8" r="9.5"/><circle cx="1174.6" cy="1293.7" r="9.5"/><circle cx="1175.1" cy="1283.4" r="9.5"/><circle cx="1171.5" cy="1273.8" r="9.5"/><circle cx="1171.9" cy="1263.3" r="9.5"/><circle cx="1167.2" cy="1254.1" r="9.5"/><circle cx="1162.4" cy="1244.8" r="9.5"/><circle cx="1163.0" cy="1234.4" r="9.5"/><circle cx="1160.0" cy="1224.4" r="9.5"/><circle cx="1158.0" cy="1214.1" r="9.5"/><circle cx="1155.9" cy="1203.8" r="9.5"/><circle cx="1155.1" cy="1193.4" r="9.5"/><circle cx="1155.6" cy="1182.8" r="9.5"/><circle cx="1153.0" cy="1172.8" r="9.5"/><circle cx="1148.3" cy="1163.4" r="9.5"/><circle cx="1145.2" cy="1153.4" r="9.5"/><circle cx="1136.7" cy="1150.5" r="9.5"/><circle cx="1127.4" cy="1146.2" r="9.5"/><circle cx="1118.8" cy="1140.5" r="9.5"/><circle cx="1108.4" cy="1139.1" r="9.5"/><circle cx="1098.2" cy="1140.9" r="9.5"/><circle cx="1088.0" cy="1141.8" r="9.5"/><circle cx="1078.0" cy="1138.6" r="9.5"/><circle cx="1067.7" cy="1137.4" r="9.5"/><circle cx="1448.8" cy="1287.3" r="9.5"/><circle cx="1454.4" cy="1295.9" r="9.5"/><circle cx="1460.1" cy="1304.7" r="9.5"/><circle cx="1462.9" cy="1314.5" r="9.5"/><circle cx="1462.9" cy="1324.7" r="9.5"/><circle cx="1462.0" cy="1335.1" r="9.5"/><circle cx="1453.6" cy="1340.6" r="9.5"/><circle cx="1444.0" cy="1345.0" r="9.5"/><circle cx="1446.7" cy="1353.3" r="9.5"/><circle cx="1456.6" cy="1356.8" r="9.5"/><circle cx="1465.8" cy="1361.5" r="9.5"/><circle cx="1475.0" cy="1364.8" r="9.5"/><circle cx="1483.5" cy="1371.0" r="9.5"/><circle cx="1489.4" cy="1379.3" r="9.5"/><circle cx="1490.7" cy="1389.6" r="9.5"/><circle cx="1497.5" cy="1395.3" r="9.5"/><circle cx="1506.5" cy="1397.9" r="9.5"/><circle cx="1512.9" cy="1389.7" r="9.5"/><circle cx="1519.9" cy="1381.9" r="9.5"/><circle cx="1527.7" cy="1374.9" r="9.5"/><circle cx="1534.2" cy="1367.0" r="9.5"/><circle cx="1541.9" cy="1360.0" r="9.5"/><circle cx="1547.4" cy="1351.0" r="9.5"/><circle cx="1544.1" cy="1341.8" r="9.5"/><circle cx="1536.5" cy="1335.6" r="9.5"/><circle cx="1526.8" cy="1333.3" r="9.5"/><circle cx="1520.4" cy="1325.0" r="9.5"/><circle cx="1512.6" cy="1318.3" r="9.5"/><circle cx="1504.6" cy="1311.8" r="9.5"/><circle cx="1496.0" cy="1306.4" r="9.5"/><circle cx="1487.9" cy="1299.7" r="9.5"/><circle cx="1478.8" cy="1295.0" r="9.5"/><circle cx="1470.8" cy="1288.1" r="9.5"/><circle cx="1462.1" cy="1282.2" r="9.5"/><circle cx="1454.9" cy="1279.3" r="9.5"/><circle cx="228.4" cy="1447.2" r="9.5"/><circle cx="233.3" cy="1456.3" r="9.5"/><circle cx="239.1" cy="1464.8" r="9.5"/><circle cx="248.3" cy="1469.8" r="9.5"/><circle cx="258.4" cy="1472.6" r="9.5"/><circle cx="268.6" cy="1474.1" r="9.5"/><circle cx="277.3" cy="1468.2" r="9.5"/><circle cx="287.2" cy="1464.7" r="9.5"/><circle cx="295.1" cy="1457.9" r="9.5"/><circle cx="302.3" cy="1450.2" r="9.5"/><circle cx="310.1" cy="1443.5" r="9.5"/><circle cx="317.4" cy="1436.0" r="9.5"/><circle cx="324.6" cy="1428.4" r="9.5"/><circle cx="334.3" cy="1426.5" r="9.5"/><circle cx="341.8" cy="1419.2" r="9.5"/><circle cx="349.9" cy="1412.5" r="9.5"/><circle cx="358.9" cy="1407.2" r="9.5"/><circle cx="366.5" cy="1400.0" r="9.5"/><circle cx="375.7" cy="1395.0" r="9.5"/><circle cx="381.7" cy="1386.3" r="9.5"/><circle cx="390.3" cy="1381.2" r="9.5"/><circle cx="400.1" cy="1381.0" r="9.5"/><circle cx="406.0" cy="1372.4" r="9.5"/><circle cx="409.5" cy="1366.5" r="9.5"/><circle cx="401.1" cy="1360.5" r="9.5"/><circle cx="391.3" cy="1363.3" r="9.5"/><circle cx="380.8" cy="1364.2" r="9.5"/><circle cx="370.3" cy="1363.4" r="9.5"/><circle cx="364.5" cy="1355.3" r="9.5"/><circle cx="362.2" cy="1345.6" r="9.5"/><circle cx="356.4" cy="1340.1" r="9.5"/><circle cx="349.6" cy="1347.5" r="9.5"/><circle cx="342.5" cy="1354.9" r="9.5"/><circle cx="335.0" cy="1362.3" r="9.5"/><circle cx="328.0" cy="1369.8" r="9.5"/><circle cx="322.2" cy="1378.1" r="9.5"/><circle cx="312.0" cy="1377.5" r="9.5"/><circle cx="302.1" cy="1374.0" r="9.5"/><circle cx="297.4" cy="1365.1" r="9.5"/><circle cx="291.8" cy="1362.6" r="9.5"/><circle cx="282.3" cy="1359.5" r="9.5"/><circle cx="276.6" cy="1350.7" r="9.5"/><circle cx="272.6" cy="1341.3" r="9.5"/><circle cx="275.8" cy="1331.6" r="9.5"/><circle cx="272.1" cy="1336.3" r="9.5"/><circle cx="269.3" cy="1346.5" r="9.5"/><circle cx="263.5" cy="1354.7" r="9.5"/><circle cx="255.9" cy="1361.4" r="9.5"/><circle cx="251.3" cy="1370.0" r="9.5"/><circle cx="253.0" cy="1380.4" r="9.5"/><circle cx="249.3" cy="1390.1" r="9.5"/><circle cx="248.1" cy="1400.5" r="9.5"/><circle cx="243.6" cy="1409.8" r="9.5"/><circle cx="242.8" cy="1420.3" r="9.5"/><circle cx="237.9" cy="1429.6" r="9.5"/><circle cx="233.2" cy="1438.1" r="9.5"/><circle cx="548.1" cy="1525.6" r="9.5"/><circle cx="549.3" cy="1536.0" r="9.5"/><circle cx="550.7" cy="1546.5" r="9.5"/><circle cx="551.3" cy="1556.9" r="9.5"/><circle cx="556.3" cy="1564.7" r="9.5"/><circle cx="565.6" cy="1568.5" r="9.5"/><circle cx="573.0" cy="1574.4" r="9.5"/><circle cx="583.1" cy="1576.3" r="9.5"/><circle cx="590.3" cy="1583.2" r="9.5"/><circle cx="599.9" cy="1585.9" r="9.5"/><circle cx="608.5" cy="1591.2" r="9.5"/><circle cx="618.9" cy="1592.2" r="9.5"/><circle cx="628.4" cy="1596.0" r="9.5"/><circle cx="637.2" cy="1601.8" r="9.5"/><circle cx="647.3" cy="1604.2" r="9.5"/><circle cx="656.5" cy="1608.8" r="9.5"/><circle cx="666.6" cy="1606.8" r="9.5"/><circle cx="675.9" cy="1610.4" r="9.5"/><circle cx="684.1" cy="1615.9" r="9.5"/><circle cx="694.4" cy="1615.0" r="9.5"/><circle cx="704.9" cy="1616.3" r="9.5"/><circle cx="714.9" cy="1619.3" r="9.5"/><circle cx="723.2" cy="1625.4" r="9.5"/><circle cx="730.5" cy="1623.0" r="9.5"/><circle cx="740.1" cy="1618.9" r="9.5"/><circle cx="747.1" cy="1611.1" r="9.5"/><circle cx="751.1" cy="1601.4" r="9.5"/><circle cx="759.9" cy="1596.6" r="9.5"/><circle cx="765.9" cy="1589.4" r="9.5"/><circle cx="762.5" cy="1579.7" r="9.5"/><circle cx="761.4" cy="1569.6" r="9.5"/><circle cx="762.9" cy="1559.2" r="9.5"/><circle cx="764.6" cy="1548.8" r="9.5"/><circle cx="762.8" cy="1538.7" r="9.5"/><circle cx="761.5" cy="1528.7" r="9.5"/><circle cx="762.1" cy="1518.6" r="9.5"/><circle cx="758.4" cy="1508.8" r="9.5"/><circle cx="755.1" cy="1498.8" r="9.5"/><circle cx="747.4" cy="1491.9" r="9.5"/><circle cx="737.8" cy="1487.9" r="9.5"/><circle cx="727.8" cy="1484.7" r="9.5"/><circle cx="718.4" cy="1480.0" r="9.5"/><circle cx="709.4" cy="1476.4" r="9.5"/><circle cx="699.2" cy="1476.0" r="9.5"/><circle cx="689.7" cy="1471.7" r="9.5"/><circle cx="680.9" cy="1467.2" r="9.5"/><circle cx="670.8" cy="1465.8" r="9.5"/><circle cx="661.2" cy="1465.9" r="9.5"/><circle cx="650.7" cy="1465.9" r="9.5"/><circle cx="641.1" cy="1469.2" r="9.5"/><circle cx="631.3" cy="1473.0" r="9.5"/><circle cx="621.0" cy="1474.7" r="9.5"/><circle cx="612.2" cy="1479.1" r="9.5"/><circle cx="602.8" cy="1483.0" r="9.5"/><circle cx="592.5" cy="1484.3" r="9.5"/><circle cx="582.9" cy="1488.5" r="9.5"/><circle cx="573.5" cy="1493.2" r="9.5"/><circle cx="565.4" cy="1499.4" r="9.5"/><circle cx="559.6" cy="1508.1" r="9.5"/><circle cx="553.1" cy="1516.4" r="9.5"/><circle cx="768.3" cy="1740.8" r="9.5"/><circle cx="770.4" cy="1751.0" r="9.5"/><circle cx="763.6" cy="1758.6" r="9.5"/><circle cx="757.3" cy="1766.6" r="9.5"/><circle cx="761.6" cy="1773.4" r="9.5"/><circle cx="764.3" cy="1783.2" r="9.5"/><circle cx="769.4" cy="1792.1" r="9.5"/><circle cx="778.7" cy="1796.8" r="9.5"/><circle cx="783.9" cy="1805.6" r="9.5"/><circle cx="792.6" cy="1811.5" r="9.5"/><circle cx="799.1" cy="1819.5" r="9.5"/><circle cx="804.1" cy="1828.7" r="9.5"/><circle cx="812.8" cy="1834.3" r="9.5"/><circle cx="821.8" cy="1838.7" r="9.5"/><circle cx="829.9" cy="1845.3" r="9.5"/><circle cx="831.1" cy="1855.6" r="9.5"/><circle cx="836.7" cy="1864.1" r="9.5"/><circle cx="842.0" cy="1872.9" r="9.5"/><circle cx="846.1" cy="1880.0" r="9.5"/><circle cx="856.5" cy="1880.5" r="9.5"/><circle cx="864.6" cy="1877.9" r="9.5"/><circle cx="869.7" cy="1868.6" r="9.5"/><circle cx="875.0" cy="1859.5" r="9.5"/><circle cx="878.3" cy="1849.6" r="9.5"/><circle cx="881.7" cy="1839.6" r="9.5"/><circle cx="886.2" cy="1830.2" r="9.5"/><circle cx="884.8" cy="1819.8" r="9.5"/><circle cx="883.9" cy="1809.4" r="9.5"/><circle cx="885.6" cy="1798.9" r="9.5"/><circle cx="891.1" cy="1790.1" r="9.5"/><circle cx="892.0" cy="1779.8" r="9.5"/><circle cx="888.3" cy="1770.0" r="9.5"/><circle cx="887.8" cy="1760.0" r="9.5"/><circle cx="892.0" cy="1752.3" r="9.5"/><circle cx="885.3" cy="1744.1" r="9.5"/><circle cx="881.0" cy="1734.6" r="9.5"/><circle cx="877.9" cy="1724.5" r="9.5"/><circle cx="873.4" cy="1715.1" r="9.5"/><circle cx="870.6" cy="1705.0" r="9.5"/><circle cx="867.8" cy="1695.0" r="9.5"/><circle cx="860.2" cy="1688.0" r="9.5"/><circle cx="851.5" cy="1682.1" r="9.5"/><circle cx="845.1" cy="1673.9" r="9.5"/><circle cx="835.6" cy="1669.4" r="9.5"/><circle cx="826.8" cy="1663.5" r="9.5"/><circle cx="819.0" cy="1662.0" r="9.5"/><circle cx="823.4" cy="1671.3" r="9.5"/><circle cx="818.1" cy="1679.9" r="9.5"/><circle cx="808.5" cy="1684.0" r="9.5"/><circle cx="805.2" cy="1693.5" r="9.5"/><circle cx="797.7" cy="1701.0" r="9.5"/><circle cx="794.2" cy="1710.7" r="9.5"/><circle cx="789.1" cy="1718.9" r="9.5"/><circle cx="783.6" cy="1727.6" r="9.5"/><circle cx="777.8" cy="1736.3" r="9.5"/><circle cx="1176.8" cy="1604.1" r="9.5"/><circle cx="1182.6" cy="1613.0" r="9.5"/><circle cx="1187.9" cy="1622.2" r="9.5"/><circle cx="1191.7" cy="1631.9" r="9.5"/><circle cx="1192.7" cy="1642.4" r="9.5"/><circle cx="1191.2" cy="1652.8" r="9.5"/><circle cx="1183.2" cy="1658.9" r="9.5"/><circle cx="1191.6" cy="1664.4" r="9.5"/><circle cx="1191.5" cy="1674.5" r="9.5"/><circle cx="1184.8" cy="1682.7" r="9.5"/><circle cx="1176.4" cy="1688.9" r="9.5"/><circle cx="1175.5" cy="1699.2" r="9.5"/><circle cx="1172.7" cy="1708.9" r="9.5"/><circle cx="1173.5" cy="1719.2" r="9.5"/><circle cx="1168.2" cy="1728.3" r="9.5"/><circle cx="1166.2" cy="1737.9" r="9.5"/><circle cx="1168.9" cy="1748.1" r="9.5"/><circle cx="1178.6" cy="1752.1" r="9.5"/><circle cx="1185.8" cy="1759.7" r="9.5"/><circle cx="1189.4" cy="1769.6" r="9.5"/><circle cx="1191.5" cy="1779.9" r="9.5"/><circle cx="1200.3" cy="1785.8" r="9.5"/><circle cx="1207.9" cy="1789.2" r="9.5"/><circle cx="1218.5" cy="1789.1" r="9.5"/><circle cx="1228.4" cy="1791.6" r="9.5"/><circle cx="1237.2" cy="1796.3" r="9.5"/><circle cx="1246.9" cy="1792.8" r="9.5"/><circle cx="1255.0" cy="1787.1" r="9.5"/><circle cx="1264.6" cy="1782.7" r="9.5"/><circle cx="1271.1" cy="1774.6" r="9.5"/><circle cx="1280.0" cy="1768.9" r="9.5"/><circle cx="1286.0" cy="1761.9" r="9.5"/><circle cx="1292.8" cy="1754.4" r="9.5"/><circle cx="1302.5" cy="1750.6" r="9.5"/><circle cx="1304.4" cy="1740.5" r="9.5"/><circle cx="1309.4" cy="1731.7" r="9.5"/><circle cx="1314.4" cy="1723.3" r="9.5"/><circle cx="1316.5" cy="1712.9" r="9.5"/><circle cx="1316.9" cy="1702.7" r="9.5"/><circle cx="1312.8" cy="1693.1" r="9.5"/><circle cx="1308.3" cy="1683.8" r="9.5"/><circle cx="1303.4" cy="1674.5" r="9.5"/><circle cx="1299.6" cy="1665.6" r="9.5"/><circle cx="1290.2" cy="1661.4" r="9.5"/><circle cx="1283.3" cy="1653.7" r="9.5"/><circle cx="1276.0" cy="1646.2" r="9.5"/><circle cx="1267.1" cy="1641.4" r="9.5"/><circle cx="1258.4" cy="1635.6" r="9.5"/><circle cx="1248.5" cy="1635.4" r="9.5"/><circle cx="1238.1" cy="1634.2" r="9.5"/><circle cx="1227.8" cy="1631.9" r="9.5"/><circle cx="1217.4" cy="1630.2" r="9.5"/><circle cx="1210.3" cy="1623.1" r="9.5"/><circle cx="1204.8" cy="1616.8" r="9.5"/><circle cx="1194.4" cy="1615.9" r="9.5"/><circle cx="1185.3" cy="1610.4" r="9.5"/><circle cx="395.3" cy="1680.5" r="9.5"/><circle cx="386.5" cy="1686.2" r="9.5"/><circle cx="377.0" cy="1690.4" r="9.5"/><circle cx="368.5" cy="1695.8" r="9.5"/><circle cx="358.1" cy="1695.9" r="9.5"/><circle cx="352.4" cy="1703.2" r="9.5"/><circle cx="344.3" cy="1709.6" r="9.5"/><circle cx="334.3" cy="1712.9" r="9.5"/><circle cx="324.6" cy="1716.5" r="9.5"/><circle cx="316.5" cy="1723.3" r="9.5"/><circle cx="307.3" cy="1727.5" r="9.5"/><circle cx="299.8" cy="1734.4" r="9.5"/><circle cx="291.8" cy="1739.9" r="9.5"/><circle cx="289.0" cy="1749.9" r="9.5"/><circle cx="284.5" cy="1759.1" r="9.5"/><circle cx="283.0" cy="1767.9" r="9.5"/><circle cx="288.2" cy="1776.8" r="9.5"/><circle cx="297.1" cy="1781.8" r="9.5"/><circle cx="307.2" cy="1783.7" r="9.5"/><circle cx="314.3" cy="1791.0" r="9.5"/><circle cx="324.6" cy="1791.8" r="9.5"/><circle cx="333.8" cy="1791.0" r="9.5"/><circle cx="341.8" cy="1785.0" r="9.5"/><circle cx="352.1" cy="1787.0" r="9.5"/><circle cx="361.9" cy="1790.5" r="9.5"/><circle cx="372.1" cy="1791.8" r="9.5"/><circle cx="378.1" cy="1783.5" r="9.5"/><circle cx="380.0" cy="1774.5" r="9.5"/><circle cx="385.4" cy="1766.0" r="9.5"/><circle cx="392.2" cy="1758.2" r="9.5"/><circle cx="399.9" cy="1752.0" r="9.5"/><circle cx="405.5" cy="1743.4" r="9.5"/><circle cx="411.6" cy="1735.0" r="9.5"/><circle cx="417.7" cy="1726.5" r="9.5"/><circle cx="409.8" cy="1722.9" r="9.5"/><circle cx="402.0" cy="1716.0" r="9.5"/><circle cx="400.2" cy="1706.1" r="9.5"/><circle cx="398.5" cy="1698.2" r="9.5"/><circle cx="392.2" cy="1690.4" r="9.5"/><circle cx="400.5" cy="1676.4" r="9.5"/><circle cx="403.1" cy="1675.2" r="9.5"/><circle cx="402.9" cy="1674.9" r="9.5"/><circle cx="1114.8" cy="421.9" r="9.3" fill="#5E4FA2"/><circle cx="1122.2" cy="435.9" r="9.3" fill="#5E4FA2"/><circle cx="1094.3" cy="460.1" r="9.3" fill="#5E4FA2"/><circle cx="1010.4" cy="472.2" r="9.3" fill="#5E4FA2"/><circle cx="1094.3" cy="440.9" r="9.3" fill="#5E4FA2"/><circle cx="1087.8" cy="439.6" r="9.3" fill="#5E4FA2"/><circle cx="1406.8" cy="603.7" r="8.75"/><circle cx="1410.2" cy="608.6" r="8.75"/><circle cx="1413.7" cy="613.6" r="8.75"/><circle cx="1251.0" cy="185.0" r="9.5" fill="#5E4FA2"/><circle cx="1255.0" cy="181.0" r="9.5" fill="#5E4FA2"/><circle cx="399.5" cy="452.0" r="9" fill="#5E4FA2"/><circle cx="410.0" cy="452.0" r="9" fill="#5E4FA2"/><circle cx="413.0" cy="440.0" r="9" fill="#5E4FA2"/><circle cx="420.0" cy="428.0" r="9" fill="#5E4FA2"/><circle cx="428.0" cy="418.0" r="9" fill="#5E4FA2"/><circle cx="436.0" cy="415.0" r="9" fill="#5E4FA2"/><circle cx="936.5" cy="628.0" r="9.5" fill="#5E4FA2"/><circle cx="940.0" cy="619.0" r="9.5" fill="#5E4FA2"/><circle cx="948.0" cy="611.0" r="9.5" fill="#5E4FA2"/><circle cx="956.0" cy="604.0" r="9.5" fill="#5E4FA2"/><circle cx="963.0" cy="599.5" r="9.5" fill="#5E4FA2"/><circle cx="885.7" cy="975.8" r="9.5" fill="#5E4FA2"/><circle cx="1043.0" cy="926.7" r="9.5" fill="#5E4FA2"/><circle cx="1015.7" cy="958.2" r="9.5" fill="#5E4FA2"/><circle cx="1048.0" cy="954.9" r="9.5" fill="#5E4FA2"/><circle cx="1062.9" cy="984.7" r="9.5" fill="#5E4FA2"/><circle cx="903.0" cy="950.8" r="9.5" fill="#5E4FA2"/><circle cx="885.5" cy="976.3" r="9.5" fill="#5E4FA2"/><circle cx="981.0" cy="986.4" r="9.5" fill="#5E4FA2"/><circle cx="1016.0" cy="958.8" r="9.5" fill="#5E4FA2"/><circle cx="967.1" cy="1060.0" r="9.3" fill="#5E4FA2"/><circle cx="976.9" cy="1063.1" r="9.3" fill="#5E4FA2"/><circle cx="983.1" cy="1071.4" r="9.3" fill="#5E4FA2"/><circle cx="988.3" cy="1076.6" r="9.3" fill="#5E4FA2"/><circle cx="995.0" cy="1081.0" r="9.3" fill="#5E4FA2"/><circle cx="1002.8" cy="1086.9" r="9.3" fill="#5E4FA2"/><circle cx="972.0" cy="1068.0" r="9.3" fill="#5E4FA2"/><circle cx="428.8" cy="1358.5" r="9.3" fill="#5E4FA2"/><circle cx="410.5" cy="1672.5" r="9.3" fill="#5E4FA2"/><circle cx="1602.8" cy="1000.2" r="9.5" fill="#5E4FA2"/><circle cx="1043.6" cy="927.1" r="9.5" fill="#5E4FA2"/><circle cx="1217.8" cy="968.8" r="9.5" fill="#5E4FA2"/><circle cx="1215.1" cy="956.7" r="9.5" fill="#5E4FA2"/><circle cx="1229.9" cy="956.7" r="9.5" fill="#5E4FA2"/><circle cx="1221.9" cy="960.7" r="9.5" fill="#5E4FA2"/><circle cx="1122.3" cy="913.6" r="9.5" fill="#5E4FA2"/><circle cx="1143.8" cy="915.0" r="9.5" fill="#5E4FA2"/><circle cx="1102.1" cy="920.4" r="9.5" fill="#5E4FA2"/><circle cx="1207.1" cy="935.7" r="9.3" fill="#5E4FA2"/><circle cx="1227.3" cy="931.1" r="9.3" fill="#5E4FA2"/><circle cx="1235.0" cy="915.5" r="9.3" fill="#5E4FA2"/><circle cx="1244.9" cy="921.8" r="9.3" fill="#5E4FA2"/><circle cx="1256.3" cy="894.3" r="9.3" fill="#5E4FA2"/><circle cx="1266.1" cy="879.3" r="9.3" fill="#5E4FA2"/><circle cx="1272.3" cy="916.6" r="9.3" fill="#5E4FA2"/><circle cx="1257.3" cy="948.7" r="9.3" fill="#5E4FA2"/><circle cx="1270.7" cy="939.4" r="9.3" fill="#5E4FA2"/><circle cx="1223.6" cy="955.4" r="9.3" fill="#5E4FA2"/><circle cx="1196.7" cy="950.2" r="9.3" fill="#5E4FA2"/><circle cx="1286.8" cy="919.2" r="9.3" fill="#5E4FA2"/><circle cx="1221.1" cy="929.5" r="9.3" fill="#5E4FA2"/><circle cx="1235.0" cy="921.8" r="9.3" fill="#5E4FA2"/><circle cx="1241.8" cy="914.0" r="9.3" fill="#5E4FA2"/><circle cx="1249.5" cy="924.3" r="9.3" fill="#5E4FA2"/><circle cx="1254.7" cy="911.4" r="9.3" fill="#5E4FA2"/><circle cx="1278.0" cy="926.9" r="9.3" fill="#5E4FA2"/><circle cx="1283.2" cy="937.3" r="9.3" fill="#5E4FA2"/><circle cx="1293.8" cy="841.8" r="9.5" fill="#5E4FA2"/><circle cx="1456.6" cy="744.9" r="9.25"/><circle cx="1458.8" cy="750.9" r="9.25"/><circle cx="1459.4" cy="773.8" r="9.25"/><circle cx="1469.6" cy="776.6" r="9.25"/><circle cx="1470.6" cy="779.4" r="9.25"/><circle cx="1427.7" cy="790.6" r="9.5" fill="#5E4FA2"/><circle cx="1485.5" cy="798.9" r="9.5" fill="#5E4FA2"/><circle cx="1502.2" cy="825.0" r="9.50"/><circle cx="1512.5" cy="828.8" r="9.50"/><circle cx="1518.1" cy="833.4" r="9.50"/><circle cx="1523.7" cy="838.1" r="9.50"/><circle cx="1530.2" cy="842.7" r="9.50"/><circle cx="1536.7" cy="847.4" r="9.50"/><circle cx="1541.7" cy="851.1" r="9.50"/><circle cx="1546.6" cy="854.8" r="9.50"/><circle cx="1551.6" cy="858.6" r="9.50"/><circle cx="1558.1" cy="864.2" r="9.50"/><circle cx="1564.7" cy="869.8" r="9.50"/><circle cx="1571.2" cy="874.4" r="9.50"/><circle cx="1577.7" cy="879.1" r="9.50"/><circle cx="1583.3" cy="882.8" r="9.50"/><circle cx="1588.9" cy="886.5" r="9.50"/><circle cx="1594.5" cy="889.3" r="9.50"/><circle cx="1600.1" cy="892.1" r="9.50"/><circle cx="1611.2" cy="895.8" r="9.50"/><circle cx="1617.8" cy="896.8" r="9.50"/><circle cx="1624.3" cy="897.7" r="9.50"/><circle cx="1454.5" cy="1059.6" r="9.1" fill="#5E4FA2"/><circle cx="1463.2" cy="1056.3" r="9.1" fill="#5E4FA2"/><circle cx="1483.1" cy="1058.0" r="9.1" fill="#5E4FA2"/><circle cx="1496.3" cy="1053.0" r="9.1" fill="#5E4FA2"/><circle cx="1473.1" cy="1062.9" r="9.1" fill="#5E4FA2"/><circle cx="1470.6" cy="1082.8" r="9.1" fill="#5E4FA2"/><circle cx="1484.7" cy="1074.5" r="9.1" fill="#5E4FA2"/><circle cx="1464.8" cy="1072.9" r="9.1" fill="#5E4FA2"/><circle cx="1486.4" cy="1066.3" r="9.1" fill="#5E4FA2"/><path d="M1559.3,1027.3 L1565,1039.8" fill="none" stroke="#5E4FA2" stroke-width="18.5" stroke-linecap="round"/><circle cx="880.2" cy="1072.1" r="9.3" fill="#5E4FA2"/><circle cx="879.0" cy="1085.2" r="9.3" fill="#5E4FA2"/><circle cx="855.2" cy="1087.6" r="9.3" fill="#5E4FA2"/><circle cx="686.2" cy="1278.1" r="9.3" fill="#5E4FA2"/><circle cx="1020.8" cy="1106.7" r="9.5" fill="#5E4FA2"/><circle cx="1024.3" cy="1116.4" r="9.5" fill="#5E4FA2"/><circle cx="1034.0" cy="1121.7" r="9.5" fill="#5E4FA2"/><circle cx="1052.5" cy="1122.6" r="9.5" fill="#5E4FA2"/><circle cx="773.9" cy="1613.3" r="9.5" fill="#5E4FA2"/><circle cx="803.8" cy="1641.9" r="9.5" fill="#5E4FA2"/></g><path d="M1092.5,928.4 L1098.3,928.4 L1103.7,924.7 L1106.6,918.5 L1109.9,916.4 L1114.8,919.3 L1119.0,923.1 L1122.7,924.3 L1129.3,923.9 L1137.2,923.9 L1131.4,926.0 L1126.4,929.7 L1123.1,930.9 L1114.8,933.4 L1107.4,937.6 L1098.3,938.8 L1094.6,937.6 L1092.9,933.0Z" fill="#fff"/><path d="M1111.5,897.5 L1119.6,894.8 L1127.7,892.1 L1135.7,887.4 L1141.1,886.1 L1141.1,892.1 L1145.2,898.8 L1151.9,906.9 L1154.6,913.6 L1153.2,919.0 L1149.2,917.7 L1145.2,911.0 L1138.4,908.9 L1134.4,913.6 L1131.7,920.4 L1126.3,923.1 L1120.9,921.7 L1116.9,917.7 L1114.2,911.0 L1112.9,905.6Z" fill="#fff"/><path d="M1092.7,929.8 L1098.1,925.8 L1104.8,924.4 L1108.8,920.4 L1112.9,919.0 L1114.2,921.7 L1112.9,925.8 L1108.8,932.5 L1103.4,936.5 L1098.1,937.9 L1094.7,935.2Z" fill="#fff"/><path d="M1102.8,964.8 L1108.8,961.4 L1115.5,960.1 L1116.2,966.1 L1112.9,970.2 L1107.5,967.5Z" fill="#fff"/><path d="M1024.0,997.1 L1033.5,995.7 L1041.5,994.4 L1046.9,997.1 L1048.3,1003.8 L1044.2,1006.5 L1036.1,1003.8 L1028.1,1001.1Z" fill="#fff"/><circle cx="620.5" cy="480.4" r="9.5" fill="#4B74B1"/><circle cx="627.0" cy="503.1" r="9.5" fill="#5566AB"/><circle cx="594.0" cy="532.2" r="9.5" fill="#5566AB"/><circle cx="673.6" cy="506.3" r="9.5" fill="#5566AB"/><circle cx="648.3" cy="572.3" r="9.5" fill="#5566AB"/><circle cx="737.6" cy="565.8" r="9.5" fill="#5566AB"/><circle cx="748.0" cy="577.5" r="9.5" fill="#5566AB"/><circle cx="391.9" cy="787.1" r="9.5" fill="#5566AB"/><circle cx="839.8" cy="811.5" r="9.5" fill="#5566AB"/><circle cx="780.9" cy="852.9" r="9.5" fill="#5566AB"/><circle cx="1079.4" cy="724.7" r="9.5" fill="#5566AB"/><circle cx="1051.3" cy="763.6" r="9.5" fill="#5566AB"/><circle cx="1071.2" cy="810.8" r="9.5" fill="#5566AB"/><circle cx="1135.8" cy="816.6" r="9.5" fill="#5566AB"/><circle cx="1183.0" cy="896.9" r="9.5" fill="#5566AB"/><circle cx="1115.9" cy="834.0" r="9.5" fill="#4B74B1"/><circle cx="979.0" cy="1014.7" r="9.5" fill="#4B74B1"/><circle cx="1046.3" cy="1018.7" r="9.5" fill="#4B74B1"/><circle cx="961.5" cy="1034.2" r="9.5" fill="#5566AB"/><circle cx="941.3" cy="1020.7" r="9.5" fill="#5566AB"/><circle cx="849.8" cy="987.1" r="9.5" fill="#5566AB"/><circle cx="1032.2" cy="973.9" r="9.5" fill="#9E0142"/><circle cx="1122.7" cy="914.8" r="9.3" fill="#5E4FA2"/><circle cx="1143.8" cy="915.6" r="9.3" fill="#5E4FA2"/><circle cx="1046.9" cy="1018.6" r="9.5" fill="#4B74B1"/><circle cx="1102.8" cy="948.6" r="9.5" fill="#5566AB"/><circle cx="1182.8" cy="897.5" r="9.5" fill="#5566AB"/><circle cx="1258.8" cy="901.1" r="9.3" fill="#5A5AA6"/><circle cx="1244.3" cy="944.5" r="9.3" fill="#5A5AA6"/><circle cx="1281.1" cy="894.8" r="9.3" fill="#5169AC"/><circle cx="1280.6" cy="958.0" r="9.3" fill="#5169AC"/><circle cx="1343.5" cy="819.0" r="9.5" fill="#5566AB"/><circle cx="1290.7" cy="884.3" r="9.5" fill="#5566AB"/><circle cx="1281.4" cy="895.7" r="9.5" fill="#5566AB"/><circle cx="1305.2" cy="905.0" r="9.5" fill="#5566AB"/><circle cx="1336.3" cy="899.8" r="9.5" fill="#5566AB"/><circle cx="1343.5" cy="943.3" r="9.5" fill="#5566AB"/><circle cx="1281.4" cy="960.9" r="9.5" fill="#5566AB"/><circle cx="1305.2" cy="977.4" r="9.5" fill="#5566AB"/><circle cx="1287.6" cy="1036.4" r="9.5" fill="#5169AC"/><circle cx="1343.5" cy="819.0" r="9.5" fill="#5169AC"/><circle cx="1290.7" cy="884.3" r="9.5" fill="#5169AC"/><circle cx="1328.0" cy="1016.8" r="9.5" fill="#5566AB"/><circle cx="554.0" cy="1091.2" r="9.5" fill="#4B74B1"/><circle cx="583.8" cy="1104.3" r="9.5" fill="#4B74B1"/><circle cx="1162.5" cy="1308.2" r="9.5" fill="#4B74B1"/><circle cx="1202.1" cy="1402.4" r="9.5" fill="#5566AB"/><circle cx="1120.2" cy="1146.3" r="9.5" fill="#5566AB"/><circle cx="1120.2" cy="1193.8" r="9.5" fill="#5566AB"/><circle cx="263.4" cy="1379.5" r="9.5" fill="#5566AB"/><circle cx="268.4" cy="1395.7" r="9.5" fill="#5566AB"/><circle cx="319.3" cy="1423.6" r="9.5" fill="#5566AB"/><circle cx="344.2" cy="1354.7" r="9.5" fill="#5566AB"/><circle cx="367.8" cy="1378.3" r="9.5" fill="#5566AB"/><circle cx="685.8" cy="1577.0" r="9.5" fill="#4B74B1"/><circle cx="583.1" cy="1569.3" r="9.5" fill="#5566AB"/><circle cx="1152.2" cy="1597.1" r="9.3" fill="#4A72B0"/><circle cx="1200.9" cy="1619.1" r="9.5" fill="#5566AB"/><circle cx="1284.1" cy="1717.2" r="9.5" fill="#5566AB"/><circle cx="1170.4" cy="1740.2" r="9.5" fill="#5566AB"/><circle cx="1195.3" cy="1738.3" r="9.5" fill="#5566AB"/><circle cx="1205.8" cy="1734.0" r="9.5" fill="#5566AB"/></g><rect x="152" y="98.9" width="1675.9" height="1867" fill="none" stroke="#333" stroke-width="2"/><line x1="139.2" y1="116.4" x2="152" y2="116.4" stroke="#333" stroke-width="4.3"/><text x="130.3" y="129.6" text-anchor="end" font-family="Liberation Sans, Arial, sans-serif" font-size="36.67" fill="#4D4D4D">20</text><line x1="139.2" y1="604.4" x2="152" y2="604.4" stroke="#333" stroke-width="4.3"/><text x="130.3" y="617.6" text-anchor="end" font-family="Liberation Sans, Arial, sans-serif" font-size="36.67" fill="#4D4D4D">10</text><line x1="139.2" y1="1092.4" x2="152" y2="1092.4" stroke="#333" stroke-width="4.3"/><text x="130.3" y="1105.6" text-anchor="end" font-family="Liberation Sans, Arial, sans-serif" font-size="36.67" fill="#4D4D4D">0</text><line x1="139.2" y1="1580.4" x2="152" y2="1580.4" stroke="#333" stroke-width="4.3"/><text x="130.3" y="1593.6" text-anchor="end" font-family="Liberation Sans, Arial, sans-serif" font-size="36.67" fill="#4D4D4D">-10</text><line x1="357.9" y1="1966" x2="357.9" y2="1978.7" stroke="#333" stroke-width="4.3"/><text x="357.9" y="2014.2" text-anchor="middle" font-family="Liberation Sans, Arial, sans-serif" font-size="36.67" fill="#4D4D4D">-10</text><line x1="874.3" y1="1966" x2="874.3" y2="1978.7" stroke="#333" stroke-width="4.3"/><text x="874.3" y="2014.2" text-anchor="middle" font-family="Liberation Sans, Arial, sans-serif" font-size="36.67" fill="#4D4D4D">0</text><line x1="1390.7" y1="1966" x2="1390.7" y2="1978.7" stroke="#333" stroke-width="4.3"/><text x="1390.7" y="2014.2" text-anchor="middle" font-family="Liberation Sans, Arial, sans-serif" font-size="36.67" fill="#4D4D4D">10</text><text x="989.6" y="2066" text-anchor="middle" font-family="Liberation Sans, Arial, sans-serif" font-size="45.83" fill="#000">UMAP 1</text><text transform="translate(56,1032.5) rotate(-90)" x="0" y="0" text-anchor="middle" font-family="Liberation Sans, Arial, sans-serif" font-size="45.83" fill="#000">UMAP 2</text><text x="151.6" y="63" font-family="Liberation Sans, Arial, sans-serif" font-size="54.5" fill="#000">Split0 21. PDX Human #21_1</text><text x="1897.5" y="858.9" font-family="Liberation Sans, Arial, sans-serif" font-size="45.83" fill="#000">Activity</text><rect x="1897.4" y="885.3" width="72" height="359.1" fill="url(#sp)"/><text x="1992.6" y="1257.6" font-family="Liberation Sans, Arial, sans-serif" font-size="36.67" fill="#000">0</text><line x1="1897.4" y1="1127.7" x2="1911.9" y2="1127.7" stroke="#fff" stroke-width="1.2"/><line x1="1954.9" y1="1127.7" x2="1969.4" y2="1127.7" stroke="#fff" stroke-width="1.2"/><text x="1992.6" y="1140.9" font-family="Liberation Sans, Arial, sans-serif" font-size="36.67" fill="#000">200</text><line x1="1897.4" y1="1011.1" x2="1911.9" y2="1011.1" stroke="#fff" stroke-width="1.2"/><line x1="1954.9" y1="1011.1" x2="1969.4" y2="1011.1" stroke="#fff" stroke-width="1.2"/><text x="1992.6" y="1024.3" font-family="Liberation Sans, Arial, sans-serif" font-size="36.67" fill="#000">400</text><line x1="1897.4" y1="894.4" x2="1911.9" y2="894.4" stroke="#fff" stroke-width="1.2"/><line x1="1954.9" y1="894.4" x2="1969.4" y2="894.4" stroke="#fff" stroke-width="1.2"/><text x="1992.6" y="907.6" font-family="Liberation Sans, Arial, sans-serif" font-size="36.67" fill="#000">600</text></svg></body></html>
